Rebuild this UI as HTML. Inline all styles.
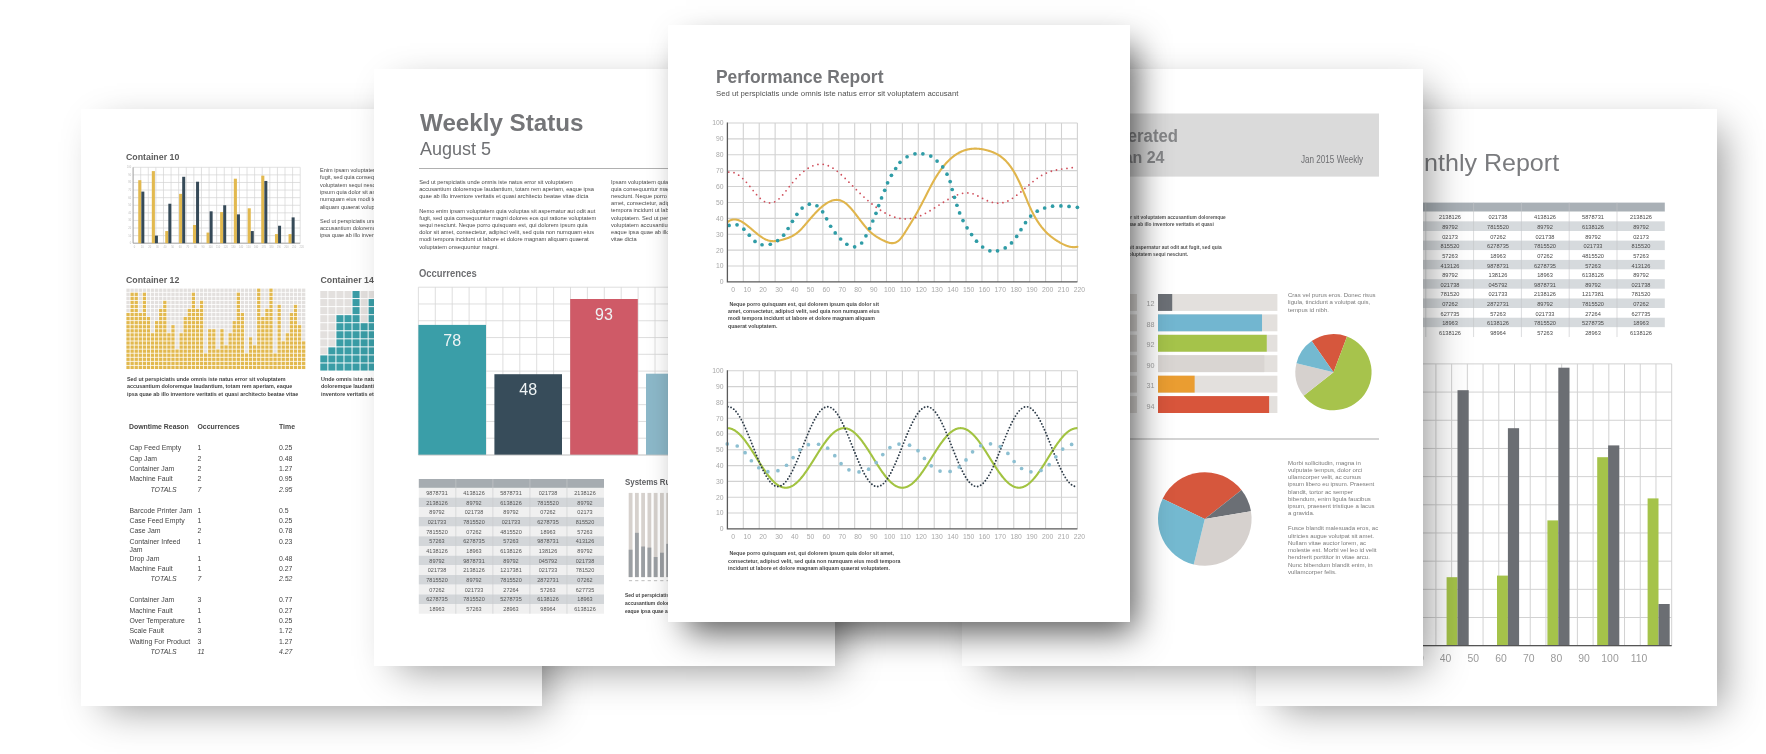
<!DOCTYPE html><html><head><meta charset="utf-8"><style>
html,body{margin:0;padding:0;background:#fff;}
body{width:1766px;height:754px;position:relative;overflow:hidden;font-family:"Liberation Sans", sans-serif;}
.pg{position:absolute;background:#fff;overflow:hidden;}
.in{position:absolute;width:1766px;height:754px;will-change:transform;}
.t{position:absolute;white-space:nowrap;}
.r{position:absolute;}
svg{position:absolute;left:0;top:0;overflow:visible;}
.pg{box-shadow: 14.3px 11.5px 38px -8.9px rgba(0,0,0,0.42);}
.pg.p3{box-shadow: 11.7px 15.4px 32.8px -5.9px rgba(0,0,0,0.67);}
</style></head><body>
<div class="pg p1" style="left:81px;top:109px;width:461px;height:597px;z-index:1;">
<div class="in" style="left:-81px;top:-109px;">
<svg width="1766" height="754" viewBox="0 0 1766 754"><line x1="133.1" y1="167.3" x2="133.1" y2="243.2" stroke="#d4d4d4" stroke-width="0.7"/><line x1="140.7" y1="167.3" x2="140.7" y2="243.2" stroke="#d4d4d4" stroke-width="0.7"/><line x1="148.29" y1="167.3" x2="148.29" y2="243.2" stroke="#d4d4d4" stroke-width="0.7"/><line x1="155.89" y1="167.3" x2="155.89" y2="243.2" stroke="#d4d4d4" stroke-width="0.7"/><line x1="163.48" y1="167.3" x2="163.48" y2="243.2" stroke="#d4d4d4" stroke-width="0.7"/><line x1="171.08" y1="167.3" x2="171.08" y2="243.2" stroke="#d4d4d4" stroke-width="0.7"/><line x1="178.67" y1="167.3" x2="178.67" y2="243.2" stroke="#d4d4d4" stroke-width="0.7"/><line x1="186.27" y1="167.3" x2="186.27" y2="243.2" stroke="#d4d4d4" stroke-width="0.7"/><line x1="193.86" y1="167.3" x2="193.86" y2="243.2" stroke="#d4d4d4" stroke-width="0.7"/><line x1="201.46" y1="167.3" x2="201.46" y2="243.2" stroke="#d4d4d4" stroke-width="0.7"/><line x1="209.05" y1="167.3" x2="209.05" y2="243.2" stroke="#d4d4d4" stroke-width="0.7"/><line x1="216.65" y1="167.3" x2="216.65" y2="243.2" stroke="#d4d4d4" stroke-width="0.7"/><line x1="224.25" y1="167.3" x2="224.25" y2="243.2" stroke="#d4d4d4" stroke-width="0.7"/><line x1="231.84" y1="167.3" x2="231.84" y2="243.2" stroke="#d4d4d4" stroke-width="0.7"/><line x1="239.44" y1="167.3" x2="239.44" y2="243.2" stroke="#d4d4d4" stroke-width="0.7"/><line x1="247.03" y1="167.3" x2="247.03" y2="243.2" stroke="#d4d4d4" stroke-width="0.7"/><line x1="254.63" y1="167.3" x2="254.63" y2="243.2" stroke="#d4d4d4" stroke-width="0.7"/><line x1="262.22" y1="167.3" x2="262.22" y2="243.2" stroke="#d4d4d4" stroke-width="0.7"/><line x1="269.82" y1="167.3" x2="269.82" y2="243.2" stroke="#d4d4d4" stroke-width="0.7"/><line x1="277.41" y1="167.3" x2="277.41" y2="243.2" stroke="#d4d4d4" stroke-width="0.7"/><line x1="285.01" y1="167.3" x2="285.01" y2="243.2" stroke="#d4d4d4" stroke-width="0.7"/><line x1="292.6" y1="167.3" x2="292.6" y2="243.2" stroke="#d4d4d4" stroke-width="0.7"/><line x1="300.2" y1="167.3" x2="300.2" y2="243.2" stroke="#d4d4d4" stroke-width="0.7"/><line x1="133.1" y1="167.3" x2="300.2" y2="167.3" stroke="#d4d4d4" stroke-width="0.7"/><line x1="133.1" y1="174.89" x2="300.2" y2="174.89" stroke="#d4d4d4" stroke-width="0.7"/><line x1="133.1" y1="182.48" x2="300.2" y2="182.48" stroke="#d4d4d4" stroke-width="0.7"/><line x1="133.1" y1="190.07" x2="300.2" y2="190.07" stroke="#d4d4d4" stroke-width="0.7"/><line x1="133.1" y1="197.66" x2="300.2" y2="197.66" stroke="#d4d4d4" stroke-width="0.7"/><line x1="133.1" y1="205.25" x2="300.2" y2="205.25" stroke="#d4d4d4" stroke-width="0.7"/><line x1="133.1" y1="212.84" x2="300.2" y2="212.84" stroke="#d4d4d4" stroke-width="0.7"/><line x1="133.1" y1="220.43" x2="300.2" y2="220.43" stroke="#d4d4d4" stroke-width="0.7"/><line x1="133.1" y1="228.02" x2="300.2" y2="228.02" stroke="#d4d4d4" stroke-width="0.7"/><line x1="133.1" y1="235.61" x2="300.2" y2="235.61" stroke="#d4d4d4" stroke-width="0.7"/><line x1="133.1" y1="243.2" x2="300.2" y2="243.2" stroke="#d4d4d4" stroke-width="0.7"/><line x1="133.1" y1="167.3" x2="133.1" y2="243.2" stroke="#999" stroke-width="0.8"/><line x1="133.1" y1="243.2" x2="300.2" y2="243.2" stroke="#999" stroke-width="0.8"/><rect x="138.24" y="180.2" width="3.1" height="63" fill="#e2b94f"/><rect x="141.34" y="191.59" width="3.0" height="51.61" fill="#364a58"/><rect x="151.81" y="171.1" width="3.1" height="72.1" fill="#e2b94f"/><rect x="154.91" y="235.61" width="3.0" height="7.59" fill="#364a58"/><rect x="165.24" y="231.06" width="3.1" height="12.14" fill="#e2b94f"/><rect x="168.34" y="203.73" width="3.0" height="39.47" fill="#364a58"/><rect x="179.1" y="193.87" width="3.1" height="49.33" fill="#e2b94f"/><rect x="182.2" y="176.79" width="3.0" height="66.41" fill="#364a58"/><rect x="192.96" y="224.98" width="3.1" height="18.22" fill="#e2b94f"/><rect x="196.06" y="181.72" width="3.0" height="61.48" fill="#364a58"/><rect x="206.53" y="232.57" width="3.1" height="10.63" fill="#e2b94f"/><rect x="209.63" y="211.32" width="3.0" height="31.88" fill="#364a58"/><rect x="220.1" y="212.08" width="3.1" height="31.12" fill="#e2b94f"/><rect x="223.2" y="205.25" width="3.0" height="37.95" fill="#364a58"/><rect x="233.82" y="178.69" width="3.1" height="64.51" fill="#e2b94f"/><rect x="236.92" y="214.36" width="3.0" height="28.84" fill="#364a58"/><rect x="247.68" y="208.29" width="3.1" height="34.91" fill="#e2b94f"/><rect x="250.78" y="231.06" width="3.0" height="12.14" fill="#364a58"/><rect x="261.25" y="175.65" width="3.1" height="67.55" fill="#e2b94f"/><rect x="264.35" y="180.96" width="3.0" height="62.24" fill="#364a58"/><rect x="274.97" y="234.09" width="3.1" height="9.11" fill="#e2b94f"/><rect x="278.07" y="225.74" width="3.0" height="17.46" fill="#364a58"/><rect x="288.54" y="234.09" width="3.1" height="9.11" fill="#e2b94f"/><rect x="291.64" y="217.39" width="3.0" height="25.81" fill="#364a58"/><text x="131.1" y="244.2" font-size="2.6" fill="#bbb" text-anchor="end" font-family="Liberation Sans">0</text><text x="131.1" y="236.61" font-size="2.6" fill="#bbb" text-anchor="end" font-family="Liberation Sans">10</text><text x="131.1" y="229.02" font-size="2.6" fill="#bbb" text-anchor="end" font-family="Liberation Sans">20</text><text x="131.1" y="221.43" font-size="2.6" fill="#bbb" text-anchor="end" font-family="Liberation Sans">30</text><text x="131.1" y="213.84" font-size="2.6" fill="#bbb" text-anchor="end" font-family="Liberation Sans">40</text><text x="131.1" y="206.25" font-size="2.6" fill="#bbb" text-anchor="end" font-family="Liberation Sans">50</text><text x="131.1" y="198.66" font-size="2.6" fill="#bbb" text-anchor="end" font-family="Liberation Sans">60</text><text x="131.1" y="191.07" font-size="2.6" fill="#bbb" text-anchor="end" font-family="Liberation Sans">70</text><text x="131.1" y="183.48" font-size="2.6" fill="#bbb" text-anchor="end" font-family="Liberation Sans">80</text><text x="131.1" y="175.89" font-size="2.6" fill="#bbb" text-anchor="end" font-family="Liberation Sans">90</text><text x="131.1" y="168.3" font-size="2.6" fill="#bbb" text-anchor="end" font-family="Liberation Sans">100</text><text x="134.6" y="247.7" font-size="2.6" fill="#bbb" text-anchor="middle" font-family="Liberation Sans">0</text><text x="142.2" y="247.7" font-size="2.6" fill="#bbb" text-anchor="middle" font-family="Liberation Sans">10</text><text x="149.79" y="247.7" font-size="2.6" fill="#bbb" text-anchor="middle" font-family="Liberation Sans">20</text><text x="157.39" y="247.7" font-size="2.6" fill="#bbb" text-anchor="middle" font-family="Liberation Sans">30</text><text x="164.98" y="247.7" font-size="2.6" fill="#bbb" text-anchor="middle" font-family="Liberation Sans">40</text><text x="172.58" y="247.7" font-size="2.6" fill="#bbb" text-anchor="middle" font-family="Liberation Sans">50</text><text x="180.17" y="247.7" font-size="2.6" fill="#bbb" text-anchor="middle" font-family="Liberation Sans">60</text><text x="187.77" y="247.7" font-size="2.6" fill="#bbb" text-anchor="middle" font-family="Liberation Sans">70</text><text x="195.36" y="247.7" font-size="2.6" fill="#bbb" text-anchor="middle" font-family="Liberation Sans">80</text><text x="202.96" y="247.7" font-size="2.6" fill="#bbb" text-anchor="middle" font-family="Liberation Sans">90</text><text x="210.55" y="247.7" font-size="2.6" fill="#bbb" text-anchor="middle" font-family="Liberation Sans">100</text><text x="218.15" y="247.7" font-size="2.6" fill="#bbb" text-anchor="middle" font-family="Liberation Sans">110</text><text x="225.75" y="247.7" font-size="2.6" fill="#bbb" text-anchor="middle" font-family="Liberation Sans">120</text><text x="233.34" y="247.7" font-size="2.6" fill="#bbb" text-anchor="middle" font-family="Liberation Sans">130</text><text x="240.94" y="247.7" font-size="2.6" fill="#bbb" text-anchor="middle" font-family="Liberation Sans">140</text><text x="248.53" y="247.7" font-size="2.6" fill="#bbb" text-anchor="middle" font-family="Liberation Sans">150</text><text x="256.13" y="247.7" font-size="2.6" fill="#bbb" text-anchor="middle" font-family="Liberation Sans">160</text><text x="263.72" y="247.7" font-size="2.6" fill="#bbb" text-anchor="middle" font-family="Liberation Sans">170</text><text x="271.32" y="247.7" font-size="2.6" fill="#bbb" text-anchor="middle" font-family="Liberation Sans">180</text><text x="278.91" y="247.7" font-size="2.6" fill="#bbb" text-anchor="middle" font-family="Liberation Sans">190</text><text x="286.51" y="247.7" font-size="2.6" fill="#bbb" text-anchor="middle" font-family="Liberation Sans">200</text><text x="294.1" y="247.7" font-size="2.6" fill="#bbb" text-anchor="middle" font-family="Liberation Sans">210</text><text x="301.7" y="247.7" font-size="2.6" fill="#bbb" text-anchor="middle" font-family="Liberation Sans">220</text><rect x="126.4" y="288.6" width="3.3" height="3.3" fill="#e3e0de"/><rect x="126.4" y="292.66" width="3.3" height="3.3" fill="#e3e0de"/><rect x="126.4" y="296.72" width="3.3" height="3.3" fill="#e3e0de"/><rect x="126.4" y="300.78" width="3.3" height="3.3" fill="#e3e0de"/><rect x="126.4" y="304.84" width="3.3" height="3.3" fill="#e3e0de"/><rect x="126.4" y="308.9" width="3.3" height="3.3" fill="#e3e0de"/><rect x="126.4" y="312.96" width="3.3" height="3.3" fill="#e2b94f"/><rect x="126.4" y="317.02" width="3.3" height="3.3" fill="#e2b94f"/><rect x="126.4" y="321.08" width="3.3" height="3.3" fill="#e2b94f"/><rect x="126.4" y="325.14" width="3.3" height="3.3" fill="#e2b94f"/><rect x="126.4" y="329.2" width="3.3" height="3.3" fill="#e2b94f"/><rect x="126.4" y="333.26" width="3.3" height="3.3" fill="#e2b94f"/><rect x="126.4" y="337.32" width="3.3" height="3.3" fill="#e2b94f"/><rect x="126.4" y="341.38" width="3.3" height="3.3" fill="#e2b94f"/><rect x="126.4" y="345.44" width="3.3" height="3.3" fill="#e2b94f"/><rect x="126.4" y="349.5" width="3.3" height="3.3" fill="#e2b94f"/><rect x="126.4" y="353.56" width="3.3" height="3.3" fill="#e2b94f"/><rect x="126.4" y="357.62" width="3.3" height="3.3" fill="#e2b94f"/><rect x="126.4" y="361.68" width="3.3" height="3.3" fill="#e2b94f"/><rect x="126.4" y="365.74" width="3.3" height="3.3" fill="#e2b94f"/><rect x="130.48" y="288.6" width="3.3" height="3.3" fill="#e3e0de"/><rect x="130.48" y="292.66" width="3.3" height="3.3" fill="#e2b94f"/><rect x="130.48" y="296.72" width="3.3" height="3.3" fill="#e2b94f"/><rect x="130.48" y="300.78" width="3.3" height="3.3" fill="#e2b94f"/><rect x="130.48" y="304.84" width="3.3" height="3.3" fill="#e2b94f"/><rect x="130.48" y="308.9" width="3.3" height="3.3" fill="#e2b94f"/><rect x="130.48" y="312.96" width="3.3" height="3.3" fill="#e2b94f"/><rect x="130.48" y="317.02" width="3.3" height="3.3" fill="#e2b94f"/><rect x="130.48" y="321.08" width="3.3" height="3.3" fill="#e2b94f"/><rect x="130.48" y="325.14" width="3.3" height="3.3" fill="#e2b94f"/><rect x="130.48" y="329.2" width="3.3" height="3.3" fill="#e2b94f"/><rect x="130.48" y="333.26" width="3.3" height="3.3" fill="#e2b94f"/><rect x="130.48" y="337.32" width="3.3" height="3.3" fill="#e2b94f"/><rect x="130.48" y="341.38" width="3.3" height="3.3" fill="#e2b94f"/><rect x="130.48" y="345.44" width="3.3" height="3.3" fill="#e2b94f"/><rect x="130.48" y="349.5" width="3.3" height="3.3" fill="#e2b94f"/><rect x="130.48" y="353.56" width="3.3" height="3.3" fill="#e2b94f"/><rect x="130.48" y="357.62" width="3.3" height="3.3" fill="#e2b94f"/><rect x="130.48" y="361.68" width="3.3" height="3.3" fill="#e2b94f"/><rect x="130.48" y="365.74" width="3.3" height="3.3" fill="#e2b94f"/><rect x="134.57" y="288.6" width="3.3" height="3.3" fill="#e3e0de"/><rect x="134.57" y="292.66" width="3.3" height="3.3" fill="#e2b94f"/><rect x="134.57" y="296.72" width="3.3" height="3.3" fill="#e2b94f"/><rect x="134.57" y="300.78" width="3.3" height="3.3" fill="#e2b94f"/><rect x="134.57" y="304.84" width="3.3" height="3.3" fill="#e2b94f"/><rect x="134.57" y="308.9" width="3.3" height="3.3" fill="#e2b94f"/><rect x="134.57" y="312.96" width="3.3" height="3.3" fill="#e2b94f"/><rect x="134.57" y="317.02" width="3.3" height="3.3" fill="#e2b94f"/><rect x="134.57" y="321.08" width="3.3" height="3.3" fill="#e2b94f"/><rect x="134.57" y="325.14" width="3.3" height="3.3" fill="#e2b94f"/><rect x="134.57" y="329.2" width="3.3" height="3.3" fill="#e2b94f"/><rect x="134.57" y="333.26" width="3.3" height="3.3" fill="#e2b94f"/><rect x="134.57" y="337.32" width="3.3" height="3.3" fill="#e2b94f"/><rect x="134.57" y="341.38" width="3.3" height="3.3" fill="#e2b94f"/><rect x="134.57" y="345.44" width="3.3" height="3.3" fill="#e2b94f"/><rect x="134.57" y="349.5" width="3.3" height="3.3" fill="#e2b94f"/><rect x="134.57" y="353.56" width="3.3" height="3.3" fill="#e2b94f"/><rect x="134.57" y="357.62" width="3.3" height="3.3" fill="#e2b94f"/><rect x="134.57" y="361.68" width="3.3" height="3.3" fill="#e2b94f"/><rect x="134.57" y="365.74" width="3.3" height="3.3" fill="#e2b94f"/><rect x="138.65" y="288.6" width="3.3" height="3.3" fill="#e3e0de"/><rect x="138.65" y="292.66" width="3.3" height="3.3" fill="#e3e0de"/><rect x="138.65" y="296.72" width="3.3" height="3.3" fill="#e3e0de"/><rect x="138.65" y="300.78" width="3.3" height="3.3" fill="#e3e0de"/><rect x="138.65" y="304.84" width="3.3" height="3.3" fill="#e3e0de"/><rect x="138.65" y="308.9" width="3.3" height="3.3" fill="#e3e0de"/><rect x="138.65" y="312.96" width="3.3" height="3.3" fill="#e2b94f"/><rect x="138.65" y="317.02" width="3.3" height="3.3" fill="#e2b94f"/><rect x="138.65" y="321.08" width="3.3" height="3.3" fill="#e2b94f"/><rect x="138.65" y="325.14" width="3.3" height="3.3" fill="#e2b94f"/><rect x="138.65" y="329.2" width="3.3" height="3.3" fill="#e2b94f"/><rect x="138.65" y="333.26" width="3.3" height="3.3" fill="#e2b94f"/><rect x="138.65" y="337.32" width="3.3" height="3.3" fill="#e2b94f"/><rect x="138.65" y="341.38" width="3.3" height="3.3" fill="#e2b94f"/><rect x="138.65" y="345.44" width="3.3" height="3.3" fill="#e2b94f"/><rect x="138.65" y="349.5" width="3.3" height="3.3" fill="#e2b94f"/><rect x="138.65" y="353.56" width="3.3" height="3.3" fill="#e2b94f"/><rect x="138.65" y="357.62" width="3.3" height="3.3" fill="#e2b94f"/><rect x="138.65" y="361.68" width="3.3" height="3.3" fill="#e2b94f"/><rect x="138.65" y="365.74" width="3.3" height="3.3" fill="#e2b94f"/><rect x="142.74" y="288.6" width="3.3" height="3.3" fill="#e3e0de"/><rect x="142.74" y="292.66" width="3.3" height="3.3" fill="#e2b94f"/><rect x="142.74" y="296.72" width="3.3" height="3.3" fill="#e2b94f"/><rect x="142.74" y="300.78" width="3.3" height="3.3" fill="#e2b94f"/><rect x="142.74" y="304.84" width="3.3" height="3.3" fill="#e2b94f"/><rect x="142.74" y="308.9" width="3.3" height="3.3" fill="#e2b94f"/><rect x="142.74" y="312.96" width="3.3" height="3.3" fill="#e2b94f"/><rect x="142.74" y="317.02" width="3.3" height="3.3" fill="#e2b94f"/><rect x="142.74" y="321.08" width="3.3" height="3.3" fill="#e2b94f"/><rect x="142.74" y="325.14" width="3.3" height="3.3" fill="#e2b94f"/><rect x="142.74" y="329.2" width="3.3" height="3.3" fill="#e2b94f"/><rect x="142.74" y="333.26" width="3.3" height="3.3" fill="#e2b94f"/><rect x="142.74" y="337.32" width="3.3" height="3.3" fill="#e2b94f"/><rect x="142.74" y="341.38" width="3.3" height="3.3" fill="#e2b94f"/><rect x="142.74" y="345.44" width="3.3" height="3.3" fill="#e2b94f"/><rect x="142.74" y="349.5" width="3.3" height="3.3" fill="#e2b94f"/><rect x="142.74" y="353.56" width="3.3" height="3.3" fill="#e2b94f"/><rect x="142.74" y="357.62" width="3.3" height="3.3" fill="#e2b94f"/><rect x="142.74" y="361.68" width="3.3" height="3.3" fill="#e2b94f"/><rect x="142.74" y="365.74" width="3.3" height="3.3" fill="#e2b94f"/><rect x="146.82" y="288.6" width="3.3" height="3.3" fill="#e3e0de"/><rect x="146.82" y="292.66" width="3.3" height="3.3" fill="#e3e0de"/><rect x="146.82" y="296.72" width="3.3" height="3.3" fill="#e3e0de"/><rect x="146.82" y="300.78" width="3.3" height="3.3" fill="#e3e0de"/><rect x="146.82" y="304.84" width="3.3" height="3.3" fill="#e3e0de"/><rect x="146.82" y="308.9" width="3.3" height="3.3" fill="#e3e0de"/><rect x="146.82" y="312.96" width="3.3" height="3.3" fill="#e3e0de"/><rect x="146.82" y="317.02" width="3.3" height="3.3" fill="#e2b94f"/><rect x="146.82" y="321.08" width="3.3" height="3.3" fill="#e2b94f"/><rect x="146.82" y="325.14" width="3.3" height="3.3" fill="#e2b94f"/><rect x="146.82" y="329.2" width="3.3" height="3.3" fill="#e2b94f"/><rect x="146.82" y="333.26" width="3.3" height="3.3" fill="#e2b94f"/><rect x="146.82" y="337.32" width="3.3" height="3.3" fill="#e2b94f"/><rect x="146.82" y="341.38" width="3.3" height="3.3" fill="#e2b94f"/><rect x="146.82" y="345.44" width="3.3" height="3.3" fill="#e2b94f"/><rect x="146.82" y="349.5" width="3.3" height="3.3" fill="#e2b94f"/><rect x="146.82" y="353.56" width="3.3" height="3.3" fill="#e2b94f"/><rect x="146.82" y="357.62" width="3.3" height="3.3" fill="#e2b94f"/><rect x="146.82" y="361.68" width="3.3" height="3.3" fill="#e2b94f"/><rect x="146.82" y="365.74" width="3.3" height="3.3" fill="#e2b94f"/><rect x="150.9" y="288.6" width="3.3" height="3.3" fill="#e3e0de"/><rect x="150.9" y="292.66" width="3.3" height="3.3" fill="#e3e0de"/><rect x="150.9" y="296.72" width="3.3" height="3.3" fill="#e3e0de"/><rect x="150.9" y="300.78" width="3.3" height="3.3" fill="#e3e0de"/><rect x="150.9" y="304.84" width="3.3" height="3.3" fill="#e3e0de"/><rect x="150.9" y="308.9" width="3.3" height="3.3" fill="#e3e0de"/><rect x="150.9" y="312.96" width="3.3" height="3.3" fill="#e3e0de"/><rect x="150.9" y="317.02" width="3.3" height="3.3" fill="#e3e0de"/><rect x="150.9" y="321.08" width="3.3" height="3.3" fill="#e3e0de"/><rect x="150.9" y="325.14" width="3.3" height="3.3" fill="#e3e0de"/><rect x="150.9" y="329.2" width="3.3" height="3.3" fill="#e3e0de"/><rect x="150.9" y="333.26" width="3.3" height="3.3" fill="#e2b94f"/><rect x="150.9" y="337.32" width="3.3" height="3.3" fill="#e2b94f"/><rect x="150.9" y="341.38" width="3.3" height="3.3" fill="#e2b94f"/><rect x="150.9" y="345.44" width="3.3" height="3.3" fill="#e2b94f"/><rect x="150.9" y="349.5" width="3.3" height="3.3" fill="#e2b94f"/><rect x="150.9" y="353.56" width="3.3" height="3.3" fill="#e2b94f"/><rect x="150.9" y="357.62" width="3.3" height="3.3" fill="#e2b94f"/><rect x="150.9" y="361.68" width="3.3" height="3.3" fill="#e2b94f"/><rect x="150.9" y="365.74" width="3.3" height="3.3" fill="#e2b94f"/><rect x="154.99" y="288.6" width="3.3" height="3.3" fill="#e3e0de"/><rect x="154.99" y="292.66" width="3.3" height="3.3" fill="#e3e0de"/><rect x="154.99" y="296.72" width="3.3" height="3.3" fill="#e3e0de"/><rect x="154.99" y="300.78" width="3.3" height="3.3" fill="#e3e0de"/><rect x="154.99" y="304.84" width="3.3" height="3.3" fill="#e3e0de"/><rect x="154.99" y="308.9" width="3.3" height="3.3" fill="#e3e0de"/><rect x="154.99" y="312.96" width="3.3" height="3.3" fill="#e3e0de"/><rect x="154.99" y="317.02" width="3.3" height="3.3" fill="#e3e0de"/><rect x="154.99" y="321.08" width="3.3" height="3.3" fill="#e2b94f"/><rect x="154.99" y="325.14" width="3.3" height="3.3" fill="#e2b94f"/><rect x="154.99" y="329.2" width="3.3" height="3.3" fill="#e2b94f"/><rect x="154.99" y="333.26" width="3.3" height="3.3" fill="#e2b94f"/><rect x="154.99" y="337.32" width="3.3" height="3.3" fill="#e2b94f"/><rect x="154.99" y="341.38" width="3.3" height="3.3" fill="#e2b94f"/><rect x="154.99" y="345.44" width="3.3" height="3.3" fill="#e2b94f"/><rect x="154.99" y="349.5" width="3.3" height="3.3" fill="#e2b94f"/><rect x="154.99" y="353.56" width="3.3" height="3.3" fill="#e2b94f"/><rect x="154.99" y="357.62" width="3.3" height="3.3" fill="#e2b94f"/><rect x="154.99" y="361.68" width="3.3" height="3.3" fill="#e2b94f"/><rect x="154.99" y="365.74" width="3.3" height="3.3" fill="#e2b94f"/><rect x="159.07" y="288.6" width="3.3" height="3.3" fill="#e3e0de"/><rect x="159.07" y="292.66" width="3.3" height="3.3" fill="#e3e0de"/><rect x="159.07" y="296.72" width="3.3" height="3.3" fill="#e3e0de"/><rect x="159.07" y="300.78" width="3.3" height="3.3" fill="#e3e0de"/><rect x="159.07" y="304.84" width="3.3" height="3.3" fill="#e3e0de"/><rect x="159.07" y="308.9" width="3.3" height="3.3" fill="#e2b94f"/><rect x="159.07" y="312.96" width="3.3" height="3.3" fill="#e2b94f"/><rect x="159.07" y="317.02" width="3.3" height="3.3" fill="#e2b94f"/><rect x="159.07" y="321.08" width="3.3" height="3.3" fill="#e2b94f"/><rect x="159.07" y="325.14" width="3.3" height="3.3" fill="#e2b94f"/><rect x="159.07" y="329.2" width="3.3" height="3.3" fill="#e2b94f"/><rect x="159.07" y="333.26" width="3.3" height="3.3" fill="#e2b94f"/><rect x="159.07" y="337.32" width="3.3" height="3.3" fill="#e2b94f"/><rect x="159.07" y="341.38" width="3.3" height="3.3" fill="#e2b94f"/><rect x="159.07" y="345.44" width="3.3" height="3.3" fill="#e2b94f"/><rect x="159.07" y="349.5" width="3.3" height="3.3" fill="#e2b94f"/><rect x="159.07" y="353.56" width="3.3" height="3.3" fill="#e2b94f"/><rect x="159.07" y="357.62" width="3.3" height="3.3" fill="#e2b94f"/><rect x="159.07" y="361.68" width="3.3" height="3.3" fill="#e2b94f"/><rect x="159.07" y="365.74" width="3.3" height="3.3" fill="#e2b94f"/><rect x="163.16" y="288.6" width="3.3" height="3.3" fill="#e3e0de"/><rect x="163.16" y="292.66" width="3.3" height="3.3" fill="#e3e0de"/><rect x="163.16" y="296.72" width="3.3" height="3.3" fill="#e3e0de"/><rect x="163.16" y="300.78" width="3.3" height="3.3" fill="#e2b94f"/><rect x="163.16" y="304.84" width="3.3" height="3.3" fill="#e2b94f"/><rect x="163.16" y="308.9" width="3.3" height="3.3" fill="#e2b94f"/><rect x="163.16" y="312.96" width="3.3" height="3.3" fill="#e2b94f"/><rect x="163.16" y="317.02" width="3.3" height="3.3" fill="#e2b94f"/><rect x="163.16" y="321.08" width="3.3" height="3.3" fill="#e2b94f"/><rect x="163.16" y="325.14" width="3.3" height="3.3" fill="#e2b94f"/><rect x="163.16" y="329.2" width="3.3" height="3.3" fill="#e2b94f"/><rect x="163.16" y="333.26" width="3.3" height="3.3" fill="#e2b94f"/><rect x="163.16" y="337.32" width="3.3" height="3.3" fill="#e2b94f"/><rect x="163.16" y="341.38" width="3.3" height="3.3" fill="#e2b94f"/><rect x="163.16" y="345.44" width="3.3" height="3.3" fill="#e2b94f"/><rect x="163.16" y="349.5" width="3.3" height="3.3" fill="#e2b94f"/><rect x="163.16" y="353.56" width="3.3" height="3.3" fill="#e2b94f"/><rect x="163.16" y="357.62" width="3.3" height="3.3" fill="#e2b94f"/><rect x="163.16" y="361.68" width="3.3" height="3.3" fill="#e2b94f"/><rect x="163.16" y="365.74" width="3.3" height="3.3" fill="#e2b94f"/><rect x="167.24" y="288.6" width="3.3" height="3.3" fill="#e3e0de"/><rect x="167.24" y="292.66" width="3.3" height="3.3" fill="#e3e0de"/><rect x="167.24" y="296.72" width="3.3" height="3.3" fill="#e3e0de"/><rect x="167.24" y="300.78" width="3.3" height="3.3" fill="#e3e0de"/><rect x="167.24" y="304.84" width="3.3" height="3.3" fill="#e3e0de"/><rect x="167.24" y="308.9" width="3.3" height="3.3" fill="#e3e0de"/><rect x="167.24" y="312.96" width="3.3" height="3.3" fill="#e3e0de"/><rect x="167.24" y="317.02" width="3.3" height="3.3" fill="#e3e0de"/><rect x="167.24" y="321.08" width="3.3" height="3.3" fill="#e3e0de"/><rect x="167.24" y="325.14" width="3.3" height="3.3" fill="#e3e0de"/><rect x="167.24" y="329.2" width="3.3" height="3.3" fill="#e3e0de"/><rect x="167.24" y="333.26" width="3.3" height="3.3" fill="#e2b94f"/><rect x="167.24" y="337.32" width="3.3" height="3.3" fill="#e2b94f"/><rect x="167.24" y="341.38" width="3.3" height="3.3" fill="#e2b94f"/><rect x="167.24" y="345.44" width="3.3" height="3.3" fill="#e2b94f"/><rect x="167.24" y="349.5" width="3.3" height="3.3" fill="#e2b94f"/><rect x="167.24" y="353.56" width="3.3" height="3.3" fill="#e2b94f"/><rect x="167.24" y="357.62" width="3.3" height="3.3" fill="#e2b94f"/><rect x="167.24" y="361.68" width="3.3" height="3.3" fill="#e2b94f"/><rect x="167.24" y="365.74" width="3.3" height="3.3" fill="#e2b94f"/><rect x="171.32" y="288.6" width="3.3" height="3.3" fill="#e3e0de"/><rect x="171.32" y="292.66" width="3.3" height="3.3" fill="#e3e0de"/><rect x="171.32" y="296.72" width="3.3" height="3.3" fill="#e3e0de"/><rect x="171.32" y="300.78" width="3.3" height="3.3" fill="#e3e0de"/><rect x="171.32" y="304.84" width="3.3" height="3.3" fill="#e3e0de"/><rect x="171.32" y="308.9" width="3.3" height="3.3" fill="#e3e0de"/><rect x="171.32" y="312.96" width="3.3" height="3.3" fill="#e3e0de"/><rect x="171.32" y="317.02" width="3.3" height="3.3" fill="#e3e0de"/><rect x="171.32" y="321.08" width="3.3" height="3.3" fill="#e3e0de"/><rect x="171.32" y="325.14" width="3.3" height="3.3" fill="#e2b94f"/><rect x="171.32" y="329.2" width="3.3" height="3.3" fill="#e2b94f"/><rect x="171.32" y="333.26" width="3.3" height="3.3" fill="#e2b94f"/><rect x="171.32" y="337.32" width="3.3" height="3.3" fill="#e2b94f"/><rect x="171.32" y="341.38" width="3.3" height="3.3" fill="#e2b94f"/><rect x="171.32" y="345.44" width="3.3" height="3.3" fill="#e2b94f"/><rect x="171.32" y="349.5" width="3.3" height="3.3" fill="#e2b94f"/><rect x="171.32" y="353.56" width="3.3" height="3.3" fill="#e2b94f"/><rect x="171.32" y="357.62" width="3.3" height="3.3" fill="#e2b94f"/><rect x="171.32" y="361.68" width="3.3" height="3.3" fill="#e2b94f"/><rect x="171.32" y="365.74" width="3.3" height="3.3" fill="#e2b94f"/><rect x="175.41" y="288.6" width="3.3" height="3.3" fill="#e3e0de"/><rect x="175.41" y="292.66" width="3.3" height="3.3" fill="#e3e0de"/><rect x="175.41" y="296.72" width="3.3" height="3.3" fill="#e3e0de"/><rect x="175.41" y="300.78" width="3.3" height="3.3" fill="#e3e0de"/><rect x="175.41" y="304.84" width="3.3" height="3.3" fill="#e3e0de"/><rect x="175.41" y="308.9" width="3.3" height="3.3" fill="#e3e0de"/><rect x="175.41" y="312.96" width="3.3" height="3.3" fill="#e3e0de"/><rect x="175.41" y="317.02" width="3.3" height="3.3" fill="#e3e0de"/><rect x="175.41" y="321.08" width="3.3" height="3.3" fill="#e3e0de"/><rect x="175.41" y="325.14" width="3.3" height="3.3" fill="#e3e0de"/><rect x="175.41" y="329.2" width="3.3" height="3.3" fill="#e3e0de"/><rect x="175.41" y="333.26" width="3.3" height="3.3" fill="#e3e0de"/><rect x="175.41" y="337.32" width="3.3" height="3.3" fill="#e3e0de"/><rect x="175.41" y="341.38" width="3.3" height="3.3" fill="#e3e0de"/><rect x="175.41" y="345.44" width="3.3" height="3.3" fill="#e3e0de"/><rect x="175.41" y="349.5" width="3.3" height="3.3" fill="#e2b94f"/><rect x="175.41" y="353.56" width="3.3" height="3.3" fill="#e2b94f"/><rect x="175.41" y="357.62" width="3.3" height="3.3" fill="#e2b94f"/><rect x="175.41" y="361.68" width="3.3" height="3.3" fill="#e2b94f"/><rect x="175.41" y="365.74" width="3.3" height="3.3" fill="#e2b94f"/><rect x="179.49" y="288.6" width="3.3" height="3.3" fill="#e3e0de"/><rect x="179.49" y="292.66" width="3.3" height="3.3" fill="#e3e0de"/><rect x="179.49" y="296.72" width="3.3" height="3.3" fill="#e3e0de"/><rect x="179.49" y="300.78" width="3.3" height="3.3" fill="#e3e0de"/><rect x="179.49" y="304.84" width="3.3" height="3.3" fill="#e3e0de"/><rect x="179.49" y="308.9" width="3.3" height="3.3" fill="#e3e0de"/><rect x="179.49" y="312.96" width="3.3" height="3.3" fill="#e3e0de"/><rect x="179.49" y="317.02" width="3.3" height="3.3" fill="#e3e0de"/><rect x="179.49" y="321.08" width="3.3" height="3.3" fill="#e3e0de"/><rect x="179.49" y="325.14" width="3.3" height="3.3" fill="#e3e0de"/><rect x="179.49" y="329.2" width="3.3" height="3.3" fill="#e3e0de"/><rect x="179.49" y="333.26" width="3.3" height="3.3" fill="#e2b94f"/><rect x="179.49" y="337.32" width="3.3" height="3.3" fill="#e2b94f"/><rect x="179.49" y="341.38" width="3.3" height="3.3" fill="#e2b94f"/><rect x="179.49" y="345.44" width="3.3" height="3.3" fill="#e2b94f"/><rect x="179.49" y="349.5" width="3.3" height="3.3" fill="#e2b94f"/><rect x="179.49" y="353.56" width="3.3" height="3.3" fill="#e2b94f"/><rect x="179.49" y="357.62" width="3.3" height="3.3" fill="#e2b94f"/><rect x="179.49" y="361.68" width="3.3" height="3.3" fill="#e2b94f"/><rect x="179.49" y="365.74" width="3.3" height="3.3" fill="#e2b94f"/><rect x="183.58" y="288.6" width="3.3" height="3.3" fill="#e3e0de"/><rect x="183.58" y="292.66" width="3.3" height="3.3" fill="#e3e0de"/><rect x="183.58" y="296.72" width="3.3" height="3.3" fill="#e3e0de"/><rect x="183.58" y="300.78" width="3.3" height="3.3" fill="#e3e0de"/><rect x="183.58" y="304.84" width="3.3" height="3.3" fill="#e3e0de"/><rect x="183.58" y="308.9" width="3.3" height="3.3" fill="#e3e0de"/><rect x="183.58" y="312.96" width="3.3" height="3.3" fill="#e3e0de"/><rect x="183.58" y="317.02" width="3.3" height="3.3" fill="#e2b94f"/><rect x="183.58" y="321.08" width="3.3" height="3.3" fill="#e2b94f"/><rect x="183.58" y="325.14" width="3.3" height="3.3" fill="#e2b94f"/><rect x="183.58" y="329.2" width="3.3" height="3.3" fill="#e2b94f"/><rect x="183.58" y="333.26" width="3.3" height="3.3" fill="#e2b94f"/><rect x="183.58" y="337.32" width="3.3" height="3.3" fill="#e2b94f"/><rect x="183.58" y="341.38" width="3.3" height="3.3" fill="#e2b94f"/><rect x="183.58" y="345.44" width="3.3" height="3.3" fill="#e2b94f"/><rect x="183.58" y="349.5" width="3.3" height="3.3" fill="#e2b94f"/><rect x="183.58" y="353.56" width="3.3" height="3.3" fill="#e2b94f"/><rect x="183.58" y="357.62" width="3.3" height="3.3" fill="#e2b94f"/><rect x="183.58" y="361.68" width="3.3" height="3.3" fill="#e2b94f"/><rect x="183.58" y="365.74" width="3.3" height="3.3" fill="#e2b94f"/><rect x="187.66" y="288.6" width="3.3" height="3.3" fill="#e3e0de"/><rect x="187.66" y="292.66" width="3.3" height="3.3" fill="#e3e0de"/><rect x="187.66" y="296.72" width="3.3" height="3.3" fill="#e3e0de"/><rect x="187.66" y="300.78" width="3.3" height="3.3" fill="#e3e0de"/><rect x="187.66" y="304.84" width="3.3" height="3.3" fill="#e3e0de"/><rect x="187.66" y="308.9" width="3.3" height="3.3" fill="#e2b94f"/><rect x="187.66" y="312.96" width="3.3" height="3.3" fill="#e2b94f"/><rect x="187.66" y="317.02" width="3.3" height="3.3" fill="#e2b94f"/><rect x="187.66" y="321.08" width="3.3" height="3.3" fill="#e2b94f"/><rect x="187.66" y="325.14" width="3.3" height="3.3" fill="#e2b94f"/><rect x="187.66" y="329.2" width="3.3" height="3.3" fill="#e2b94f"/><rect x="187.66" y="333.26" width="3.3" height="3.3" fill="#e2b94f"/><rect x="187.66" y="337.32" width="3.3" height="3.3" fill="#e2b94f"/><rect x="187.66" y="341.38" width="3.3" height="3.3" fill="#e2b94f"/><rect x="187.66" y="345.44" width="3.3" height="3.3" fill="#e2b94f"/><rect x="187.66" y="349.5" width="3.3" height="3.3" fill="#e2b94f"/><rect x="187.66" y="353.56" width="3.3" height="3.3" fill="#e2b94f"/><rect x="187.66" y="357.62" width="3.3" height="3.3" fill="#e2b94f"/><rect x="187.66" y="361.68" width="3.3" height="3.3" fill="#e2b94f"/><rect x="187.66" y="365.74" width="3.3" height="3.3" fill="#e2b94f"/><rect x="191.74" y="288.6" width="3.3" height="3.3" fill="#e3e0de"/><rect x="191.74" y="292.66" width="3.3" height="3.3" fill="#e2b94f"/><rect x="191.74" y="296.72" width="3.3" height="3.3" fill="#e2b94f"/><rect x="191.74" y="300.78" width="3.3" height="3.3" fill="#e2b94f"/><rect x="191.74" y="304.84" width="3.3" height="3.3" fill="#e2b94f"/><rect x="191.74" y="308.9" width="3.3" height="3.3" fill="#e2b94f"/><rect x="191.74" y="312.96" width="3.3" height="3.3" fill="#e2b94f"/><rect x="191.74" y="317.02" width="3.3" height="3.3" fill="#e2b94f"/><rect x="191.74" y="321.08" width="3.3" height="3.3" fill="#e2b94f"/><rect x="191.74" y="325.14" width="3.3" height="3.3" fill="#e2b94f"/><rect x="191.74" y="329.2" width="3.3" height="3.3" fill="#e2b94f"/><rect x="191.74" y="333.26" width="3.3" height="3.3" fill="#e2b94f"/><rect x="191.74" y="337.32" width="3.3" height="3.3" fill="#e2b94f"/><rect x="191.74" y="341.38" width="3.3" height="3.3" fill="#e2b94f"/><rect x="191.74" y="345.44" width="3.3" height="3.3" fill="#e2b94f"/><rect x="191.74" y="349.5" width="3.3" height="3.3" fill="#e2b94f"/><rect x="191.74" y="353.56" width="3.3" height="3.3" fill="#e2b94f"/><rect x="191.74" y="357.62" width="3.3" height="3.3" fill="#e2b94f"/><rect x="191.74" y="361.68" width="3.3" height="3.3" fill="#e2b94f"/><rect x="191.74" y="365.74" width="3.3" height="3.3" fill="#e2b94f"/><rect x="195.83" y="288.6" width="3.3" height="3.3" fill="#e3e0de"/><rect x="195.83" y="292.66" width="3.3" height="3.3" fill="#e3e0de"/><rect x="195.83" y="296.72" width="3.3" height="3.3" fill="#e3e0de"/><rect x="195.83" y="300.78" width="3.3" height="3.3" fill="#e3e0de"/><rect x="195.83" y="304.84" width="3.3" height="3.3" fill="#e3e0de"/><rect x="195.83" y="308.9" width="3.3" height="3.3" fill="#e2b94f"/><rect x="195.83" y="312.96" width="3.3" height="3.3" fill="#e2b94f"/><rect x="195.83" y="317.02" width="3.3" height="3.3" fill="#e2b94f"/><rect x="195.83" y="321.08" width="3.3" height="3.3" fill="#e2b94f"/><rect x="195.83" y="325.14" width="3.3" height="3.3" fill="#e2b94f"/><rect x="195.83" y="329.2" width="3.3" height="3.3" fill="#e2b94f"/><rect x="195.83" y="333.26" width="3.3" height="3.3" fill="#e2b94f"/><rect x="195.83" y="337.32" width="3.3" height="3.3" fill="#e2b94f"/><rect x="195.83" y="341.38" width="3.3" height="3.3" fill="#e2b94f"/><rect x="195.83" y="345.44" width="3.3" height="3.3" fill="#e2b94f"/><rect x="195.83" y="349.5" width="3.3" height="3.3" fill="#e2b94f"/><rect x="195.83" y="353.56" width="3.3" height="3.3" fill="#e2b94f"/><rect x="195.83" y="357.62" width="3.3" height="3.3" fill="#e2b94f"/><rect x="195.83" y="361.68" width="3.3" height="3.3" fill="#e2b94f"/><rect x="195.83" y="365.74" width="3.3" height="3.3" fill="#e2b94f"/><rect x="199.91" y="288.6" width="3.3" height="3.3" fill="#e3e0de"/><rect x="199.91" y="292.66" width="3.3" height="3.3" fill="#e3e0de"/><rect x="199.91" y="296.72" width="3.3" height="3.3" fill="#e3e0de"/><rect x="199.91" y="300.78" width="3.3" height="3.3" fill="#e2b94f"/><rect x="199.91" y="304.84" width="3.3" height="3.3" fill="#e2b94f"/><rect x="199.91" y="308.9" width="3.3" height="3.3" fill="#e2b94f"/><rect x="199.91" y="312.96" width="3.3" height="3.3" fill="#e2b94f"/><rect x="199.91" y="317.02" width="3.3" height="3.3" fill="#e2b94f"/><rect x="199.91" y="321.08" width="3.3" height="3.3" fill="#e2b94f"/><rect x="199.91" y="325.14" width="3.3" height="3.3" fill="#e2b94f"/><rect x="199.91" y="329.2" width="3.3" height="3.3" fill="#e2b94f"/><rect x="199.91" y="333.26" width="3.3" height="3.3" fill="#e2b94f"/><rect x="199.91" y="337.32" width="3.3" height="3.3" fill="#e2b94f"/><rect x="199.91" y="341.38" width="3.3" height="3.3" fill="#e2b94f"/><rect x="199.91" y="345.44" width="3.3" height="3.3" fill="#e2b94f"/><rect x="199.91" y="349.5" width="3.3" height="3.3" fill="#e2b94f"/><rect x="199.91" y="353.56" width="3.3" height="3.3" fill="#e2b94f"/><rect x="199.91" y="357.62" width="3.3" height="3.3" fill="#e2b94f"/><rect x="199.91" y="361.68" width="3.3" height="3.3" fill="#e2b94f"/><rect x="199.91" y="365.74" width="3.3" height="3.3" fill="#e2b94f"/><rect x="204" y="288.6" width="3.3" height="3.3" fill="#e3e0de"/><rect x="204" y="292.66" width="3.3" height="3.3" fill="#e3e0de"/><rect x="204" y="296.72" width="3.3" height="3.3" fill="#e3e0de"/><rect x="204" y="300.78" width="3.3" height="3.3" fill="#e3e0de"/><rect x="204" y="304.84" width="3.3" height="3.3" fill="#e3e0de"/><rect x="204" y="308.9" width="3.3" height="3.3" fill="#e3e0de"/><rect x="204" y="312.96" width="3.3" height="3.3" fill="#e3e0de"/><rect x="204" y="317.02" width="3.3" height="3.3" fill="#e3e0de"/><rect x="204" y="321.08" width="3.3" height="3.3" fill="#e3e0de"/><rect x="204" y="325.14" width="3.3" height="3.3" fill="#e3e0de"/><rect x="204" y="329.2" width="3.3" height="3.3" fill="#e3e0de"/><rect x="204" y="333.26" width="3.3" height="3.3" fill="#e3e0de"/><rect x="204" y="337.32" width="3.3" height="3.3" fill="#e3e0de"/><rect x="204" y="341.38" width="3.3" height="3.3" fill="#e3e0de"/><rect x="204" y="345.44" width="3.3" height="3.3" fill="#e3e0de"/><rect x="204" y="349.5" width="3.3" height="3.3" fill="#e3e0de"/><rect x="204" y="353.56" width="3.3" height="3.3" fill="#e2b94f"/><rect x="204" y="357.62" width="3.3" height="3.3" fill="#e2b94f"/><rect x="204" y="361.68" width="3.3" height="3.3" fill="#e2b94f"/><rect x="204" y="365.74" width="3.3" height="3.3" fill="#e2b94f"/><rect x="208.08" y="288.6" width="3.3" height="3.3" fill="#e3e0de"/><rect x="208.08" y="292.66" width="3.3" height="3.3" fill="#e3e0de"/><rect x="208.08" y="296.72" width="3.3" height="3.3" fill="#e3e0de"/><rect x="208.08" y="300.78" width="3.3" height="3.3" fill="#e3e0de"/><rect x="208.08" y="304.84" width="3.3" height="3.3" fill="#e3e0de"/><rect x="208.08" y="308.9" width="3.3" height="3.3" fill="#e3e0de"/><rect x="208.08" y="312.96" width="3.3" height="3.3" fill="#e3e0de"/><rect x="208.08" y="317.02" width="3.3" height="3.3" fill="#e3e0de"/><rect x="208.08" y="321.08" width="3.3" height="3.3" fill="#e3e0de"/><rect x="208.08" y="325.14" width="3.3" height="3.3" fill="#e3e0de"/><rect x="208.08" y="329.2" width="3.3" height="3.3" fill="#e2b94f"/><rect x="208.08" y="333.26" width="3.3" height="3.3" fill="#e2b94f"/><rect x="208.08" y="337.32" width="3.3" height="3.3" fill="#e2b94f"/><rect x="208.08" y="341.38" width="3.3" height="3.3" fill="#e2b94f"/><rect x="208.08" y="345.44" width="3.3" height="3.3" fill="#e2b94f"/><rect x="208.08" y="349.5" width="3.3" height="3.3" fill="#e2b94f"/><rect x="208.08" y="353.56" width="3.3" height="3.3" fill="#e2b94f"/><rect x="208.08" y="357.62" width="3.3" height="3.3" fill="#e2b94f"/><rect x="208.08" y="361.68" width="3.3" height="3.3" fill="#e2b94f"/><rect x="208.08" y="365.74" width="3.3" height="3.3" fill="#e2b94f"/><rect x="212.16" y="288.6" width="3.3" height="3.3" fill="#e3e0de"/><rect x="212.16" y="292.66" width="3.3" height="3.3" fill="#e3e0de"/><rect x="212.16" y="296.72" width="3.3" height="3.3" fill="#e3e0de"/><rect x="212.16" y="300.78" width="3.3" height="3.3" fill="#e3e0de"/><rect x="212.16" y="304.84" width="3.3" height="3.3" fill="#e3e0de"/><rect x="212.16" y="308.9" width="3.3" height="3.3" fill="#e3e0de"/><rect x="212.16" y="312.96" width="3.3" height="3.3" fill="#e3e0de"/><rect x="212.16" y="317.02" width="3.3" height="3.3" fill="#e3e0de"/><rect x="212.16" y="321.08" width="3.3" height="3.3" fill="#e3e0de"/><rect x="212.16" y="325.14" width="3.3" height="3.3" fill="#e3e0de"/><rect x="212.16" y="329.2" width="3.3" height="3.3" fill="#e2b94f"/><rect x="212.16" y="333.26" width="3.3" height="3.3" fill="#e2b94f"/><rect x="212.16" y="337.32" width="3.3" height="3.3" fill="#e2b94f"/><rect x="212.16" y="341.38" width="3.3" height="3.3" fill="#e2b94f"/><rect x="212.16" y="345.44" width="3.3" height="3.3" fill="#e2b94f"/><rect x="212.16" y="349.5" width="3.3" height="3.3" fill="#e2b94f"/><rect x="212.16" y="353.56" width="3.3" height="3.3" fill="#e2b94f"/><rect x="212.16" y="357.62" width="3.3" height="3.3" fill="#e2b94f"/><rect x="212.16" y="361.68" width="3.3" height="3.3" fill="#e2b94f"/><rect x="212.16" y="365.74" width="3.3" height="3.3" fill="#e2b94f"/><rect x="216.25" y="288.6" width="3.3" height="3.3" fill="#e3e0de"/><rect x="216.25" y="292.66" width="3.3" height="3.3" fill="#e3e0de"/><rect x="216.25" y="296.72" width="3.3" height="3.3" fill="#e3e0de"/><rect x="216.25" y="300.78" width="3.3" height="3.3" fill="#e3e0de"/><rect x="216.25" y="304.84" width="3.3" height="3.3" fill="#e3e0de"/><rect x="216.25" y="308.9" width="3.3" height="3.3" fill="#e3e0de"/><rect x="216.25" y="312.96" width="3.3" height="3.3" fill="#e3e0de"/><rect x="216.25" y="317.02" width="3.3" height="3.3" fill="#e3e0de"/><rect x="216.25" y="321.08" width="3.3" height="3.3" fill="#e3e0de"/><rect x="216.25" y="325.14" width="3.3" height="3.3" fill="#e3e0de"/><rect x="216.25" y="329.2" width="3.3" height="3.3" fill="#e3e0de"/><rect x="216.25" y="333.26" width="3.3" height="3.3" fill="#e3e0de"/><rect x="216.25" y="337.32" width="3.3" height="3.3" fill="#e3e0de"/><rect x="216.25" y="341.38" width="3.3" height="3.3" fill="#e3e0de"/><rect x="216.25" y="345.44" width="3.3" height="3.3" fill="#e3e0de"/><rect x="216.25" y="349.5" width="3.3" height="3.3" fill="#e2b94f"/><rect x="216.25" y="353.56" width="3.3" height="3.3" fill="#e2b94f"/><rect x="216.25" y="357.62" width="3.3" height="3.3" fill="#e2b94f"/><rect x="216.25" y="361.68" width="3.3" height="3.3" fill="#e2b94f"/><rect x="216.25" y="365.74" width="3.3" height="3.3" fill="#e2b94f"/><rect x="220.33" y="288.6" width="3.3" height="3.3" fill="#e3e0de"/><rect x="220.33" y="292.66" width="3.3" height="3.3" fill="#e3e0de"/><rect x="220.33" y="296.72" width="3.3" height="3.3" fill="#e3e0de"/><rect x="220.33" y="300.78" width="3.3" height="3.3" fill="#e3e0de"/><rect x="220.33" y="304.84" width="3.3" height="3.3" fill="#e3e0de"/><rect x="220.33" y="308.9" width="3.3" height="3.3" fill="#e3e0de"/><rect x="220.33" y="312.96" width="3.3" height="3.3" fill="#e3e0de"/><rect x="220.33" y="317.02" width="3.3" height="3.3" fill="#e3e0de"/><rect x="220.33" y="321.08" width="3.3" height="3.3" fill="#e3e0de"/><rect x="220.33" y="325.14" width="3.3" height="3.3" fill="#e3e0de"/><rect x="220.33" y="329.2" width="3.3" height="3.3" fill="#e2b94f"/><rect x="220.33" y="333.26" width="3.3" height="3.3" fill="#e2b94f"/><rect x="220.33" y="337.32" width="3.3" height="3.3" fill="#e2b94f"/><rect x="220.33" y="341.38" width="3.3" height="3.3" fill="#e2b94f"/><rect x="220.33" y="345.44" width="3.3" height="3.3" fill="#e2b94f"/><rect x="220.33" y="349.5" width="3.3" height="3.3" fill="#e2b94f"/><rect x="220.33" y="353.56" width="3.3" height="3.3" fill="#e2b94f"/><rect x="220.33" y="357.62" width="3.3" height="3.3" fill="#e2b94f"/><rect x="220.33" y="361.68" width="3.3" height="3.3" fill="#e2b94f"/><rect x="220.33" y="365.74" width="3.3" height="3.3" fill="#e2b94f"/><rect x="224.42" y="288.6" width="3.3" height="3.3" fill="#e3e0de"/><rect x="224.42" y="292.66" width="3.3" height="3.3" fill="#e3e0de"/><rect x="224.42" y="296.72" width="3.3" height="3.3" fill="#e3e0de"/><rect x="224.42" y="300.78" width="3.3" height="3.3" fill="#e3e0de"/><rect x="224.42" y="304.84" width="3.3" height="3.3" fill="#e3e0de"/><rect x="224.42" y="308.9" width="3.3" height="3.3" fill="#e3e0de"/><rect x="224.42" y="312.96" width="3.3" height="3.3" fill="#e3e0de"/><rect x="224.42" y="317.02" width="3.3" height="3.3" fill="#e3e0de"/><rect x="224.42" y="321.08" width="3.3" height="3.3" fill="#e3e0de"/><rect x="224.42" y="325.14" width="3.3" height="3.3" fill="#e3e0de"/><rect x="224.42" y="329.2" width="3.3" height="3.3" fill="#e3e0de"/><rect x="224.42" y="333.26" width="3.3" height="3.3" fill="#e3e0de"/><rect x="224.42" y="337.32" width="3.3" height="3.3" fill="#e3e0de"/><rect x="224.42" y="341.38" width="3.3" height="3.3" fill="#e3e0de"/><rect x="224.42" y="345.44" width="3.3" height="3.3" fill="#e2b94f"/><rect x="224.42" y="349.5" width="3.3" height="3.3" fill="#e2b94f"/><rect x="224.42" y="353.56" width="3.3" height="3.3" fill="#e2b94f"/><rect x="224.42" y="357.62" width="3.3" height="3.3" fill="#e2b94f"/><rect x="224.42" y="361.68" width="3.3" height="3.3" fill="#e2b94f"/><rect x="224.42" y="365.74" width="3.3" height="3.3" fill="#e2b94f"/><rect x="228.5" y="288.6" width="3.3" height="3.3" fill="#e3e0de"/><rect x="228.5" y="292.66" width="3.3" height="3.3" fill="#e3e0de"/><rect x="228.5" y="296.72" width="3.3" height="3.3" fill="#e3e0de"/><rect x="228.5" y="300.78" width="3.3" height="3.3" fill="#e3e0de"/><rect x="228.5" y="304.84" width="3.3" height="3.3" fill="#e3e0de"/><rect x="228.5" y="308.9" width="3.3" height="3.3" fill="#e3e0de"/><rect x="228.5" y="312.96" width="3.3" height="3.3" fill="#e3e0de"/><rect x="228.5" y="317.02" width="3.3" height="3.3" fill="#e3e0de"/><rect x="228.5" y="321.08" width="3.3" height="3.3" fill="#e3e0de"/><rect x="228.5" y="325.14" width="3.3" height="3.3" fill="#e3e0de"/><rect x="228.5" y="329.2" width="3.3" height="3.3" fill="#e3e0de"/><rect x="228.5" y="333.26" width="3.3" height="3.3" fill="#e2b94f"/><rect x="228.5" y="337.32" width="3.3" height="3.3" fill="#e2b94f"/><rect x="228.5" y="341.38" width="3.3" height="3.3" fill="#e2b94f"/><rect x="228.5" y="345.44" width="3.3" height="3.3" fill="#e2b94f"/><rect x="228.5" y="349.5" width="3.3" height="3.3" fill="#e2b94f"/><rect x="228.5" y="353.56" width="3.3" height="3.3" fill="#e2b94f"/><rect x="228.5" y="357.62" width="3.3" height="3.3" fill="#e2b94f"/><rect x="228.5" y="361.68" width="3.3" height="3.3" fill="#e2b94f"/><rect x="228.5" y="365.74" width="3.3" height="3.3" fill="#e2b94f"/><rect x="232.58" y="288.6" width="3.3" height="3.3" fill="#e3e0de"/><rect x="232.58" y="292.66" width="3.3" height="3.3" fill="#e3e0de"/><rect x="232.58" y="296.72" width="3.3" height="3.3" fill="#e3e0de"/><rect x="232.58" y="300.78" width="3.3" height="3.3" fill="#e3e0de"/><rect x="232.58" y="304.84" width="3.3" height="3.3" fill="#e3e0de"/><rect x="232.58" y="308.9" width="3.3" height="3.3" fill="#e3e0de"/><rect x="232.58" y="312.96" width="3.3" height="3.3" fill="#e3e0de"/><rect x="232.58" y="317.02" width="3.3" height="3.3" fill="#e3e0de"/><rect x="232.58" y="321.08" width="3.3" height="3.3" fill="#e2b94f"/><rect x="232.58" y="325.14" width="3.3" height="3.3" fill="#e2b94f"/><rect x="232.58" y="329.2" width="3.3" height="3.3" fill="#e2b94f"/><rect x="232.58" y="333.26" width="3.3" height="3.3" fill="#e2b94f"/><rect x="232.58" y="337.32" width="3.3" height="3.3" fill="#e2b94f"/><rect x="232.58" y="341.38" width="3.3" height="3.3" fill="#e2b94f"/><rect x="232.58" y="345.44" width="3.3" height="3.3" fill="#e2b94f"/><rect x="232.58" y="349.5" width="3.3" height="3.3" fill="#e2b94f"/><rect x="232.58" y="353.56" width="3.3" height="3.3" fill="#e2b94f"/><rect x="232.58" y="357.62" width="3.3" height="3.3" fill="#e2b94f"/><rect x="232.58" y="361.68" width="3.3" height="3.3" fill="#e2b94f"/><rect x="232.58" y="365.74" width="3.3" height="3.3" fill="#e2b94f"/><rect x="236.67" y="288.6" width="3.3" height="3.3" fill="#e3e0de"/><rect x="236.67" y="292.66" width="3.3" height="3.3" fill="#e2b94f"/><rect x="236.67" y="296.72" width="3.3" height="3.3" fill="#e2b94f"/><rect x="236.67" y="300.78" width="3.3" height="3.3" fill="#e2b94f"/><rect x="236.67" y="304.84" width="3.3" height="3.3" fill="#e2b94f"/><rect x="236.67" y="308.9" width="3.3" height="3.3" fill="#e2b94f"/><rect x="236.67" y="312.96" width="3.3" height="3.3" fill="#e2b94f"/><rect x="236.67" y="317.02" width="3.3" height="3.3" fill="#e2b94f"/><rect x="236.67" y="321.08" width="3.3" height="3.3" fill="#e2b94f"/><rect x="236.67" y="325.14" width="3.3" height="3.3" fill="#e2b94f"/><rect x="236.67" y="329.2" width="3.3" height="3.3" fill="#e2b94f"/><rect x="236.67" y="333.26" width="3.3" height="3.3" fill="#e2b94f"/><rect x="236.67" y="337.32" width="3.3" height="3.3" fill="#e2b94f"/><rect x="236.67" y="341.38" width="3.3" height="3.3" fill="#e2b94f"/><rect x="236.67" y="345.44" width="3.3" height="3.3" fill="#e2b94f"/><rect x="236.67" y="349.5" width="3.3" height="3.3" fill="#e2b94f"/><rect x="236.67" y="353.56" width="3.3" height="3.3" fill="#e2b94f"/><rect x="236.67" y="357.62" width="3.3" height="3.3" fill="#e2b94f"/><rect x="236.67" y="361.68" width="3.3" height="3.3" fill="#e2b94f"/><rect x="236.67" y="365.74" width="3.3" height="3.3" fill="#e2b94f"/><rect x="240.75" y="288.6" width="3.3" height="3.3" fill="#e3e0de"/><rect x="240.75" y="292.66" width="3.3" height="3.3" fill="#e3e0de"/><rect x="240.75" y="296.72" width="3.3" height="3.3" fill="#e3e0de"/><rect x="240.75" y="300.78" width="3.3" height="3.3" fill="#e3e0de"/><rect x="240.75" y="304.84" width="3.3" height="3.3" fill="#e3e0de"/><rect x="240.75" y="308.9" width="3.3" height="3.3" fill="#e3e0de"/><rect x="240.75" y="312.96" width="3.3" height="3.3" fill="#e2b94f"/><rect x="240.75" y="317.02" width="3.3" height="3.3" fill="#e2b94f"/><rect x="240.75" y="321.08" width="3.3" height="3.3" fill="#e2b94f"/><rect x="240.75" y="325.14" width="3.3" height="3.3" fill="#e2b94f"/><rect x="240.75" y="329.2" width="3.3" height="3.3" fill="#e2b94f"/><rect x="240.75" y="333.26" width="3.3" height="3.3" fill="#e2b94f"/><rect x="240.75" y="337.32" width="3.3" height="3.3" fill="#e2b94f"/><rect x="240.75" y="341.38" width="3.3" height="3.3" fill="#e2b94f"/><rect x="240.75" y="345.44" width="3.3" height="3.3" fill="#e2b94f"/><rect x="240.75" y="349.5" width="3.3" height="3.3" fill="#e2b94f"/><rect x="240.75" y="353.56" width="3.3" height="3.3" fill="#e2b94f"/><rect x="240.75" y="357.62" width="3.3" height="3.3" fill="#e2b94f"/><rect x="240.75" y="361.68" width="3.3" height="3.3" fill="#e2b94f"/><rect x="240.75" y="365.74" width="3.3" height="3.3" fill="#e2b94f"/><rect x="244.84" y="288.6" width="3.3" height="3.3" fill="#e3e0de"/><rect x="244.84" y="292.66" width="3.3" height="3.3" fill="#e3e0de"/><rect x="244.84" y="296.72" width="3.3" height="3.3" fill="#e3e0de"/><rect x="244.84" y="300.78" width="3.3" height="3.3" fill="#e3e0de"/><rect x="244.84" y="304.84" width="3.3" height="3.3" fill="#e3e0de"/><rect x="244.84" y="308.9" width="3.3" height="3.3" fill="#e3e0de"/><rect x="244.84" y="312.96" width="3.3" height="3.3" fill="#e3e0de"/><rect x="244.84" y="317.02" width="3.3" height="3.3" fill="#e3e0de"/><rect x="244.84" y="321.08" width="3.3" height="3.3" fill="#e3e0de"/><rect x="244.84" y="325.14" width="3.3" height="3.3" fill="#e3e0de"/><rect x="244.84" y="329.2" width="3.3" height="3.3" fill="#e3e0de"/><rect x="244.84" y="333.26" width="3.3" height="3.3" fill="#e3e0de"/><rect x="244.84" y="337.32" width="3.3" height="3.3" fill="#e3e0de"/><rect x="244.84" y="341.38" width="3.3" height="3.3" fill="#e3e0de"/><rect x="244.84" y="345.44" width="3.3" height="3.3" fill="#e3e0de"/><rect x="244.84" y="349.5" width="3.3" height="3.3" fill="#e3e0de"/><rect x="244.84" y="353.56" width="3.3" height="3.3" fill="#e2b94f"/><rect x="244.84" y="357.62" width="3.3" height="3.3" fill="#e2b94f"/><rect x="244.84" y="361.68" width="3.3" height="3.3" fill="#e2b94f"/><rect x="244.84" y="365.74" width="3.3" height="3.3" fill="#e2b94f"/><rect x="248.92" y="288.6" width="3.3" height="3.3" fill="#e3e0de"/><rect x="248.92" y="292.66" width="3.3" height="3.3" fill="#e3e0de"/><rect x="248.92" y="296.72" width="3.3" height="3.3" fill="#e3e0de"/><rect x="248.92" y="300.78" width="3.3" height="3.3" fill="#e3e0de"/><rect x="248.92" y="304.84" width="3.3" height="3.3" fill="#e3e0de"/><rect x="248.92" y="308.9" width="3.3" height="3.3" fill="#e3e0de"/><rect x="248.92" y="312.96" width="3.3" height="3.3" fill="#e3e0de"/><rect x="248.92" y="317.02" width="3.3" height="3.3" fill="#e3e0de"/><rect x="248.92" y="321.08" width="3.3" height="3.3" fill="#e3e0de"/><rect x="248.92" y="325.14" width="3.3" height="3.3" fill="#e3e0de"/><rect x="248.92" y="329.2" width="3.3" height="3.3" fill="#e3e0de"/><rect x="248.92" y="333.26" width="3.3" height="3.3" fill="#e3e0de"/><rect x="248.92" y="337.32" width="3.3" height="3.3" fill="#e2b94f"/><rect x="248.92" y="341.38" width="3.3" height="3.3" fill="#e2b94f"/><rect x="248.92" y="345.44" width="3.3" height="3.3" fill="#e2b94f"/><rect x="248.92" y="349.5" width="3.3" height="3.3" fill="#e2b94f"/><rect x="248.92" y="353.56" width="3.3" height="3.3" fill="#e2b94f"/><rect x="248.92" y="357.62" width="3.3" height="3.3" fill="#e2b94f"/><rect x="248.92" y="361.68" width="3.3" height="3.3" fill="#e2b94f"/><rect x="248.92" y="365.74" width="3.3" height="3.3" fill="#e2b94f"/><rect x="253" y="288.6" width="3.3" height="3.3" fill="#e3e0de"/><rect x="253" y="292.66" width="3.3" height="3.3" fill="#e3e0de"/><rect x="253" y="296.72" width="3.3" height="3.3" fill="#e3e0de"/><rect x="253" y="300.78" width="3.3" height="3.3" fill="#e3e0de"/><rect x="253" y="304.84" width="3.3" height="3.3" fill="#e3e0de"/><rect x="253" y="308.9" width="3.3" height="3.3" fill="#e3e0de"/><rect x="253" y="312.96" width="3.3" height="3.3" fill="#e3e0de"/><rect x="253" y="317.02" width="3.3" height="3.3" fill="#e3e0de"/><rect x="253" y="321.08" width="3.3" height="3.3" fill="#e3e0de"/><rect x="253" y="325.14" width="3.3" height="3.3" fill="#e3e0de"/><rect x="253" y="329.2" width="3.3" height="3.3" fill="#e3e0de"/><rect x="253" y="333.26" width="3.3" height="3.3" fill="#e3e0de"/><rect x="253" y="337.32" width="3.3" height="3.3" fill="#e3e0de"/><rect x="253" y="341.38" width="3.3" height="3.3" fill="#e3e0de"/><rect x="253" y="345.44" width="3.3" height="3.3" fill="#e2b94f"/><rect x="253" y="349.5" width="3.3" height="3.3" fill="#e2b94f"/><rect x="253" y="353.56" width="3.3" height="3.3" fill="#e2b94f"/><rect x="253" y="357.62" width="3.3" height="3.3" fill="#e2b94f"/><rect x="253" y="361.68" width="3.3" height="3.3" fill="#e2b94f"/><rect x="253" y="365.74" width="3.3" height="3.3" fill="#e2b94f"/><rect x="257.09" y="288.6" width="3.3" height="3.3" fill="#e2b94f"/><rect x="257.09" y="292.66" width="3.3" height="3.3" fill="#e2b94f"/><rect x="257.09" y="296.72" width="3.3" height="3.3" fill="#e2b94f"/><rect x="257.09" y="300.78" width="3.3" height="3.3" fill="#e2b94f"/><rect x="257.09" y="304.84" width="3.3" height="3.3" fill="#e2b94f"/><rect x="257.09" y="308.9" width="3.3" height="3.3" fill="#e2b94f"/><rect x="257.09" y="312.96" width="3.3" height="3.3" fill="#e2b94f"/><rect x="257.09" y="317.02" width="3.3" height="3.3" fill="#e2b94f"/><rect x="257.09" y="321.08" width="3.3" height="3.3" fill="#e2b94f"/><rect x="257.09" y="325.14" width="3.3" height="3.3" fill="#e2b94f"/><rect x="257.09" y="329.2" width="3.3" height="3.3" fill="#e2b94f"/><rect x="257.09" y="333.26" width="3.3" height="3.3" fill="#e2b94f"/><rect x="257.09" y="337.32" width="3.3" height="3.3" fill="#e2b94f"/><rect x="257.09" y="341.38" width="3.3" height="3.3" fill="#e2b94f"/><rect x="257.09" y="345.44" width="3.3" height="3.3" fill="#e2b94f"/><rect x="257.09" y="349.5" width="3.3" height="3.3" fill="#e2b94f"/><rect x="257.09" y="353.56" width="3.3" height="3.3" fill="#e2b94f"/><rect x="257.09" y="357.62" width="3.3" height="3.3" fill="#e2b94f"/><rect x="257.09" y="361.68" width="3.3" height="3.3" fill="#e2b94f"/><rect x="257.09" y="365.74" width="3.3" height="3.3" fill="#e2b94f"/><rect x="261.17" y="288.6" width="3.3" height="3.3" fill="#e3e0de"/><rect x="261.17" y="292.66" width="3.3" height="3.3" fill="#e3e0de"/><rect x="261.17" y="296.72" width="3.3" height="3.3" fill="#e3e0de"/><rect x="261.17" y="300.78" width="3.3" height="3.3" fill="#e3e0de"/><rect x="261.17" y="304.84" width="3.3" height="3.3" fill="#e3e0de"/><rect x="261.17" y="308.9" width="3.3" height="3.3" fill="#e3e0de"/><rect x="261.17" y="312.96" width="3.3" height="3.3" fill="#e3e0de"/><rect x="261.17" y="317.02" width="3.3" height="3.3" fill="#e2b94f"/><rect x="261.17" y="321.08" width="3.3" height="3.3" fill="#e2b94f"/><rect x="261.17" y="325.14" width="3.3" height="3.3" fill="#e2b94f"/><rect x="261.17" y="329.2" width="3.3" height="3.3" fill="#e2b94f"/><rect x="261.17" y="333.26" width="3.3" height="3.3" fill="#e2b94f"/><rect x="261.17" y="337.32" width="3.3" height="3.3" fill="#e2b94f"/><rect x="261.17" y="341.38" width="3.3" height="3.3" fill="#e2b94f"/><rect x="261.17" y="345.44" width="3.3" height="3.3" fill="#e2b94f"/><rect x="261.17" y="349.5" width="3.3" height="3.3" fill="#e2b94f"/><rect x="261.17" y="353.56" width="3.3" height="3.3" fill="#e2b94f"/><rect x="261.17" y="357.62" width="3.3" height="3.3" fill="#e2b94f"/><rect x="261.17" y="361.68" width="3.3" height="3.3" fill="#e2b94f"/><rect x="261.17" y="365.74" width="3.3" height="3.3" fill="#e2b94f"/><rect x="265.26" y="288.6" width="3.3" height="3.3" fill="#e3e0de"/><rect x="265.26" y="292.66" width="3.3" height="3.3" fill="#e3e0de"/><rect x="265.26" y="296.72" width="3.3" height="3.3" fill="#e3e0de"/><rect x="265.26" y="300.78" width="3.3" height="3.3" fill="#e3e0de"/><rect x="265.26" y="304.84" width="3.3" height="3.3" fill="#e3e0de"/><rect x="265.26" y="308.9" width="3.3" height="3.3" fill="#e2b94f"/><rect x="265.26" y="312.96" width="3.3" height="3.3" fill="#e2b94f"/><rect x="265.26" y="317.02" width="3.3" height="3.3" fill="#e2b94f"/><rect x="265.26" y="321.08" width="3.3" height="3.3" fill="#e2b94f"/><rect x="265.26" y="325.14" width="3.3" height="3.3" fill="#e2b94f"/><rect x="265.26" y="329.2" width="3.3" height="3.3" fill="#e2b94f"/><rect x="265.26" y="333.26" width="3.3" height="3.3" fill="#e2b94f"/><rect x="265.26" y="337.32" width="3.3" height="3.3" fill="#e2b94f"/><rect x="265.26" y="341.38" width="3.3" height="3.3" fill="#e2b94f"/><rect x="265.26" y="345.44" width="3.3" height="3.3" fill="#e2b94f"/><rect x="265.26" y="349.5" width="3.3" height="3.3" fill="#e2b94f"/><rect x="265.26" y="353.56" width="3.3" height="3.3" fill="#e2b94f"/><rect x="265.26" y="357.62" width="3.3" height="3.3" fill="#e2b94f"/><rect x="265.26" y="361.68" width="3.3" height="3.3" fill="#e2b94f"/><rect x="265.26" y="365.74" width="3.3" height="3.3" fill="#e2b94f"/><rect x="269.34" y="288.6" width="3.3" height="3.3" fill="#e2b94f"/><rect x="269.34" y="292.66" width="3.3" height="3.3" fill="#e2b94f"/><rect x="269.34" y="296.72" width="3.3" height="3.3" fill="#e2b94f"/><rect x="269.34" y="300.78" width="3.3" height="3.3" fill="#e2b94f"/><rect x="269.34" y="304.84" width="3.3" height="3.3" fill="#e2b94f"/><rect x="269.34" y="308.9" width="3.3" height="3.3" fill="#e2b94f"/><rect x="269.34" y="312.96" width="3.3" height="3.3" fill="#e2b94f"/><rect x="269.34" y="317.02" width="3.3" height="3.3" fill="#e2b94f"/><rect x="269.34" y="321.08" width="3.3" height="3.3" fill="#e2b94f"/><rect x="269.34" y="325.14" width="3.3" height="3.3" fill="#e2b94f"/><rect x="269.34" y="329.2" width="3.3" height="3.3" fill="#e2b94f"/><rect x="269.34" y="333.26" width="3.3" height="3.3" fill="#e2b94f"/><rect x="269.34" y="337.32" width="3.3" height="3.3" fill="#e2b94f"/><rect x="269.34" y="341.38" width="3.3" height="3.3" fill="#e2b94f"/><rect x="269.34" y="345.44" width="3.3" height="3.3" fill="#e2b94f"/><rect x="269.34" y="349.5" width="3.3" height="3.3" fill="#e2b94f"/><rect x="269.34" y="353.56" width="3.3" height="3.3" fill="#e2b94f"/><rect x="269.34" y="357.62" width="3.3" height="3.3" fill="#e2b94f"/><rect x="269.34" y="361.68" width="3.3" height="3.3" fill="#e2b94f"/><rect x="269.34" y="365.74" width="3.3" height="3.3" fill="#e2b94f"/><rect x="273.42" y="288.6" width="3.3" height="3.3" fill="#e3e0de"/><rect x="273.42" y="292.66" width="3.3" height="3.3" fill="#e3e0de"/><rect x="273.42" y="296.72" width="3.3" height="3.3" fill="#e3e0de"/><rect x="273.42" y="300.78" width="3.3" height="3.3" fill="#e3e0de"/><rect x="273.42" y="304.84" width="3.3" height="3.3" fill="#e3e0de"/><rect x="273.42" y="308.9" width="3.3" height="3.3" fill="#e3e0de"/><rect x="273.42" y="312.96" width="3.3" height="3.3" fill="#e3e0de"/><rect x="273.42" y="317.02" width="3.3" height="3.3" fill="#e3e0de"/><rect x="273.42" y="321.08" width="3.3" height="3.3" fill="#e3e0de"/><rect x="273.42" y="325.14" width="3.3" height="3.3" fill="#e3e0de"/><rect x="273.42" y="329.2" width="3.3" height="3.3" fill="#e3e0de"/><rect x="273.42" y="333.26" width="3.3" height="3.3" fill="#e3e0de"/><rect x="273.42" y="337.32" width="3.3" height="3.3" fill="#e3e0de"/><rect x="273.42" y="341.38" width="3.3" height="3.3" fill="#e3e0de"/><rect x="273.42" y="345.44" width="3.3" height="3.3" fill="#e3e0de"/><rect x="273.42" y="349.5" width="3.3" height="3.3" fill="#e3e0de"/><rect x="273.42" y="353.56" width="3.3" height="3.3" fill="#e2b94f"/><rect x="273.42" y="357.62" width="3.3" height="3.3" fill="#e2b94f"/><rect x="273.42" y="361.68" width="3.3" height="3.3" fill="#e2b94f"/><rect x="273.42" y="365.74" width="3.3" height="3.3" fill="#e2b94f"/><rect x="277.51" y="288.6" width="3.3" height="3.3" fill="#e3e0de"/><rect x="277.51" y="292.66" width="3.3" height="3.3" fill="#e3e0de"/><rect x="277.51" y="296.72" width="3.3" height="3.3" fill="#e3e0de"/><rect x="277.51" y="300.78" width="3.3" height="3.3" fill="#e3e0de"/><rect x="277.51" y="304.84" width="3.3" height="3.3" fill="#e2b94f"/><rect x="277.51" y="308.9" width="3.3" height="3.3" fill="#e2b94f"/><rect x="277.51" y="312.96" width="3.3" height="3.3" fill="#e2b94f"/><rect x="277.51" y="317.02" width="3.3" height="3.3" fill="#e2b94f"/><rect x="277.51" y="321.08" width="3.3" height="3.3" fill="#e2b94f"/><rect x="277.51" y="325.14" width="3.3" height="3.3" fill="#e2b94f"/><rect x="277.51" y="329.2" width="3.3" height="3.3" fill="#e2b94f"/><rect x="277.51" y="333.26" width="3.3" height="3.3" fill="#e2b94f"/><rect x="277.51" y="337.32" width="3.3" height="3.3" fill="#e2b94f"/><rect x="277.51" y="341.38" width="3.3" height="3.3" fill="#e2b94f"/><rect x="277.51" y="345.44" width="3.3" height="3.3" fill="#e2b94f"/><rect x="277.51" y="349.5" width="3.3" height="3.3" fill="#e2b94f"/><rect x="277.51" y="353.56" width="3.3" height="3.3" fill="#e2b94f"/><rect x="277.51" y="357.62" width="3.3" height="3.3" fill="#e2b94f"/><rect x="277.51" y="361.68" width="3.3" height="3.3" fill="#e2b94f"/><rect x="277.51" y="365.74" width="3.3" height="3.3" fill="#e2b94f"/><rect x="281.59" y="288.6" width="3.3" height="3.3" fill="#e3e0de"/><rect x="281.59" y="292.66" width="3.3" height="3.3" fill="#e3e0de"/><rect x="281.59" y="296.72" width="3.3" height="3.3" fill="#e3e0de"/><rect x="281.59" y="300.78" width="3.3" height="3.3" fill="#e3e0de"/><rect x="281.59" y="304.84" width="3.3" height="3.3" fill="#e3e0de"/><rect x="281.59" y="308.9" width="3.3" height="3.3" fill="#e3e0de"/><rect x="281.59" y="312.96" width="3.3" height="3.3" fill="#e3e0de"/><rect x="281.59" y="317.02" width="3.3" height="3.3" fill="#e3e0de"/><rect x="281.59" y="321.08" width="3.3" height="3.3" fill="#e3e0de"/><rect x="281.59" y="325.14" width="3.3" height="3.3" fill="#e3e0de"/><rect x="281.59" y="329.2" width="3.3" height="3.3" fill="#e3e0de"/><rect x="281.59" y="333.26" width="3.3" height="3.3" fill="#e3e0de"/><rect x="281.59" y="337.32" width="3.3" height="3.3" fill="#e3e0de"/><rect x="281.59" y="341.38" width="3.3" height="3.3" fill="#e2b94f"/><rect x="281.59" y="345.44" width="3.3" height="3.3" fill="#e2b94f"/><rect x="281.59" y="349.5" width="3.3" height="3.3" fill="#e2b94f"/><rect x="281.59" y="353.56" width="3.3" height="3.3" fill="#e2b94f"/><rect x="281.59" y="357.62" width="3.3" height="3.3" fill="#e2b94f"/><rect x="281.59" y="361.68" width="3.3" height="3.3" fill="#e2b94f"/><rect x="281.59" y="365.74" width="3.3" height="3.3" fill="#e2b94f"/><rect x="285.68" y="288.6" width="3.3" height="3.3" fill="#e3e0de"/><rect x="285.68" y="292.66" width="3.3" height="3.3" fill="#e3e0de"/><rect x="285.68" y="296.72" width="3.3" height="3.3" fill="#e3e0de"/><rect x="285.68" y="300.78" width="3.3" height="3.3" fill="#e3e0de"/><rect x="285.68" y="304.84" width="3.3" height="3.3" fill="#e3e0de"/><rect x="285.68" y="308.9" width="3.3" height="3.3" fill="#e3e0de"/><rect x="285.68" y="312.96" width="3.3" height="3.3" fill="#e3e0de"/><rect x="285.68" y="317.02" width="3.3" height="3.3" fill="#e3e0de"/><rect x="285.68" y="321.08" width="3.3" height="3.3" fill="#e3e0de"/><rect x="285.68" y="325.14" width="3.3" height="3.3" fill="#e3e0de"/><rect x="285.68" y="329.2" width="3.3" height="3.3" fill="#e3e0de"/><rect x="285.68" y="333.26" width="3.3" height="3.3" fill="#e2b94f"/><rect x="285.68" y="337.32" width="3.3" height="3.3" fill="#e2b94f"/><rect x="285.68" y="341.38" width="3.3" height="3.3" fill="#e2b94f"/><rect x="285.68" y="345.44" width="3.3" height="3.3" fill="#e2b94f"/><rect x="285.68" y="349.5" width="3.3" height="3.3" fill="#e2b94f"/><rect x="285.68" y="353.56" width="3.3" height="3.3" fill="#e2b94f"/><rect x="285.68" y="357.62" width="3.3" height="3.3" fill="#e2b94f"/><rect x="285.68" y="361.68" width="3.3" height="3.3" fill="#e2b94f"/><rect x="285.68" y="365.74" width="3.3" height="3.3" fill="#e2b94f"/><rect x="289.76" y="288.6" width="3.3" height="3.3" fill="#e3e0de"/><rect x="289.76" y="292.66" width="3.3" height="3.3" fill="#e3e0de"/><rect x="289.76" y="296.72" width="3.3" height="3.3" fill="#e3e0de"/><rect x="289.76" y="300.78" width="3.3" height="3.3" fill="#e3e0de"/><rect x="289.76" y="304.84" width="3.3" height="3.3" fill="#e3e0de"/><rect x="289.76" y="308.9" width="3.3" height="3.3" fill="#e3e0de"/><rect x="289.76" y="312.96" width="3.3" height="3.3" fill="#e2b94f"/><rect x="289.76" y="317.02" width="3.3" height="3.3" fill="#e2b94f"/><rect x="289.76" y="321.08" width="3.3" height="3.3" fill="#e2b94f"/><rect x="289.76" y="325.14" width="3.3" height="3.3" fill="#e2b94f"/><rect x="289.76" y="329.2" width="3.3" height="3.3" fill="#e2b94f"/><rect x="289.76" y="333.26" width="3.3" height="3.3" fill="#e2b94f"/><rect x="289.76" y="337.32" width="3.3" height="3.3" fill="#e2b94f"/><rect x="289.76" y="341.38" width="3.3" height="3.3" fill="#e2b94f"/><rect x="289.76" y="345.44" width="3.3" height="3.3" fill="#e2b94f"/><rect x="289.76" y="349.5" width="3.3" height="3.3" fill="#e2b94f"/><rect x="289.76" y="353.56" width="3.3" height="3.3" fill="#e2b94f"/><rect x="289.76" y="357.62" width="3.3" height="3.3" fill="#e2b94f"/><rect x="289.76" y="361.68" width="3.3" height="3.3" fill="#e2b94f"/><rect x="289.76" y="365.74" width="3.3" height="3.3" fill="#e2b94f"/><rect x="293.84" y="288.6" width="3.3" height="3.3" fill="#e3e0de"/><rect x="293.84" y="292.66" width="3.3" height="3.3" fill="#e3e0de"/><rect x="293.84" y="296.72" width="3.3" height="3.3" fill="#e3e0de"/><rect x="293.84" y="300.78" width="3.3" height="3.3" fill="#e3e0de"/><rect x="293.84" y="304.84" width="3.3" height="3.3" fill="#e2b94f"/><rect x="293.84" y="308.9" width="3.3" height="3.3" fill="#e2b94f"/><rect x="293.84" y="312.96" width="3.3" height="3.3" fill="#e2b94f"/><rect x="293.84" y="317.02" width="3.3" height="3.3" fill="#e2b94f"/><rect x="293.84" y="321.08" width="3.3" height="3.3" fill="#e2b94f"/><rect x="293.84" y="325.14" width="3.3" height="3.3" fill="#e2b94f"/><rect x="293.84" y="329.2" width="3.3" height="3.3" fill="#e2b94f"/><rect x="293.84" y="333.26" width="3.3" height="3.3" fill="#e2b94f"/><rect x="293.84" y="337.32" width="3.3" height="3.3" fill="#e2b94f"/><rect x="293.84" y="341.38" width="3.3" height="3.3" fill="#e2b94f"/><rect x="293.84" y="345.44" width="3.3" height="3.3" fill="#e2b94f"/><rect x="293.84" y="349.5" width="3.3" height="3.3" fill="#e2b94f"/><rect x="293.84" y="353.56" width="3.3" height="3.3" fill="#e2b94f"/><rect x="293.84" y="357.62" width="3.3" height="3.3" fill="#e2b94f"/><rect x="293.84" y="361.68" width="3.3" height="3.3" fill="#e2b94f"/><rect x="293.84" y="365.74" width="3.3" height="3.3" fill="#e2b94f"/><rect x="297.93" y="288.6" width="3.3" height="3.3" fill="#e3e0de"/><rect x="297.93" y="292.66" width="3.3" height="3.3" fill="#e3e0de"/><rect x="297.93" y="296.72" width="3.3" height="3.3" fill="#e3e0de"/><rect x="297.93" y="300.78" width="3.3" height="3.3" fill="#e3e0de"/><rect x="297.93" y="304.84" width="3.3" height="3.3" fill="#e3e0de"/><rect x="297.93" y="308.9" width="3.3" height="3.3" fill="#e3e0de"/><rect x="297.93" y="312.96" width="3.3" height="3.3" fill="#e3e0de"/><rect x="297.93" y="317.02" width="3.3" height="3.3" fill="#e3e0de"/><rect x="297.93" y="321.08" width="3.3" height="3.3" fill="#e3e0de"/><rect x="297.93" y="325.14" width="3.3" height="3.3" fill="#e2b94f"/><rect x="297.93" y="329.2" width="3.3" height="3.3" fill="#e2b94f"/><rect x="297.93" y="333.26" width="3.3" height="3.3" fill="#e2b94f"/><rect x="297.93" y="337.32" width="3.3" height="3.3" fill="#e2b94f"/><rect x="297.93" y="341.38" width="3.3" height="3.3" fill="#e2b94f"/><rect x="297.93" y="345.44" width="3.3" height="3.3" fill="#e2b94f"/><rect x="297.93" y="349.5" width="3.3" height="3.3" fill="#e2b94f"/><rect x="297.93" y="353.56" width="3.3" height="3.3" fill="#e2b94f"/><rect x="297.93" y="357.62" width="3.3" height="3.3" fill="#e2b94f"/><rect x="297.93" y="361.68" width="3.3" height="3.3" fill="#e2b94f"/><rect x="297.93" y="365.74" width="3.3" height="3.3" fill="#e2b94f"/><rect x="302.01" y="288.6" width="3.3" height="3.3" fill="#e3e0de"/><rect x="302.01" y="292.66" width="3.3" height="3.3" fill="#e3e0de"/><rect x="302.01" y="296.72" width="3.3" height="3.3" fill="#e3e0de"/><rect x="302.01" y="300.78" width="3.3" height="3.3" fill="#e3e0de"/><rect x="302.01" y="304.84" width="3.3" height="3.3" fill="#e3e0de"/><rect x="302.01" y="308.9" width="3.3" height="3.3" fill="#e3e0de"/><rect x="302.01" y="312.96" width="3.3" height="3.3" fill="#e3e0de"/><rect x="302.01" y="317.02" width="3.3" height="3.3" fill="#e3e0de"/><rect x="302.01" y="321.08" width="3.3" height="3.3" fill="#e3e0de"/><rect x="302.01" y="325.14" width="3.3" height="3.3" fill="#e3e0de"/><rect x="302.01" y="329.2" width="3.3" height="3.3" fill="#e3e0de"/><rect x="302.01" y="333.26" width="3.3" height="3.3" fill="#e3e0de"/><rect x="302.01" y="337.32" width="3.3" height="3.3" fill="#e3e0de"/><rect x="302.01" y="341.38" width="3.3" height="3.3" fill="#e2b94f"/><rect x="302.01" y="345.44" width="3.3" height="3.3" fill="#e2b94f"/><rect x="302.01" y="349.5" width="3.3" height="3.3" fill="#e2b94f"/><rect x="302.01" y="353.56" width="3.3" height="3.3" fill="#e2b94f"/><rect x="302.01" y="357.62" width="3.3" height="3.3" fill="#e2b94f"/><rect x="302.01" y="361.68" width="3.3" height="3.3" fill="#e2b94f"/><rect x="302.01" y="365.74" width="3.3" height="3.3" fill="#e2b94f"/><rect x="320.3" y="291" width="7.1" height="7.1" fill="#e3e0de"/><rect x="320.3" y="299.05" width="7.1" height="7.1" fill="#e3e0de"/><rect x="320.3" y="307.1" width="7.1" height="7.1" fill="#e3e0de"/><rect x="320.3" y="315.15" width="7.1" height="7.1" fill="#e3e0de"/><rect x="320.3" y="323.2" width="7.1" height="7.1" fill="#e3e0de"/><rect x="320.3" y="331.25" width="7.1" height="7.1" fill="#e3e0de"/><rect x="320.3" y="339.3" width="7.1" height="7.1" fill="#e3e0de"/><rect x="320.3" y="347.35" width="7.1" height="7.1" fill="#e3e0de"/><rect x="320.3" y="355.4" width="7.1" height="7.1" fill="#3a9da6"/><rect x="320.3" y="363.45" width="7.1" height="7.1" fill="#3a9da6"/><rect x="328.35" y="291" width="7.1" height="7.1" fill="#e3e0de"/><rect x="328.35" y="299.05" width="7.1" height="7.1" fill="#e3e0de"/><rect x="328.35" y="307.1" width="7.1" height="7.1" fill="#e3e0de"/><rect x="328.35" y="315.15" width="7.1" height="7.1" fill="#e3e0de"/><rect x="328.35" y="323.2" width="7.1" height="7.1" fill="#e3e0de"/><rect x="328.35" y="331.25" width="7.1" height="7.1" fill="#e3e0de"/><rect x="328.35" y="339.3" width="7.1" height="7.1" fill="#e3e0de"/><rect x="328.35" y="347.35" width="7.1" height="7.1" fill="#3a9da6"/><rect x="328.35" y="355.4" width="7.1" height="7.1" fill="#3a9da6"/><rect x="328.35" y="363.45" width="7.1" height="7.1" fill="#3a9da6"/><rect x="336.4" y="291" width="7.1" height="7.1" fill="#e3e0de"/><rect x="336.4" y="299.05" width="7.1" height="7.1" fill="#e3e0de"/><rect x="336.4" y="307.1" width="7.1" height="7.1" fill="#e3e0de"/><rect x="336.4" y="315.15" width="7.1" height="7.1" fill="#3a9da6"/><rect x="336.4" y="323.2" width="7.1" height="7.1" fill="#3a9da6"/><rect x="336.4" y="331.25" width="7.1" height="7.1" fill="#3a9da6"/><rect x="336.4" y="339.3" width="7.1" height="7.1" fill="#3a9da6"/><rect x="336.4" y="347.35" width="7.1" height="7.1" fill="#3a9da6"/><rect x="336.4" y="355.4" width="7.1" height="7.1" fill="#3a9da6"/><rect x="336.4" y="363.45" width="7.1" height="7.1" fill="#3a9da6"/><rect x="344.45" y="291" width="7.1" height="7.1" fill="#e3e0de"/><rect x="344.45" y="299.05" width="7.1" height="7.1" fill="#e3e0de"/><rect x="344.45" y="307.1" width="7.1" height="7.1" fill="#e3e0de"/><rect x="344.45" y="315.15" width="7.1" height="7.1" fill="#3a9da6"/><rect x="344.45" y="323.2" width="7.1" height="7.1" fill="#3a9da6"/><rect x="344.45" y="331.25" width="7.1" height="7.1" fill="#3a9da6"/><rect x="344.45" y="339.3" width="7.1" height="7.1" fill="#3a9da6"/><rect x="344.45" y="347.35" width="7.1" height="7.1" fill="#3a9da6"/><rect x="344.45" y="355.4" width="7.1" height="7.1" fill="#3a9da6"/><rect x="344.45" y="363.45" width="7.1" height="7.1" fill="#3a9da6"/><rect x="352.5" y="291" width="7.1" height="7.1" fill="#3a9da6"/><rect x="352.5" y="299.05" width="7.1" height="7.1" fill="#3a9da6"/><rect x="352.5" y="307.1" width="7.1" height="7.1" fill="#3a9da6"/><rect x="352.5" y="315.15" width="7.1" height="7.1" fill="#3a9da6"/><rect x="352.5" y="323.2" width="7.1" height="7.1" fill="#3a9da6"/><rect x="352.5" y="331.25" width="7.1" height="7.1" fill="#3a9da6"/><rect x="352.5" y="339.3" width="7.1" height="7.1" fill="#3a9da6"/><rect x="352.5" y="347.35" width="7.1" height="7.1" fill="#3a9da6"/><rect x="352.5" y="355.4" width="7.1" height="7.1" fill="#3a9da6"/><rect x="352.5" y="363.45" width="7.1" height="7.1" fill="#3a9da6"/><rect x="360.55" y="291" width="7.1" height="7.1" fill="#e3e0de"/><rect x="360.55" y="299.05" width="7.1" height="7.1" fill="#e3e0de"/><rect x="360.55" y="307.1" width="7.1" height="7.1" fill="#e3e0de"/><rect x="360.55" y="315.15" width="7.1" height="7.1" fill="#e3e0de"/><rect x="360.55" y="323.2" width="7.1" height="7.1" fill="#3a9da6"/><rect x="360.55" y="331.25" width="7.1" height="7.1" fill="#3a9da6"/><rect x="360.55" y="339.3" width="7.1" height="7.1" fill="#3a9da6"/><rect x="360.55" y="347.35" width="7.1" height="7.1" fill="#3a9da6"/><rect x="360.55" y="355.4" width="7.1" height="7.1" fill="#3a9da6"/><rect x="360.55" y="363.45" width="7.1" height="7.1" fill="#3a9da6"/><rect x="368.6" y="291" width="7.1" height="7.1" fill="#e3e0de"/><rect x="368.6" y="299.05" width="7.1" height="7.1" fill="#3a9da6"/><rect x="368.6" y="307.1" width="7.1" height="7.1" fill="#3a9da6"/><rect x="368.6" y="315.15" width="7.1" height="7.1" fill="#3a9da6"/><rect x="368.6" y="323.2" width="7.1" height="7.1" fill="#3a9da6"/><rect x="368.6" y="331.25" width="7.1" height="7.1" fill="#3a9da6"/><rect x="368.6" y="339.3" width="7.1" height="7.1" fill="#3a9da6"/><rect x="368.6" y="347.35" width="7.1" height="7.1" fill="#3a9da6"/><rect x="368.6" y="355.4" width="7.1" height="7.1" fill="#3a9da6"/><rect x="368.6" y="363.45" width="7.1" height="7.1" fill="#3a9da6"/><rect x="376.65" y="291" width="7.1" height="7.1" fill="#e3e0de"/><rect x="376.65" y="299.05" width="7.1" height="7.1" fill="#e3e0de"/><rect x="376.65" y="307.1" width="7.1" height="7.1" fill="#e3e0de"/><rect x="376.65" y="315.15" width="7.1" height="7.1" fill="#e3e0de"/><rect x="376.65" y="323.2" width="7.1" height="7.1" fill="#e3e0de"/><rect x="376.65" y="331.25" width="7.1" height="7.1" fill="#3a9da6"/><rect x="376.65" y="339.3" width="7.1" height="7.1" fill="#3a9da6"/><rect x="376.65" y="347.35" width="7.1" height="7.1" fill="#3a9da6"/><rect x="376.65" y="355.4" width="7.1" height="7.1" fill="#3a9da6"/><rect x="376.65" y="363.45" width="7.1" height="7.1" fill="#3a9da6"/><rect x="384.7" y="291" width="7.1" height="7.1" fill="#e3e0de"/><rect x="384.7" y="299.05" width="7.1" height="7.1" fill="#e3e0de"/><rect x="384.7" y="307.1" width="7.1" height="7.1" fill="#3a9da6"/><rect x="384.7" y="315.15" width="7.1" height="7.1" fill="#3a9da6"/><rect x="384.7" y="323.2" width="7.1" height="7.1" fill="#3a9da6"/><rect x="384.7" y="331.25" width="7.1" height="7.1" fill="#3a9da6"/><rect x="384.7" y="339.3" width="7.1" height="7.1" fill="#3a9da6"/><rect x="384.7" y="347.35" width="7.1" height="7.1" fill="#3a9da6"/><rect x="384.7" y="355.4" width="7.1" height="7.1" fill="#3a9da6"/><rect x="384.7" y="363.45" width="7.1" height="7.1" fill="#3a9da6"/><rect x="392.75" y="291" width="7.1" height="7.1" fill="#e3e0de"/><rect x="392.75" y="299.05" width="7.1" height="7.1" fill="#e3e0de"/><rect x="392.75" y="307.1" width="7.1" height="7.1" fill="#e3e0de"/><rect x="392.75" y="315.15" width="7.1" height="7.1" fill="#e3e0de"/><rect x="392.75" y="323.2" width="7.1" height="7.1" fill="#e3e0de"/><rect x="392.75" y="331.25" width="7.1" height="7.1" fill="#e3e0de"/><rect x="392.75" y="339.3" width="7.1" height="7.1" fill="#3a9da6"/><rect x="392.75" y="347.35" width="7.1" height="7.1" fill="#3a9da6"/><rect x="392.75" y="355.4" width="7.1" height="7.1" fill="#3a9da6"/><rect x="392.75" y="363.45" width="7.1" height="7.1" fill="#3a9da6"/><rect x="400.8" y="291" width="7.1" height="7.1" fill="#e3e0de"/><rect x="400.8" y="299.05" width="7.1" height="7.1" fill="#e3e0de"/><rect x="400.8" y="307.1" width="7.1" height="7.1" fill="#e3e0de"/><rect x="400.8" y="315.15" width="7.1" height="7.1" fill="#e3e0de"/><rect x="400.8" y="323.2" width="7.1" height="7.1" fill="#3a9da6"/><rect x="400.8" y="331.25" width="7.1" height="7.1" fill="#3a9da6"/><rect x="400.8" y="339.3" width="7.1" height="7.1" fill="#3a9da6"/><rect x="400.8" y="347.35" width="7.1" height="7.1" fill="#3a9da6"/><rect x="400.8" y="355.4" width="7.1" height="7.1" fill="#3a9da6"/><rect x="400.8" y="363.45" width="7.1" height="7.1" fill="#3a9da6"/><rect x="408.85" y="291" width="7.1" height="7.1" fill="#e3e0de"/><rect x="408.85" y="299.05" width="7.1" height="7.1" fill="#e3e0de"/><rect x="408.85" y="307.1" width="7.1" height="7.1" fill="#e3e0de"/><rect x="408.85" y="315.15" width="7.1" height="7.1" fill="#e3e0de"/><rect x="408.85" y="323.2" width="7.1" height="7.1" fill="#e3e0de"/><rect x="408.85" y="331.25" width="7.1" height="7.1" fill="#e3e0de"/><rect x="408.85" y="339.3" width="7.1" height="7.1" fill="#e3e0de"/><rect x="408.85" y="347.35" width="7.1" height="7.1" fill="#3a9da6"/><rect x="408.85" y="355.4" width="7.1" height="7.1" fill="#3a9da6"/><rect x="408.85" y="363.45" width="7.1" height="7.1" fill="#3a9da6"/></svg>
<div class="t" style="left:126px;top:152.55px;font-size:8.8px;line-height:8.8px;color:#5c5c5c;font-weight:bold;">Container 10</div>
<div class="t" style="left:320px;top:168.1px;font-size:5.55px;line-height:5.55px;color:#4a4a4a;">Enim ipsam voluptatem quia voluptas sit</div><div class="t" style="left:320px;top:175.4px;font-size:5.55px;line-height:5.55px;color:#4a4a4a;">fugit, sed quia consequuntur magni dolores</div><div class="t" style="left:320px;top:182.7px;font-size:5.55px;line-height:5.55px;color:#4a4a4a;">voluptatem sequi nesciunt. Neque porro</div><div class="t" style="left:320px;top:190px;font-size:5.55px;line-height:5.55px;color:#4a4a4a;">ipsum quia dolor sit amet, consectetur</div><div class="t" style="left:320px;top:197.3px;font-size:5.55px;line-height:5.55px;color:#4a4a4a;">numquam eius modi tempora incidunt</div><div class="t" style="left:320px;top:204.6px;font-size:5.55px;line-height:5.55px;color:#4a4a4a;">aliquam quaerat voluptatem.</div>
<div class="t" style="left:320px;top:219.1px;font-size:5.55px;line-height:5.55px;color:#4a4a4a;">Sed ut perspiciatis unde omnis iste</div><div class="t" style="left:320px;top:226.26px;font-size:5.55px;line-height:5.55px;color:#4a4a4a;">accusantium doloremque laudantium</div><div class="t" style="left:320px;top:233.42px;font-size:5.55px;line-height:5.55px;color:#4a4a4a;">ipsa quae ab illo inventore veritatis</div>
<div class="t" style="left:126px;top:275.55px;font-size:8.8px;line-height:8.8px;color:#5c5c5c;font-weight:bold;">Container 12</div>
<div class="t" style="left:320.5px;top:275.55px;font-size:8.8px;line-height:8.8px;color:#5c5c5c;font-weight:bold;">Container 14</div>
<div class="t" style="left:127px;top:377.04px;font-size:5.5px;line-height:5.5px;color:#444;font-weight:bold;transform:scaleX(0.98);transform-origin:0 50%;">Sed ut perspiciatis unde omnis iste natus error sit voluptatem</div><div class="t" style="left:127px;top:384.44px;font-size:5.5px;line-height:5.5px;color:#444;font-weight:bold;transform:scaleX(0.98);transform-origin:0 50%;">accusantium doloremque laudantium, totam rem aperiam, eaque</div><div class="t" style="left:127px;top:391.84px;font-size:5.5px;line-height:5.5px;color:#444;font-weight:bold;transform:scaleX(0.98);transform-origin:0 50%;">ipsa quae ab illo inventore veritatis et quasi architecto beatae vitae</div>
<div class="t" style="left:320.5px;top:377.04px;font-size:5.5px;line-height:5.5px;color:#444;font-weight:bold;transform:scaleX(0.98);transform-origin:0 50%;">Unde omnis iste natus error sit</div><div class="t" style="left:320.5px;top:384.44px;font-size:5.5px;line-height:5.5px;color:#444;font-weight:bold;transform:scaleX(0.98);transform-origin:0 50%;">doloremque laudantium totam</div><div class="t" style="left:320.5px;top:391.84px;font-size:5.5px;line-height:5.5px;color:#444;font-weight:bold;transform:scaleX(0.98);transform-origin:0 50%;">inventore veritatis et quasi</div>
<div class="t" style="left:129px;top:424.16px;font-size:6.9px;line-height:6.9px;color:#444;font-weight:bold;">Downtime Reason</div>
<div class="t" style="left:197.5px;top:424.16px;font-size:6.9px;line-height:6.9px;color:#444;font-weight:bold;">Occurrences</div>
<div class="t" style="left:279px;top:424.16px;font-size:6.9px;line-height:6.9px;color:#444;font-weight:bold;">Time</div>
<div class="t" style="left:129.5px;top:444.86px;font-size:6.9px;line-height:6.9px;color:#444;">Cap Feed Empty</div>
<div class="t" style="left:197.5px;top:444.86px;font-size:6.9px;line-height:6.9px;color:#444;">1</div>
<div class="t" style="left:279px;top:444.86px;font-size:6.9px;line-height:6.9px;color:#444;">0.25</div>
<div class="t" style="left:129.5px;top:456.16px;font-size:6.9px;line-height:6.9px;color:#444;">Cap Jam</div>
<div class="t" style="left:197.5px;top:456.16px;font-size:6.9px;line-height:6.9px;color:#444;">2</div>
<div class="t" style="left:279px;top:456.16px;font-size:6.9px;line-height:6.9px;color:#444;">0.48</div>
<div class="t" style="left:129.5px;top:466.06px;font-size:6.9px;line-height:6.9px;color:#444;">Container Jam</div>
<div class="t" style="left:197.5px;top:466.06px;font-size:6.9px;line-height:6.9px;color:#444;">2</div>
<div class="t" style="left:279px;top:466.06px;font-size:6.9px;line-height:6.9px;color:#444;">1.27</div>
<div class="t" style="left:129.5px;top:475.86px;font-size:6.9px;line-height:6.9px;color:#444;">Machine Fault</div>
<div class="t" style="left:197.5px;top:475.86px;font-size:6.9px;line-height:6.9px;color:#444;">2</div>
<div class="t" style="left:279px;top:475.86px;font-size:6.9px;line-height:6.9px;color:#444;">0.95</div>
<div class="t" style="left:150.5px;top:486.66px;font-size:6.9px;line-height:6.9px;color:#444;font-style:italic;">TOTALS</div>
<div class="t" style="left:197.5px;top:486.66px;font-size:6.9px;line-height:6.9px;color:#444;font-style:italic;">7</div>
<div class="t" style="left:279px;top:486.66px;font-size:6.9px;line-height:6.9px;color:#444;font-style:italic;">2.95</div>
<div class="t" style="left:129.5px;top:508.26px;font-size:6.9px;line-height:6.9px;color:#444;">Barcode Printer Jam</div>
<div class="t" style="left:197.5px;top:508.26px;font-size:6.9px;line-height:6.9px;color:#444;">1</div>
<div class="t" style="left:279px;top:508.26px;font-size:6.9px;line-height:6.9px;color:#444;">0.5</div>
<div class="t" style="left:129.5px;top:518.16px;font-size:6.9px;line-height:6.9px;color:#444;">Case Feed Empty</div>
<div class="t" style="left:197.5px;top:518.16px;font-size:6.9px;line-height:6.9px;color:#444;">1</div>
<div class="t" style="left:279px;top:518.16px;font-size:6.9px;line-height:6.9px;color:#444;">0.25</div>
<div class="t" style="left:129.5px;top:528.06px;font-size:6.9px;line-height:6.9px;color:#444;">Case Jam</div>
<div class="t" style="left:197.5px;top:528.06px;font-size:6.9px;line-height:6.9px;color:#444;">2</div>
<div class="t" style="left:279px;top:528.06px;font-size:6.9px;line-height:6.9px;color:#444;">0.78</div>
<div class="t" style="left:129.5px;top:538.86px;font-size:6.9px;line-height:6.9px;color:#444;">Container Infeed</div>
<div class="t" style="left:197.5px;top:538.86px;font-size:6.9px;line-height:6.9px;color:#444;">1</div>
<div class="t" style="left:279px;top:538.86px;font-size:6.9px;line-height:6.9px;color:#444;">0.23</div>
<div class="t" style="left:129.5px;top:546.86px;font-size:6.9px;line-height:6.9px;color:#444;">Jam</div>
<div class="t" style="left:129.5px;top:556.26px;font-size:6.9px;line-height:6.9px;color:#444;">Drop Jam</div>
<div class="t" style="left:197.5px;top:556.26px;font-size:6.9px;line-height:6.9px;color:#444;">1</div>
<div class="t" style="left:279px;top:556.26px;font-size:6.9px;line-height:6.9px;color:#444;">0.48</div>
<div class="t" style="left:129.5px;top:565.66px;font-size:6.9px;line-height:6.9px;color:#444;">Machine Fault</div>
<div class="t" style="left:197.5px;top:565.66px;font-size:6.9px;line-height:6.9px;color:#444;">1</div>
<div class="t" style="left:279px;top:565.66px;font-size:6.9px;line-height:6.9px;color:#444;">0.27</div>
<div class="t" style="left:150.5px;top:575.96px;font-size:6.9px;line-height:6.9px;color:#444;font-style:italic;">TOTALS</div>
<div class="t" style="left:197.5px;top:575.96px;font-size:6.9px;line-height:6.9px;color:#444;font-style:italic;">7</div>
<div class="t" style="left:279px;top:575.96px;font-size:6.9px;line-height:6.9px;color:#444;font-style:italic;">2.52</div>
<div class="t" style="left:129.5px;top:597.06px;font-size:6.9px;line-height:6.9px;color:#444;">Container Jam</div>
<div class="t" style="left:197.5px;top:597.06px;font-size:6.9px;line-height:6.9px;color:#444;">3</div>
<div class="t" style="left:279px;top:597.06px;font-size:6.9px;line-height:6.9px;color:#444;">0.77</div>
<div class="t" style="left:129.5px;top:607.86px;font-size:6.9px;line-height:6.9px;color:#444;">Machine Fault</div>
<div class="t" style="left:197.5px;top:607.86px;font-size:6.9px;line-height:6.9px;color:#444;">1</div>
<div class="t" style="left:279px;top:607.86px;font-size:6.9px;line-height:6.9px;color:#444;">0.27</div>
<div class="t" style="left:129.5px;top:617.76px;font-size:6.9px;line-height:6.9px;color:#444;">Over Temperature</div>
<div class="t" style="left:197.5px;top:617.76px;font-size:6.9px;line-height:6.9px;color:#444;">1</div>
<div class="t" style="left:279px;top:617.76px;font-size:6.9px;line-height:6.9px;color:#444;">0.25</div>
<div class="t" style="left:129.5px;top:628.06px;font-size:6.9px;line-height:6.9px;color:#444;">Scale Fault</div>
<div class="t" style="left:197.5px;top:628.06px;font-size:6.9px;line-height:6.9px;color:#444;">3</div>
<div class="t" style="left:279px;top:628.06px;font-size:6.9px;line-height:6.9px;color:#444;">1.72</div>
<div class="t" style="left:129.5px;top:638.86px;font-size:6.9px;line-height:6.9px;color:#444;">Waiting For Product</div>
<div class="t" style="left:197.5px;top:638.86px;font-size:6.9px;line-height:6.9px;color:#444;">3</div>
<div class="t" style="left:279px;top:638.86px;font-size:6.9px;line-height:6.9px;color:#444;">1.27</div>
<div class="t" style="left:150.5px;top:649.26px;font-size:6.9px;line-height:6.9px;color:#444;font-style:italic;">TOTALS</div>
<div class="t" style="left:197.5px;top:649.26px;font-size:6.9px;line-height:6.9px;color:#444;font-style:italic;">11</div>
<div class="t" style="left:279px;top:649.26px;font-size:6.9px;line-height:6.9px;color:#444;font-style:italic;">4.27</div>
</div></div>
<div class="pg p5" style="left:1256px;top:109px;width:461px;height:597px;z-index:1;">
<div class="in" style="left:-1256px;top:-109px;">
<svg width="1766" height="754" viewBox="0 0 1766 754"><rect x="1378" y="202.6" width="286.8" height="9.1" fill="#a9b0b6"/><rect x="1378" y="211.7" width="286.8" height="9.64" fill="#ffffff"/><rect x="1378" y="221.34" width="286.8" height="9.64" fill="#d6dadd"/><rect x="1378" y="230.98" width="286.8" height="9.64" fill="#ffffff"/><rect x="1378" y="240.62" width="286.8" height="9.64" fill="#d6dadd"/><rect x="1378" y="250.26" width="286.8" height="9.64" fill="#ffffff"/><rect x="1378" y="259.9" width="286.8" height="9.64" fill="#d6dadd"/><rect x="1378" y="269.54" width="286.8" height="9.64" fill="#ffffff"/><rect x="1378" y="279.18" width="286.8" height="9.64" fill="#d6dadd"/><rect x="1378" y="288.82" width="286.8" height="9.64" fill="#ffffff"/><rect x="1378" y="298.46" width="286.8" height="9.64" fill="#d6dadd"/><rect x="1378" y="308.1" width="286.8" height="9.64" fill="#ffffff"/><rect x="1378" y="317.74" width="286.8" height="9.64" fill="#d6dadd"/><rect x="1378" y="327.38" width="286.8" height="9.64" fill="#ffffff"/><line x1="1425.8" y1="202.6" x2="1425.8" y2="337.02" stroke="#c2c5c8" stroke-width="0.6"/><line x1="1473.6" y1="202.6" x2="1473.6" y2="337.02" stroke="#c2c5c8" stroke-width="0.6"/><line x1="1521.4" y1="202.6" x2="1521.4" y2="337.02" stroke="#c2c5c8" stroke-width="0.6"/><line x1="1569.2" y1="202.6" x2="1569.2" y2="337.02" stroke="#c2c5c8" stroke-width="0.6"/><line x1="1617" y1="202.6" x2="1617" y2="337.02" stroke="#c2c5c8" stroke-width="0.6"/><line x1="1671.7" y1="363.9" x2="1671.7" y2="645.7" stroke="#d2d2d2" stroke-width="1"/><line x1="1655.98" y1="363.9" x2="1655.98" y2="645.7" stroke="#d2d2d2" stroke-width="1"/><line x1="1640.26" y1="363.9" x2="1640.26" y2="645.7" stroke="#d2d2d2" stroke-width="1"/><line x1="1624.54" y1="363.9" x2="1624.54" y2="645.7" stroke="#d2d2d2" stroke-width="1"/><line x1="1608.82" y1="363.9" x2="1608.82" y2="645.7" stroke="#d2d2d2" stroke-width="1"/><line x1="1593.1" y1="363.9" x2="1593.1" y2="645.7" stroke="#d2d2d2" stroke-width="1"/><line x1="1577.38" y1="363.9" x2="1577.38" y2="645.7" stroke="#d2d2d2" stroke-width="1"/><line x1="1561.66" y1="363.9" x2="1561.66" y2="645.7" stroke="#d2d2d2" stroke-width="1"/><line x1="1545.94" y1="363.9" x2="1545.94" y2="645.7" stroke="#d2d2d2" stroke-width="1"/><line x1="1530.22" y1="363.9" x2="1530.22" y2="645.7" stroke="#d2d2d2" stroke-width="1"/><line x1="1514.5" y1="363.9" x2="1514.5" y2="645.7" stroke="#d2d2d2" stroke-width="1"/><line x1="1498.78" y1="363.9" x2="1498.78" y2="645.7" stroke="#d2d2d2" stroke-width="1"/><line x1="1483.06" y1="363.9" x2="1483.06" y2="645.7" stroke="#d2d2d2" stroke-width="1"/><line x1="1467.34" y1="363.9" x2="1467.34" y2="645.7" stroke="#d2d2d2" stroke-width="1"/><line x1="1451.62" y1="363.9" x2="1451.62" y2="645.7" stroke="#d2d2d2" stroke-width="1"/><line x1="1435.9" y1="363.9" x2="1435.9" y2="645.7" stroke="#d2d2d2" stroke-width="1"/><line x1="1420.18" y1="363.9" x2="1420.18" y2="645.7" stroke="#d2d2d2" stroke-width="1"/><line x1="1404.46" y1="363.9" x2="1404.46" y2="645.7" stroke="#d2d2d2" stroke-width="1"/><line x1="1388.74" y1="363.9" x2="1388.74" y2="645.7" stroke="#d2d2d2" stroke-width="1"/><line x1="1373.02" y1="363.9" x2="1373.02" y2="645.7" stroke="#d2d2d2" stroke-width="1"/><line x1="1357.3" y1="363.9" x2="1357.3" y2="645.7" stroke="#d2d2d2" stroke-width="1"/><line x1="1341.58" y1="363.9" x2="1341.58" y2="645.7" stroke="#d2d2d2" stroke-width="1"/><line x1="1325.86" y1="363.9" x2="1325.86" y2="645.7" stroke="#d2d2d2" stroke-width="1"/><line x1="1310.14" y1="363.9" x2="1310.14" y2="645.7" stroke="#d2d2d2" stroke-width="1"/><line x1="1301.0" y1="363.9" x2="1671.7" y2="363.9" stroke="#d2d2d2" stroke-width="1"/><line x1="1301.0" y1="392.08" x2="1671.7" y2="392.08" stroke="#d2d2d2" stroke-width="1"/><line x1="1301.0" y1="420.26" x2="1671.7" y2="420.26" stroke="#d2d2d2" stroke-width="1"/><line x1="1301.0" y1="448.44" x2="1671.7" y2="448.44" stroke="#d2d2d2" stroke-width="1"/><line x1="1301.0" y1="476.62" x2="1671.7" y2="476.62" stroke="#d2d2d2" stroke-width="1"/><line x1="1301.0" y1="504.8" x2="1671.7" y2="504.8" stroke="#d2d2d2" stroke-width="1"/><line x1="1301.0" y1="532.98" x2="1671.7" y2="532.98" stroke="#d2d2d2" stroke-width="1"/><line x1="1301.0" y1="561.16" x2="1671.7" y2="561.16" stroke="#d2d2d2" stroke-width="1"/><line x1="1301.0" y1="589.34" x2="1671.7" y2="589.34" stroke="#d2d2d2" stroke-width="1"/><line x1="1301.0" y1="617.52" x2="1671.7" y2="617.52" stroke="#d2d2d2" stroke-width="1"/><line x1="1301.0" y1="645.7" x2="1671.7" y2="645.7" stroke="#d2d2d2" stroke-width="1"/><rect x="1446.6" y="577.2" width="10.9" height="68.5" fill="#a5c34a"/><rect x="1457.5" y="390.2" width="11.2" height="255.5" fill="#6b6e73"/><rect x="1497" y="575.6" width="10.9" height="70.1" fill="#a5c34a"/><rect x="1507.9" y="428.2" width="11.2" height="217.5" fill="#6b6e73"/><rect x="1547.4" y="520.4" width="10.9" height="125.3" fill="#a5c34a"/><rect x="1558.3" y="367.7" width="11.2" height="278" fill="#6b6e73"/><rect x="1597.2" y="457.2" width="10.9" height="188.5" fill="#a5c34a"/><rect x="1608.1" y="445.4" width="11.2" height="200.3" fill="#6b6e73"/><rect x="1647.6" y="498.4" width="10.9" height="147.3" fill="#a5c34a"/><rect x="1658.5" y="604" width="11.2" height="41.7" fill="#6b6e73"/><rect x="1396.2" y="560" width="10.9" height="85.7" fill="#a5c34a"/><rect x="1407.1" y="450" width="11.2" height="195.7" fill="#6b6e73"/><rect x="1345.8" y="600" width="10.9" height="45.7" fill="#a5c34a"/><rect x="1356.7" y="500" width="11.2" height="145.7" fill="#6b6e73"/><line x1="1301.0" y1="645.7" x2="1671.7" y2="645.7" stroke="#555" stroke-width="1.2"/></svg>
<div class="t" style="right:calc(100% - 1558.7px);top:151.26px;font-size:24.5px;line-height:24.5px;color:#7a7b7e;transform:scaleX(1.022);transform-origin:100% 50%;">nthly Report</div>
<div class="t" style="left:1401.9px;top:214.32px;font-size:6px;line-height:6px;color:#4a4a4a;transform:translateX(-50%) scaleX(0.94);">9878731</div>
<div class="t" style="left:1449.7px;top:214.32px;font-size:6px;line-height:6px;color:#4a4a4a;transform:translateX(-50%) scaleX(0.94);">2138126</div>
<div class="t" style="left:1497.5px;top:214.32px;font-size:6px;line-height:6px;color:#4a4a4a;transform:translateX(-50%) scaleX(0.94);">021738</div>
<div class="t" style="left:1545.3px;top:214.32px;font-size:6px;line-height:6px;color:#4a4a4a;transform:translateX(-50%) scaleX(0.94);">4138126</div>
<div class="t" style="left:1593.1px;top:214.32px;font-size:6px;line-height:6px;color:#4a4a4a;transform:translateX(-50%) scaleX(0.94);">5878731</div>
<div class="t" style="left:1640.9px;top:214.32px;font-size:6px;line-height:6px;color:#4a4a4a;transform:translateX(-50%) scaleX(0.94);">2138126</div>
<div class="t" style="left:1401.9px;top:223.96px;font-size:6px;line-height:6px;color:#4a4a4a;transform:translateX(-50%) scaleX(0.94);">6138126</div>
<div class="t" style="left:1449.7px;top:223.96px;font-size:6px;line-height:6px;color:#4a4a4a;transform:translateX(-50%) scaleX(0.94);">89792</div>
<div class="t" style="left:1497.5px;top:223.96px;font-size:6px;line-height:6px;color:#4a4a4a;transform:translateX(-50%) scaleX(0.94);">7815520</div>
<div class="t" style="left:1545.3px;top:223.96px;font-size:6px;line-height:6px;color:#4a4a4a;transform:translateX(-50%) scaleX(0.94);">89792</div>
<div class="t" style="left:1593.1px;top:223.96px;font-size:6px;line-height:6px;color:#4a4a4a;transform:translateX(-50%) scaleX(0.94);">6138126</div>
<div class="t" style="left:1640.9px;top:223.96px;font-size:6px;line-height:6px;color:#4a4a4a;transform:translateX(-50%) scaleX(0.94);">89792</div>
<div class="t" style="left:1401.9px;top:233.6px;font-size:6px;line-height:6px;color:#4a4a4a;transform:translateX(-50%) scaleX(0.94);">07262</div>
<div class="t" style="left:1449.7px;top:233.6px;font-size:6px;line-height:6px;color:#4a4a4a;transform:translateX(-50%) scaleX(0.94);">02173</div>
<div class="t" style="left:1497.5px;top:233.6px;font-size:6px;line-height:6px;color:#4a4a4a;transform:translateX(-50%) scaleX(0.94);">07262</div>
<div class="t" style="left:1545.3px;top:233.6px;font-size:6px;line-height:6px;color:#4a4a4a;transform:translateX(-50%) scaleX(0.94);">021738</div>
<div class="t" style="left:1593.1px;top:233.6px;font-size:6px;line-height:6px;color:#4a4a4a;transform:translateX(-50%) scaleX(0.94);">89792</div>
<div class="t" style="left:1640.9px;top:233.6px;font-size:6px;line-height:6px;color:#4a4a4a;transform:translateX(-50%) scaleX(0.94);">02173</div>
<div class="t" style="left:1401.9px;top:243.24px;font-size:6px;line-height:6px;color:#4a4a4a;transform:translateX(-50%) scaleX(0.94);">6278735</div>
<div class="t" style="left:1449.7px;top:243.24px;font-size:6px;line-height:6px;color:#4a4a4a;transform:translateX(-50%) scaleX(0.94);">815520</div>
<div class="t" style="left:1497.5px;top:243.24px;font-size:6px;line-height:6px;color:#4a4a4a;transform:translateX(-50%) scaleX(0.94);">6278735</div>
<div class="t" style="left:1545.3px;top:243.24px;font-size:6px;line-height:6px;color:#4a4a4a;transform:translateX(-50%) scaleX(0.94);">7815520</div>
<div class="t" style="left:1593.1px;top:243.24px;font-size:6px;line-height:6px;color:#4a4a4a;transform:translateX(-50%) scaleX(0.94);">021733</div>
<div class="t" style="left:1640.9px;top:243.24px;font-size:6px;line-height:6px;color:#4a4a4a;transform:translateX(-50%) scaleX(0.94);">815520</div>
<div class="t" style="left:1401.9px;top:252.88px;font-size:6px;line-height:6px;color:#4a4a4a;transform:translateX(-50%) scaleX(0.94);">18963</div>
<div class="t" style="left:1449.7px;top:252.88px;font-size:6px;line-height:6px;color:#4a4a4a;transform:translateX(-50%) scaleX(0.94);">57263</div>
<div class="t" style="left:1497.5px;top:252.88px;font-size:6px;line-height:6px;color:#4a4a4a;transform:translateX(-50%) scaleX(0.94);">18963</div>
<div class="t" style="left:1545.3px;top:252.88px;font-size:6px;line-height:6px;color:#4a4a4a;transform:translateX(-50%) scaleX(0.94);">07262</div>
<div class="t" style="left:1593.1px;top:252.88px;font-size:6px;line-height:6px;color:#4a4a4a;transform:translateX(-50%) scaleX(0.94);">4815520</div>
<div class="t" style="left:1640.9px;top:252.88px;font-size:6px;line-height:6px;color:#4a4a4a;transform:translateX(-50%) scaleX(0.94);">57263</div>
<div class="t" style="left:1401.9px;top:262.52px;font-size:6px;line-height:6px;color:#4a4a4a;transform:translateX(-50%) scaleX(0.94);">9878731</div>
<div class="t" style="left:1449.7px;top:262.52px;font-size:6px;line-height:6px;color:#4a4a4a;transform:translateX(-50%) scaleX(0.94);">413126</div>
<div class="t" style="left:1497.5px;top:262.52px;font-size:6px;line-height:6px;color:#4a4a4a;transform:translateX(-50%) scaleX(0.94);">9878731</div>
<div class="t" style="left:1545.3px;top:262.52px;font-size:6px;line-height:6px;color:#4a4a4a;transform:translateX(-50%) scaleX(0.94);">6278735</div>
<div class="t" style="left:1593.1px;top:262.52px;font-size:6px;line-height:6px;color:#4a4a4a;transform:translateX(-50%) scaleX(0.94);">57263</div>
<div class="t" style="left:1640.9px;top:262.52px;font-size:6px;line-height:6px;color:#4a4a4a;transform:translateX(-50%) scaleX(0.94);">413126</div>
<div class="t" style="left:1401.9px;top:272.16px;font-size:6px;line-height:6px;color:#4a4a4a;transform:translateX(-50%) scaleX(0.94);">138126</div>
<div class="t" style="left:1449.7px;top:272.16px;font-size:6px;line-height:6px;color:#4a4a4a;transform:translateX(-50%) scaleX(0.94);">89792</div>
<div class="t" style="left:1497.5px;top:272.16px;font-size:6px;line-height:6px;color:#4a4a4a;transform:translateX(-50%) scaleX(0.94);">138126</div>
<div class="t" style="left:1545.3px;top:272.16px;font-size:6px;line-height:6px;color:#4a4a4a;transform:translateX(-50%) scaleX(0.94);">18963</div>
<div class="t" style="left:1593.1px;top:272.16px;font-size:6px;line-height:6px;color:#4a4a4a;transform:translateX(-50%) scaleX(0.94);">6138126</div>
<div class="t" style="left:1640.9px;top:272.16px;font-size:6px;line-height:6px;color:#4a4a4a;transform:translateX(-50%) scaleX(0.94);">89792</div>
<div class="t" style="left:1401.9px;top:281.8px;font-size:6px;line-height:6px;color:#4a4a4a;transform:translateX(-50%) scaleX(0.94);">045792</div>
<div class="t" style="left:1449.7px;top:281.8px;font-size:6px;line-height:6px;color:#4a4a4a;transform:translateX(-50%) scaleX(0.94);">021738</div>
<div class="t" style="left:1497.5px;top:281.8px;font-size:6px;line-height:6px;color:#4a4a4a;transform:translateX(-50%) scaleX(0.94);">045792</div>
<div class="t" style="left:1545.3px;top:281.8px;font-size:6px;line-height:6px;color:#4a4a4a;transform:translateX(-50%) scaleX(0.94);">9878731</div>
<div class="t" style="left:1593.1px;top:281.8px;font-size:6px;line-height:6px;color:#4a4a4a;transform:translateX(-50%) scaleX(0.94);">89792</div>
<div class="t" style="left:1640.9px;top:281.8px;font-size:6px;line-height:6px;color:#4a4a4a;transform:translateX(-50%) scaleX(0.94);">021738</div>
<div class="t" style="left:1401.9px;top:291.44px;font-size:6px;line-height:6px;color:#4a4a4a;transform:translateX(-50%) scaleX(0.94);">021733</div>
<div class="t" style="left:1449.7px;top:291.44px;font-size:6px;line-height:6px;color:#4a4a4a;transform:translateX(-50%) scaleX(0.94);">781520</div>
<div class="t" style="left:1497.5px;top:291.44px;font-size:6px;line-height:6px;color:#4a4a4a;transform:translateX(-50%) scaleX(0.94);">021733</div>
<div class="t" style="left:1545.3px;top:291.44px;font-size:6px;line-height:6px;color:#4a4a4a;transform:translateX(-50%) scaleX(0.94);">2138126</div>
<div class="t" style="left:1593.1px;top:291.44px;font-size:6px;line-height:6px;color:#4a4a4a;transform:translateX(-50%) scaleX(0.94);">1217381</div>
<div class="t" style="left:1640.9px;top:291.44px;font-size:6px;line-height:6px;color:#4a4a4a;transform:translateX(-50%) scaleX(0.94);">781520</div>
<div class="t" style="left:1401.9px;top:301.08px;font-size:6px;line-height:6px;color:#4a4a4a;transform:translateX(-50%) scaleX(0.94);">2872731</div>
<div class="t" style="left:1449.7px;top:301.08px;font-size:6px;line-height:6px;color:#4a4a4a;transform:translateX(-50%) scaleX(0.94);">07262</div>
<div class="t" style="left:1497.5px;top:301.08px;font-size:6px;line-height:6px;color:#4a4a4a;transform:translateX(-50%) scaleX(0.94);">2872731</div>
<div class="t" style="left:1545.3px;top:301.08px;font-size:6px;line-height:6px;color:#4a4a4a;transform:translateX(-50%) scaleX(0.94);">89792</div>
<div class="t" style="left:1593.1px;top:301.08px;font-size:6px;line-height:6px;color:#4a4a4a;transform:translateX(-50%) scaleX(0.94);">7815520</div>
<div class="t" style="left:1640.9px;top:301.08px;font-size:6px;line-height:6px;color:#4a4a4a;transform:translateX(-50%) scaleX(0.94);">07262</div>
<div class="t" style="left:1401.9px;top:310.72px;font-size:6px;line-height:6px;color:#4a4a4a;transform:translateX(-50%) scaleX(0.94);">57263</div>
<div class="t" style="left:1449.7px;top:310.72px;font-size:6px;line-height:6px;color:#4a4a4a;transform:translateX(-50%) scaleX(0.94);">627735</div>
<div class="t" style="left:1497.5px;top:310.72px;font-size:6px;line-height:6px;color:#4a4a4a;transform:translateX(-50%) scaleX(0.94);">57263</div>
<div class="t" style="left:1545.3px;top:310.72px;font-size:6px;line-height:6px;color:#4a4a4a;transform:translateX(-50%) scaleX(0.94);">021733</div>
<div class="t" style="left:1593.1px;top:310.72px;font-size:6px;line-height:6px;color:#4a4a4a;transform:translateX(-50%) scaleX(0.94);">27264</div>
<div class="t" style="left:1640.9px;top:310.72px;font-size:6px;line-height:6px;color:#4a4a4a;transform:translateX(-50%) scaleX(0.94);">627735</div>
<div class="t" style="left:1401.9px;top:320.36px;font-size:6px;line-height:6px;color:#4a4a4a;transform:translateX(-50%) scaleX(0.94);">6138126</div>
<div class="t" style="left:1449.7px;top:320.36px;font-size:6px;line-height:6px;color:#4a4a4a;transform:translateX(-50%) scaleX(0.94);">18963</div>
<div class="t" style="left:1497.5px;top:320.36px;font-size:6px;line-height:6px;color:#4a4a4a;transform:translateX(-50%) scaleX(0.94);">6138126</div>
<div class="t" style="left:1545.3px;top:320.36px;font-size:6px;line-height:6px;color:#4a4a4a;transform:translateX(-50%) scaleX(0.94);">7815520</div>
<div class="t" style="left:1593.1px;top:320.36px;font-size:6px;line-height:6px;color:#4a4a4a;transform:translateX(-50%) scaleX(0.94);">5278735</div>
<div class="t" style="left:1640.9px;top:320.36px;font-size:6px;line-height:6px;color:#4a4a4a;transform:translateX(-50%) scaleX(0.94);">18963</div>
<div class="t" style="left:1401.9px;top:330px;font-size:6px;line-height:6px;color:#4a4a4a;transform:translateX(-50%) scaleX(0.94);">98964</div>
<div class="t" style="left:1449.7px;top:330px;font-size:6px;line-height:6px;color:#4a4a4a;transform:translateX(-50%) scaleX(0.94);">6138126</div>
<div class="t" style="left:1497.5px;top:330px;font-size:6px;line-height:6px;color:#4a4a4a;transform:translateX(-50%) scaleX(0.94);">98964</div>
<div class="t" style="left:1545.3px;top:330px;font-size:6px;line-height:6px;color:#4a4a4a;transform:translateX(-50%) scaleX(0.94);">57263</div>
<div class="t" style="left:1593.1px;top:330px;font-size:6px;line-height:6px;color:#4a4a4a;transform:translateX(-50%) scaleX(0.94);">28963</div>
<div class="t" style="left:1640.9px;top:330px;font-size:6px;line-height:6px;color:#4a4a4a;transform:translateX(-50%) scaleX(0.94);">6138126</div>
<div class="t" style="left:1334.8px;top:654.2px;font-size:10.4px;line-height:10.4px;color:#9a9a9a;transform:translateX(-50%);">0</div>
<div class="t" style="left:1362.5px;top:654.2px;font-size:10.4px;line-height:10.4px;color:#9a9a9a;transform:translateX(-50%);">10</div>
<div class="t" style="left:1390.2px;top:654.2px;font-size:10.4px;line-height:10.4px;color:#9a9a9a;transform:translateX(-50%);">20</div>
<div class="t" style="left:1417.9px;top:654.2px;font-size:10.4px;line-height:10.4px;color:#9a9a9a;transform:translateX(-50%);">30</div>
<div class="t" style="left:1445.6px;top:654.2px;font-size:10.4px;line-height:10.4px;color:#9a9a9a;transform:translateX(-50%);">40</div>
<div class="t" style="left:1473.3px;top:654.2px;font-size:10.4px;line-height:10.4px;color:#9a9a9a;transform:translateX(-50%);">50</div>
<div class="t" style="left:1501px;top:654.2px;font-size:10.4px;line-height:10.4px;color:#9a9a9a;transform:translateX(-50%);">60</div>
<div class="t" style="left:1528.7px;top:654.2px;font-size:10.4px;line-height:10.4px;color:#9a9a9a;transform:translateX(-50%);">70</div>
<div class="t" style="left:1556.4px;top:654.2px;font-size:10.4px;line-height:10.4px;color:#9a9a9a;transform:translateX(-50%);">80</div>
<div class="t" style="left:1584.1px;top:654.2px;font-size:10.4px;line-height:10.4px;color:#9a9a9a;transform:translateX(-50%);">90</div>
<div class="t" style="left:1610px;top:654.2px;font-size:10.4px;line-height:10.4px;color:#9a9a9a;transform:translateX(-50%);">100</div>
<div class="t" style="left:1639px;top:654.2px;font-size:10.4px;line-height:10.4px;color:#9a9a9a;transform:translateX(-50%);">110</div>
</div></div>
<div class="pg p2" style="left:374px;top:69px;width:461px;height:597px;z-index:2;">
<div class="in" style="left:-374px;top:-69px;">
<svg width="1766" height="754" viewBox="0 0 1766 754"><line x1="418.4" y1="287.2" x2="418.4" y2="455.0" stroke="#d6d6d6" stroke-width="0.8"/><line x1="435.3" y1="287.2" x2="435.3" y2="455.0" stroke="#d6d6d6" stroke-width="0.8"/><line x1="452.2" y1="287.2" x2="452.2" y2="455.0" stroke="#d6d6d6" stroke-width="0.8"/><line x1="469.1" y1="287.2" x2="469.1" y2="455.0" stroke="#d6d6d6" stroke-width="0.8"/><line x1="486" y1="287.2" x2="486" y2="455.0" stroke="#d6d6d6" stroke-width="0.8"/><line x1="502.9" y1="287.2" x2="502.9" y2="455.0" stroke="#d6d6d6" stroke-width="0.8"/><line x1="519.8" y1="287.2" x2="519.8" y2="455.0" stroke="#d6d6d6" stroke-width="0.8"/><line x1="536.7" y1="287.2" x2="536.7" y2="455.0" stroke="#d6d6d6" stroke-width="0.8"/><line x1="553.6" y1="287.2" x2="553.6" y2="455.0" stroke="#d6d6d6" stroke-width="0.8"/><line x1="570.5" y1="287.2" x2="570.5" y2="455.0" stroke="#d6d6d6" stroke-width="0.8"/><line x1="587.4" y1="287.2" x2="587.4" y2="455.0" stroke="#d6d6d6" stroke-width="0.8"/><line x1="604.3" y1="287.2" x2="604.3" y2="455.0" stroke="#d6d6d6" stroke-width="0.8"/><line x1="621.2" y1="287.2" x2="621.2" y2="455.0" stroke="#d6d6d6" stroke-width="0.8"/><line x1="638.1" y1="287.2" x2="638.1" y2="455.0" stroke="#d6d6d6" stroke-width="0.8"/><line x1="655" y1="287.2" x2="655" y2="455.0" stroke="#d6d6d6" stroke-width="0.8"/><line x1="671.9" y1="287.2" x2="671.9" y2="455.0" stroke="#d6d6d6" stroke-width="0.8"/><line x1="418.4" y1="287.2" x2="671.9" y2="287.2" stroke="#d6d6d6" stroke-width="0.8"/><line x1="418.4" y1="303.98" x2="671.9" y2="303.98" stroke="#d6d6d6" stroke-width="0.8"/><line x1="418.4" y1="320.76" x2="671.9" y2="320.76" stroke="#d6d6d6" stroke-width="0.8"/><line x1="418.4" y1="337.54" x2="671.9" y2="337.54" stroke="#d6d6d6" stroke-width="0.8"/><line x1="418.4" y1="354.32" x2="671.9" y2="354.32" stroke="#d6d6d6" stroke-width="0.8"/><line x1="418.4" y1="371.1" x2="671.9" y2="371.1" stroke="#d6d6d6" stroke-width="0.8"/><line x1="418.4" y1="387.88" x2="671.9" y2="387.88" stroke="#d6d6d6" stroke-width="0.8"/><line x1="418.4" y1="404.66" x2="671.9" y2="404.66" stroke="#d6d6d6" stroke-width="0.8"/><line x1="418.4" y1="421.44" x2="671.9" y2="421.44" stroke="#d6d6d6" stroke-width="0.8"/><line x1="418.4" y1="438.22" x2="671.9" y2="438.22" stroke="#d6d6d6" stroke-width="0.8"/><line x1="418.4" y1="455" x2="671.9" y2="455" stroke="#d6d6d6" stroke-width="0.8"/><rect x="418.4" y="324.9" width="67.6" height="130.1" fill="#3a9ea8"/><rect x="494.4" y="374.2" width="67.6" height="80.8" fill="#374c5a"/><rect x="570.2" y="299" width="67.6" height="156" fill="#cf5a67"/><rect x="646" y="373.7" width="67.6" height="81.3" fill="#8cb8c9"/><line x1="418.4" y1="455.0" x2="671.9" y2="455.0" stroke="#c8c8c8" stroke-width="0.8"/><rect x="418.8" y="479" width="185.2" height="8.9" fill="#a6acb1"/><rect x="418.8" y="487.9" width="185.2" height="9.68" fill="#f0f0f0"/><rect x="418.8" y="497.58" width="185.2" height="9.68" fill="#d3d6d9"/><rect x="418.8" y="507.26" width="185.2" height="9.68" fill="#f0f0f0"/><rect x="418.8" y="516.94" width="185.2" height="9.68" fill="#d3d6d9"/><rect x="418.8" y="526.62" width="185.2" height="9.68" fill="#f0f0f0"/><rect x="418.8" y="536.3" width="185.2" height="9.68" fill="#d3d6d9"/><rect x="418.8" y="545.98" width="185.2" height="9.68" fill="#f0f0f0"/><rect x="418.8" y="555.66" width="185.2" height="9.68" fill="#d3d6d9"/><rect x="418.8" y="565.34" width="185.2" height="9.68" fill="#f0f0f0"/><rect x="418.8" y="575.02" width="185.2" height="9.68" fill="#d3d6d9"/><rect x="418.8" y="584.7" width="185.2" height="9.68" fill="#f0f0f0"/><rect x="418.8" y="594.38" width="185.2" height="9.68" fill="#d3d6d9"/><rect x="418.8" y="604.06" width="185.2" height="9.68" fill="#f0f0f0"/><line x1="455.84" y1="479" x2="455.84" y2="613.74" stroke="#c9cbcd" stroke-width="0.6"/><line x1="492.88" y1="479" x2="492.88" y2="613.74" stroke="#c9cbcd" stroke-width="0.6"/><line x1="529.92" y1="479" x2="529.92" y2="613.74" stroke="#c9cbcd" stroke-width="0.6"/><line x1="566.96" y1="479" x2="566.96" y2="613.74" stroke="#c9cbcd" stroke-width="0.6"/><rect x="628.7" y="492.9" width="3.8" height="84.2" fill="#d6d1cd"/><rect x="628.7" y="549.7" width="3.8" height="27.4" fill="#9b9fa3"/><rect x="634.96" y="492.9" width="3.8" height="84.2" fill="#d6d1cd"/><rect x="634.96" y="532.8" width="3.8" height="44.3" fill="#9b9fa3"/><rect x="641.22" y="492.9" width="3.8" height="84.2" fill="#d6d1cd"/><rect x="641.22" y="546.5" width="3.8" height="30.6" fill="#9b9fa3"/><rect x="647.48" y="492.9" width="3.8" height="84.2" fill="#d6d1cd"/><rect x="647.48" y="547.6" width="3.8" height="29.5" fill="#9b9fa3"/><rect x="653.74" y="492.9" width="3.8" height="84.2" fill="#d6d1cd"/><rect x="653.74" y="557" width="3.8" height="20.1" fill="#9b9fa3"/><rect x="660" y="492.9" width="3.8" height="84.2" fill="#d6d1cd"/><rect x="660" y="552.7" width="3.8" height="24.4" fill="#9b9fa3"/><rect x="666.26" y="492.9" width="3.8" height="84.2" fill="#d6d1cd"/><rect x="666.26" y="543.8" width="3.8" height="33.3" fill="#9b9fa3"/><rect x="672.52" y="492.9" width="3.8" height="84.2" fill="#d6d1cd"/><rect x="672.52" y="540" width="3.8" height="37.1" fill="#9b9fa3"/><rect x="678.78" y="492.9" width="3.8" height="84.2" fill="#d6d1cd"/><rect x="678.78" y="550" width="3.8" height="27.1" fill="#9b9fa3"/><rect x="628.9" y="580" width="3.2" height="1.2" fill="#c8c8c8"/><rect x="635.16" y="580" width="3.2" height="1.2" fill="#c8c8c8"/><rect x="641.42" y="580" width="3.2" height="1.2" fill="#c8c8c8"/><rect x="647.68" y="580" width="3.2" height="1.2" fill="#c8c8c8"/><rect x="653.94" y="580" width="3.2" height="1.2" fill="#c8c8c8"/><rect x="660.2" y="580" width="3.2" height="1.2" fill="#c8c8c8"/><rect x="666.46" y="580" width="3.2" height="1.2" fill="#c8c8c8"/><rect x="672.72" y="580" width="3.2" height="1.2" fill="#c8c8c8"/><rect x="678.98" y="580" width="3.2" height="1.2" fill="#c8c8c8"/></svg>
<div class="t" style="left:419.5px;top:111.06px;font-size:24.5px;line-height:24.5px;color:#747578;font-weight:bold;transform:scaleX(0.987);transform-origin:0 50%;">Weekly Status</div>
<div class="t" style="left:420px;top:139.86px;font-size:18px;line-height:18px;color:#6f7073;">August 5</div>
<div class="r" style="left:419px;top:168px;width:380px;height:1px;background:#b0b0b0;"></div>
<div class="t" style="left:419.2px;top:179.77px;font-size:5.7px;line-height:5.7px;color:#4a4a4a;">Sed ut perspiciatis unde omnis iste natus error sit voluptatem</div><div class="t" style="left:419.2px;top:186.87px;font-size:5.7px;line-height:5.7px;color:#4a4a4a;">accusantium doloremque laudantium, totam rem aperiam, eaque ipsa</div><div class="t" style="left:419.2px;top:193.97px;font-size:5.7px;line-height:5.7px;color:#4a4a4a;">quae ab illo inventore veritatis et quasi architecto beatae vitae dicta</div>
<div class="t" style="left:419.2px;top:208.77px;font-size:5.7px;line-height:5.7px;color:#4a4a4a;">Nemo enim ipsam voluptatem quia voluptas sit aspernatur aut odit aut</div><div class="t" style="left:419.2px;top:215.94px;font-size:5.7px;line-height:5.7px;color:#4a4a4a;">fugit, sed quia consequuntur magni dolores eos qui ratione voluptatem</div><div class="t" style="left:419.2px;top:223.11px;font-size:5.7px;line-height:5.7px;color:#4a4a4a;">sequi nesciunt. Neque porro quisquam est, qui dolorem ipsum quia</div><div class="t" style="left:419.2px;top:230.28px;font-size:5.7px;line-height:5.7px;color:#4a4a4a;">dolor sit amet, consectetur, adipisci velit, sed quia non numquam eius</div><div class="t" style="left:419.2px;top:237.45px;font-size:5.7px;line-height:5.7px;color:#4a4a4a;">modi tempora incidunt ut labore et dolore magnam aliquam quaerat</div><div class="t" style="left:419.2px;top:244.62px;font-size:5.7px;line-height:5.7px;color:#4a4a4a;">voluptatem onsequuntur magni.</div>
<div class="t" style="left:611px;top:179.77px;font-size:5.7px;line-height:5.7px;color:#4a4a4a;">Ipsam voluptatem quia voluptas sit aspernatur</div><div class="t" style="left:611px;top:186.92px;font-size:5.7px;line-height:5.7px;color:#4a4a4a;">quia consequuntur magni dolores eos qui</div><div class="t" style="left:611px;top:194.07px;font-size:5.7px;line-height:5.7px;color:#4a4a4a;">nesciunt. Neque porro quisquam est, qui dolor</div><div class="t" style="left:611px;top:201.22px;font-size:5.7px;line-height:5.7px;color:#4a4a4a;">amet, consectetur, adipisci velit, sed quia</div><div class="t" style="left:611px;top:208.37px;font-size:5.7px;line-height:5.7px;color:#4a4a4a;">tempora incidunt ut labore et dolore magnam</div><div class="t" style="left:611px;top:215.52px;font-size:5.7px;line-height:5.7px;color:#4a4a4a;">voluptatem. Sed ut perspiciatis unde omnis</div><div class="t" style="left:611px;top:222.67px;font-size:5.7px;line-height:5.7px;color:#4a4a4a;">voluptatem accusantium doloremque laudantium</div><div class="t" style="left:611px;top:229.82px;font-size:5.7px;line-height:5.7px;color:#4a4a4a;">eaque ipsa quae ab illo inventore veritatis</div><div class="t" style="left:611px;top:236.97px;font-size:5.7px;line-height:5.7px;color:#4a4a4a;">vitae dicta</div>
<div class="t" style="left:419.2px;top:267.99px;font-size:11px;line-height:11px;color:#6d6e71;font-weight:bold;transform:scaleX(0.857);transform-origin:0 50%;">Occurrences</div>
<div class="t" style="left:452.2px;top:332.66px;font-size:16px;line-height:16px;color:#eef3f4;transform:translateX(-50%);">78</div>
<div class="t" style="left:528.2px;top:381.96px;font-size:16px;line-height:16px;color:#eef3f4;transform:translateX(-50%);">48</div>
<div class="t" style="left:604px;top:306.76px;font-size:16px;line-height:16px;color:#eef3f4;transform:translateX(-50%);">93</div>
<div class="t" style="left:437.32px;top:490.99px;font-size:5.8px;line-height:5.8px;color:#555;transform:translateX(-50%) scaleX(0.95);">9878731</div>
<div class="t" style="left:474.36px;top:490.99px;font-size:5.8px;line-height:5.8px;color:#555;transform:translateX(-50%) scaleX(0.95);">4138126</div>
<div class="t" style="left:511.4px;top:490.99px;font-size:5.8px;line-height:5.8px;color:#555;transform:translateX(-50%) scaleX(0.95);">5878731</div>
<div class="t" style="left:548.44px;top:490.99px;font-size:5.8px;line-height:5.8px;color:#555;transform:translateX(-50%) scaleX(0.95);">021738</div>
<div class="t" style="left:585.48px;top:490.99px;font-size:5.8px;line-height:5.8px;color:#555;transform:translateX(-50%) scaleX(0.95);">2138126</div>
<div class="t" style="left:437.32px;top:500.67px;font-size:5.8px;line-height:5.8px;color:#555;transform:translateX(-50%) scaleX(0.95);">2138126</div>
<div class="t" style="left:474.36px;top:500.67px;font-size:5.8px;line-height:5.8px;color:#555;transform:translateX(-50%) scaleX(0.95);">89792</div>
<div class="t" style="left:511.4px;top:500.67px;font-size:5.8px;line-height:5.8px;color:#555;transform:translateX(-50%) scaleX(0.95);">6138126</div>
<div class="t" style="left:548.44px;top:500.67px;font-size:5.8px;line-height:5.8px;color:#555;transform:translateX(-50%) scaleX(0.95);">7815520</div>
<div class="t" style="left:585.48px;top:500.67px;font-size:5.8px;line-height:5.8px;color:#555;transform:translateX(-50%) scaleX(0.95);">89792</div>
<div class="t" style="left:437.32px;top:510.35px;font-size:5.8px;line-height:5.8px;color:#555;transform:translateX(-50%) scaleX(0.95);">89792</div>
<div class="t" style="left:474.36px;top:510.35px;font-size:5.8px;line-height:5.8px;color:#555;transform:translateX(-50%) scaleX(0.95);">021738</div>
<div class="t" style="left:511.4px;top:510.35px;font-size:5.8px;line-height:5.8px;color:#555;transform:translateX(-50%) scaleX(0.95);">89792</div>
<div class="t" style="left:548.44px;top:510.35px;font-size:5.8px;line-height:5.8px;color:#555;transform:translateX(-50%) scaleX(0.95);">07262</div>
<div class="t" style="left:585.48px;top:510.35px;font-size:5.8px;line-height:5.8px;color:#555;transform:translateX(-50%) scaleX(0.95);">02173</div>
<div class="t" style="left:437.32px;top:520.03px;font-size:5.8px;line-height:5.8px;color:#555;transform:translateX(-50%) scaleX(0.95);">021733</div>
<div class="t" style="left:474.36px;top:520.03px;font-size:5.8px;line-height:5.8px;color:#555;transform:translateX(-50%) scaleX(0.95);">7815520</div>
<div class="t" style="left:511.4px;top:520.03px;font-size:5.8px;line-height:5.8px;color:#555;transform:translateX(-50%) scaleX(0.95);">021733</div>
<div class="t" style="left:548.44px;top:520.03px;font-size:5.8px;line-height:5.8px;color:#555;transform:translateX(-50%) scaleX(0.95);">6278735</div>
<div class="t" style="left:585.48px;top:520.03px;font-size:5.8px;line-height:5.8px;color:#555;transform:translateX(-50%) scaleX(0.95);">815520</div>
<div class="t" style="left:437.32px;top:529.71px;font-size:5.8px;line-height:5.8px;color:#555;transform:translateX(-50%) scaleX(0.95);">7815520</div>
<div class="t" style="left:474.36px;top:529.71px;font-size:5.8px;line-height:5.8px;color:#555;transform:translateX(-50%) scaleX(0.95);">07262</div>
<div class="t" style="left:511.4px;top:529.71px;font-size:5.8px;line-height:5.8px;color:#555;transform:translateX(-50%) scaleX(0.95);">4815520</div>
<div class="t" style="left:548.44px;top:529.71px;font-size:5.8px;line-height:5.8px;color:#555;transform:translateX(-50%) scaleX(0.95);">18963</div>
<div class="t" style="left:585.48px;top:529.71px;font-size:5.8px;line-height:5.8px;color:#555;transform:translateX(-50%) scaleX(0.95);">57263</div>
<div class="t" style="left:437.32px;top:539.39px;font-size:5.8px;line-height:5.8px;color:#555;transform:translateX(-50%) scaleX(0.95);">57263</div>
<div class="t" style="left:474.36px;top:539.39px;font-size:5.8px;line-height:5.8px;color:#555;transform:translateX(-50%) scaleX(0.95);">6278735</div>
<div class="t" style="left:511.4px;top:539.39px;font-size:5.8px;line-height:5.8px;color:#555;transform:translateX(-50%) scaleX(0.95);">57263</div>
<div class="t" style="left:548.44px;top:539.39px;font-size:5.8px;line-height:5.8px;color:#555;transform:translateX(-50%) scaleX(0.95);">9878731</div>
<div class="t" style="left:585.48px;top:539.39px;font-size:5.8px;line-height:5.8px;color:#555;transform:translateX(-50%) scaleX(0.95);">413126</div>
<div class="t" style="left:437.32px;top:549.07px;font-size:5.8px;line-height:5.8px;color:#555;transform:translateX(-50%) scaleX(0.95);">4138126</div>
<div class="t" style="left:474.36px;top:549.07px;font-size:5.8px;line-height:5.8px;color:#555;transform:translateX(-50%) scaleX(0.95);">18963</div>
<div class="t" style="left:511.4px;top:549.07px;font-size:5.8px;line-height:5.8px;color:#555;transform:translateX(-50%) scaleX(0.95);">6138126</div>
<div class="t" style="left:548.44px;top:549.07px;font-size:5.8px;line-height:5.8px;color:#555;transform:translateX(-50%) scaleX(0.95);">138126</div>
<div class="t" style="left:585.48px;top:549.07px;font-size:5.8px;line-height:5.8px;color:#555;transform:translateX(-50%) scaleX(0.95);">89792</div>
<div class="t" style="left:437.32px;top:558.75px;font-size:5.8px;line-height:5.8px;color:#555;transform:translateX(-50%) scaleX(0.95);">89792</div>
<div class="t" style="left:474.36px;top:558.75px;font-size:5.8px;line-height:5.8px;color:#555;transform:translateX(-50%) scaleX(0.95);">9878731</div>
<div class="t" style="left:511.4px;top:558.75px;font-size:5.8px;line-height:5.8px;color:#555;transform:translateX(-50%) scaleX(0.95);">89792</div>
<div class="t" style="left:548.44px;top:558.75px;font-size:5.8px;line-height:5.8px;color:#555;transform:translateX(-50%) scaleX(0.95);">045792</div>
<div class="t" style="left:585.48px;top:558.75px;font-size:5.8px;line-height:5.8px;color:#555;transform:translateX(-50%) scaleX(0.95);">021738</div>
<div class="t" style="left:437.32px;top:568.43px;font-size:5.8px;line-height:5.8px;color:#555;transform:translateX(-50%) scaleX(0.95);">021738</div>
<div class="t" style="left:474.36px;top:568.43px;font-size:5.8px;line-height:5.8px;color:#555;transform:translateX(-50%) scaleX(0.95);">2138126</div>
<div class="t" style="left:511.4px;top:568.43px;font-size:5.8px;line-height:5.8px;color:#555;transform:translateX(-50%) scaleX(0.95);">1217381</div>
<div class="t" style="left:548.44px;top:568.43px;font-size:5.8px;line-height:5.8px;color:#555;transform:translateX(-50%) scaleX(0.95);">021733</div>
<div class="t" style="left:585.48px;top:568.43px;font-size:5.8px;line-height:5.8px;color:#555;transform:translateX(-50%) scaleX(0.95);">781520</div>
<div class="t" style="left:437.32px;top:578.11px;font-size:5.8px;line-height:5.8px;color:#555;transform:translateX(-50%) scaleX(0.95);">7815520</div>
<div class="t" style="left:474.36px;top:578.11px;font-size:5.8px;line-height:5.8px;color:#555;transform:translateX(-50%) scaleX(0.95);">89792</div>
<div class="t" style="left:511.4px;top:578.11px;font-size:5.8px;line-height:5.8px;color:#555;transform:translateX(-50%) scaleX(0.95);">7815520</div>
<div class="t" style="left:548.44px;top:578.11px;font-size:5.8px;line-height:5.8px;color:#555;transform:translateX(-50%) scaleX(0.95);">2872731</div>
<div class="t" style="left:585.48px;top:578.11px;font-size:5.8px;line-height:5.8px;color:#555;transform:translateX(-50%) scaleX(0.95);">07262</div>
<div class="t" style="left:437.32px;top:587.79px;font-size:5.8px;line-height:5.8px;color:#555;transform:translateX(-50%) scaleX(0.95);">07262</div>
<div class="t" style="left:474.36px;top:587.79px;font-size:5.8px;line-height:5.8px;color:#555;transform:translateX(-50%) scaleX(0.95);">021733</div>
<div class="t" style="left:511.4px;top:587.79px;font-size:5.8px;line-height:5.8px;color:#555;transform:translateX(-50%) scaleX(0.95);">27264</div>
<div class="t" style="left:548.44px;top:587.79px;font-size:5.8px;line-height:5.8px;color:#555;transform:translateX(-50%) scaleX(0.95);">57263</div>
<div class="t" style="left:585.48px;top:587.79px;font-size:5.8px;line-height:5.8px;color:#555;transform:translateX(-50%) scaleX(0.95);">627735</div>
<div class="t" style="left:437.32px;top:597.47px;font-size:5.8px;line-height:5.8px;color:#555;transform:translateX(-50%) scaleX(0.95);">6278735</div>
<div class="t" style="left:474.36px;top:597.47px;font-size:5.8px;line-height:5.8px;color:#555;transform:translateX(-50%) scaleX(0.95);">7815520</div>
<div class="t" style="left:511.4px;top:597.47px;font-size:5.8px;line-height:5.8px;color:#555;transform:translateX(-50%) scaleX(0.95);">5278735</div>
<div class="t" style="left:548.44px;top:597.47px;font-size:5.8px;line-height:5.8px;color:#555;transform:translateX(-50%) scaleX(0.95);">6138126</div>
<div class="t" style="left:585.48px;top:597.47px;font-size:5.8px;line-height:5.8px;color:#555;transform:translateX(-50%) scaleX(0.95);">18963</div>
<div class="t" style="left:437.32px;top:607.15px;font-size:5.8px;line-height:5.8px;color:#555;transform:translateX(-50%) scaleX(0.95);">18963</div>
<div class="t" style="left:474.36px;top:607.15px;font-size:5.8px;line-height:5.8px;color:#555;transform:translateX(-50%) scaleX(0.95);">57263</div>
<div class="t" style="left:511.4px;top:607.15px;font-size:5.8px;line-height:5.8px;color:#555;transform:translateX(-50%) scaleX(0.95);">28963</div>
<div class="t" style="left:548.44px;top:607.15px;font-size:5.8px;line-height:5.8px;color:#555;transform:translateX(-50%) scaleX(0.95);">98964</div>
<div class="t" style="left:585.48px;top:607.15px;font-size:5.8px;line-height:5.8px;color:#555;transform:translateX(-50%) scaleX(0.95);">6138126</div>
<div class="t" style="left:624.8px;top:477.55px;font-size:8.8px;line-height:8.8px;color:#5f6063;font-weight:bold;transform:scaleX(0.9);transform-origin:0 50%;">Systems Running</div>
<div class="t" style="left:624.8px;top:593.34px;font-size:5.5px;line-height:5.5px;color:#444;font-weight:bold;transform:scaleX(0.9);transform-origin:0 50%;">Sed ut perspiciatis unde omnis</div><div class="t" style="left:624.8px;top:601.24px;font-size:5.5px;line-height:5.5px;color:#444;font-weight:bold;transform:scaleX(0.9);transform-origin:0 50%;">accusantium doloremque</div><div class="t" style="left:624.8px;top:609.14px;font-size:5.5px;line-height:5.5px;color:#444;font-weight:bold;transform:scaleX(0.9);transform-origin:0 50%;">eaque ipsa quae ab illo</div>
</div></div>
<div class="pg p4" style="left:962px;top:69px;width:461px;height:597px;z-index:2;">
<div class="in" style="left:-962px;top:-69px;">
<svg width="1766" height="754" viewBox="0 0 1766 754"><rect x="1007" y="113.5" width="372" height="63.1" fill="#dadada"/><rect x="1007" y="294.0" width="130" height="16.9" fill="#e2dfdc"/><rect x="1158.0" y="294.0" width="119.4" height="16.9" fill="#e3e0dd"/><rect x="1158.0" y="294.0" width="14.2" height="16.9" fill="#6c7076"/><rect x="1007" y="314.4" width="130" height="16.9" fill="#e2dfdc"/><rect x="1158.0" y="314.4" width="119.4" height="16.9" fill="#e3e0dd"/><rect x="1158.0" y="314.4" width="104.02" height="16.9" fill="#72b6d0"/><rect x="1007" y="334.8" width="130" height="16.9" fill="#e2dfdc"/><rect x="1158.0" y="334.8" width="119.4" height="16.9" fill="#e3e0dd"/><rect x="1158.0" y="334.8" width="108.75" height="16.9" fill="#a5c34a"/><rect x="1007" y="355.2" width="130" height="16.9" fill="#e2dfdc"/><rect x="1158.0" y="355.2" width="119.4" height="16.9" fill="#e3e0dd"/><rect x="1158.0" y="355.2" width="106.39" height="16.9" fill="#d9d5d2"/><rect x="1007" y="375.7" width="130" height="16.9" fill="#e2dfdc"/><rect x="1158.0" y="375.7" width="119.4" height="16.9" fill="#e3e0dd"/><rect x="1158.0" y="375.7" width="36.64" height="16.9" fill="#ea9d31"/><rect x="1007" y="396.1" width="130" height="16.9" fill="#e2dfdc"/><rect x="1158.0" y="396.1" width="119.4" height="16.9" fill="#e3e0dd"/><rect x="1158.0" y="396.1" width="111.11" height="16.9" fill="#d8553b"/><path d="M1333.5 372.2 L1311.65 340.99 A38.1 38.1 0 0 1 1347.03 336.58 Z" fill="#d6573d"/><path d="M1333.5 372.2 L1347.03 336.58 A38.1 38.1 0 1 1 1303.64 395.87 Z" fill="#a7c34c"/><path d="M1333.5 372.2 L1303.64 395.87 A38.1 38.1 0 0 1 1296.45 363.31 Z" fill="#d6d1ce"/><path d="M1333.5 372.2 L1296.45 363.31 A38.1 38.1 0 0 1 1311.65 340.99 Z" fill="#74b9d0"/><path d="M1204.8 519 L1162.63 498.7 A46.8 46.8 0 0 1 1241.48 489.93 Z" fill="#d6573d"/><path d="M1204.8 519 L1241.48 489.93 A46.8 46.8 0 0 1 1250.96 511.28 Z" fill="#6b6f75"/><path d="M1204.8 519 L1250.96 511.28 A46.8 46.8 0 0 1 1193.72 564.47 Z" fill="#d6d1ce"/><path d="M1204.8 519 L1193.72 564.47 A46.8 46.8 0 0 1 1162.63 498.7 Z" fill="#74b9d0"/><rect x="1007" y="438.5" width="372" height="1" fill="#a8a8a8"/></svg>
<div class="t" style="right:calc(100% - 1178.4px);top:126.66px;font-size:18px;line-height:18px;color:#858688;font-weight:bold;transform:scaleX(0.93);transform-origin:100% 50%;">Report Generated</div>
<div class="t" style="right:calc(100% - 1164.4px);top:148.54px;font-size:17.2px;line-height:17.2px;color:#858688;font-weight:bold;transform:scaleX(0.93);transform-origin:100% 50%;">Jan 24</div>
<div class="t" style="left:1301.2px;top:154.12px;font-size:11.2px;line-height:11.2px;color:#6d6e71;transform:scaleX(0.725);transform-origin:0 50%;">Jan 2015 Weekly</div>
<div class="t" style="right:calc(100% - 1225.7px);top:215.36px;font-size:5.6px;line-height:5.6px;color:#555;font-weight:bold;transform:scaleX(0.86);transform-origin:100% 50%;">Sed ut perspiciatis unde omnis iste natus error sit voluptatem accusantium doloremque</div>
<div class="t" style="right:calc(100% - 1214px);top:222.46px;font-size:5.6px;line-height:5.6px;color:#555;font-weight:bold;transform:scaleX(0.86);transform-origin:100% 50%;">laudantium, totam rem aperiam, eaque ipsa quae ab illo inventore veritatis et quasi</div>
<div class="t" style="right:calc(100% - 1221.2px);top:244.86px;font-size:5.6px;line-height:5.6px;color:#555;font-weight:bold;transform:scaleX(0.86);transform-origin:100% 50%;">Nemo enim ipsam voluptatem quia voluptas sit aspernatur aut odit aut fugit, sed quia</div>
<div class="t" style="right:calc(100% - 1187.7px);top:252.06px;font-size:5.6px;line-height:5.6px;color:#555;font-weight:bold;transform:scaleX(0.86);transform-origin:100% 50%;">consequuntur magni dolores eos qui ratione voluptatem sequi nesciunt.</div>
<div class="t" style="right:calc(100% - 1154.6px);top:300.41px;font-size:7.2px;line-height:7.2px;color:#a3a3a3;">12</div>
<div class="t" style="right:calc(100% - 1154.6px);top:320.81px;font-size:7.2px;line-height:7.2px;color:#a3a3a3;">88</div>
<div class="t" style="right:calc(100% - 1154.6px);top:341.21px;font-size:7.2px;line-height:7.2px;color:#a3a3a3;">92</div>
<div class="t" style="right:calc(100% - 1154.6px);top:361.61px;font-size:7.2px;line-height:7.2px;color:#a3a3a3;">90</div>
<div class="t" style="right:calc(100% - 1154.6px);top:382.11px;font-size:7.2px;line-height:7.2px;color:#a3a3a3;">31</div>
<div class="t" style="right:calc(100% - 1154.6px);top:402.51px;font-size:7.2px;line-height:7.2px;color:#a3a3a3;">94</div>
<div class="t" style="left:1287.6px;top:291.55px;font-size:6.2px;line-height:6.2px;color:#7a7a7a;transform:scaleX(0.975);transform-origin:0 50%;">Cras vel purus eros. Donec risus</div><div class="t" style="left:1287.6px;top:299.15px;font-size:6.2px;line-height:6.2px;color:#7a7a7a;transform:scaleX(0.975);transform-origin:0 50%;">ligula, tincidunt a volutpat quis,</div><div class="t" style="left:1287.6px;top:306.75px;font-size:6.2px;line-height:6.2px;color:#7a7a7a;transform:scaleX(0.975);transform-origin:0 50%;">tempus id nibh.</div>
<div class="t" style="left:1287.6px;top:459.55px;font-size:6.2px;line-height:6.2px;color:#7a7a7a;transform:scaleX(0.975);transform-origin:0 50%;">Morbi sollicitudin, magna in</div><div class="t" style="left:1287.6px;top:466.8px;font-size:6.2px;line-height:6.2px;color:#7a7a7a;transform:scaleX(0.975);transform-origin:0 50%;">vulputate tempus, dolor orci</div><div class="t" style="left:1287.6px;top:474.05px;font-size:6.2px;line-height:6.2px;color:#7a7a7a;transform:scaleX(0.975);transform-origin:0 50%;">ullamcorper velit, ac cursus</div><div class="t" style="left:1287.6px;top:481.3px;font-size:6.2px;line-height:6.2px;color:#7a7a7a;transform:scaleX(0.975);transform-origin:0 50%;">ipsum libero eu ipsum. Praesent</div><div class="t" style="left:1287.6px;top:488.55px;font-size:6.2px;line-height:6.2px;color:#7a7a7a;transform:scaleX(0.975);transform-origin:0 50%;">blandit, tortor ac semper</div><div class="t" style="left:1287.6px;top:495.8px;font-size:6.2px;line-height:6.2px;color:#7a7a7a;transform:scaleX(0.975);transform-origin:0 50%;">bibendum, enim ligula faucibus</div><div class="t" style="left:1287.6px;top:503.05px;font-size:6.2px;line-height:6.2px;color:#7a7a7a;transform:scaleX(0.975);transform-origin:0 50%;">ipsum, praesent tristique a lacus</div><div class="t" style="left:1287.6px;top:510.3px;font-size:6.2px;line-height:6.2px;color:#7a7a7a;transform:scaleX(0.975);transform-origin:0 50%;">a gravida.</div>
<div class="t" style="left:1287.6px;top:525.35px;font-size:6.2px;line-height:6.2px;color:#7a7a7a;transform:scaleX(0.975);transform-origin:0 50%;">Fusce blandit malesuada eros, ac</div><div class="t" style="left:1287.6px;top:532.6px;font-size:6.2px;line-height:6.2px;color:#7a7a7a;transform:scaleX(0.975);transform-origin:0 50%;">ultricies augue volutpat sit amet.</div><div class="t" style="left:1287.6px;top:539.85px;font-size:6.2px;line-height:6.2px;color:#7a7a7a;transform:scaleX(0.975);transform-origin:0 50%;">Nullam vitae auctor lorem, ac</div><div class="t" style="left:1287.6px;top:547.1px;font-size:6.2px;line-height:6.2px;color:#7a7a7a;transform:scaleX(0.975);transform-origin:0 50%;">molestie est. Morbi vel leo id velit</div><div class="t" style="left:1287.6px;top:554.35px;font-size:6.2px;line-height:6.2px;color:#7a7a7a;transform:scaleX(0.975);transform-origin:0 50%;">hendrerit porttitor in vitae arcu.</div><div class="t" style="left:1287.6px;top:561.6px;font-size:6.2px;line-height:6.2px;color:#7a7a7a;transform:scaleX(0.975);transform-origin:0 50%;">Nunc bibendum blandit enim, in</div><div class="t" style="left:1287.6px;top:568.85px;font-size:6.2px;line-height:6.2px;color:#7a7a7a;transform:scaleX(0.975);transform-origin:0 50%;">vullamcorper felis.</div>
</div></div>
<div class="pg p3" style="left:668px;top:25px;width:462px;height:597px;z-index:3;">
<div class="in" style="left:-668px;top:-25px;">
<svg width="1766" height="754" viewBox="0 0 1766 754"><line x1="743.31" y1="123.0" x2="743.31" y2="281.9" stroke="#d2d2d2" stroke-width="1.1"/><line x1="759.22" y1="123.0" x2="759.22" y2="281.9" stroke="#d2d2d2" stroke-width="1.1"/><line x1="775.13" y1="123.0" x2="775.13" y2="281.9" stroke="#d2d2d2" stroke-width="1.1"/><line x1="791.04" y1="123.0" x2="791.04" y2="281.9" stroke="#d2d2d2" stroke-width="1.1"/><line x1="806.95" y1="123.0" x2="806.95" y2="281.9" stroke="#d2d2d2" stroke-width="1.1"/><line x1="822.85" y1="123.0" x2="822.85" y2="281.9" stroke="#d2d2d2" stroke-width="1.1"/><line x1="838.76" y1="123.0" x2="838.76" y2="281.9" stroke="#d2d2d2" stroke-width="1.1"/><line x1="854.67" y1="123.0" x2="854.67" y2="281.9" stroke="#d2d2d2" stroke-width="1.1"/><line x1="870.58" y1="123.0" x2="870.58" y2="281.9" stroke="#d2d2d2" stroke-width="1.1"/><line x1="886.49" y1="123.0" x2="886.49" y2="281.9" stroke="#d2d2d2" stroke-width="1.1"/><line x1="902.4" y1="123.0" x2="902.4" y2="281.9" stroke="#d2d2d2" stroke-width="1.1"/><line x1="918.31" y1="123.0" x2="918.31" y2="281.9" stroke="#d2d2d2" stroke-width="1.1"/><line x1="934.22" y1="123.0" x2="934.22" y2="281.9" stroke="#d2d2d2" stroke-width="1.1"/><line x1="950.13" y1="123.0" x2="950.13" y2="281.9" stroke="#d2d2d2" stroke-width="1.1"/><line x1="966.04" y1="123.0" x2="966.04" y2="281.9" stroke="#d2d2d2" stroke-width="1.1"/><line x1="981.95" y1="123.0" x2="981.95" y2="281.9" stroke="#d2d2d2" stroke-width="1.1"/><line x1="997.85" y1="123.0" x2="997.85" y2="281.9" stroke="#d2d2d2" stroke-width="1.1"/><line x1="1013.76" y1="123.0" x2="1013.76" y2="281.9" stroke="#d2d2d2" stroke-width="1.1"/><line x1="1029.67" y1="123.0" x2="1029.67" y2="281.9" stroke="#d2d2d2" stroke-width="1.1"/><line x1="1045.58" y1="123.0" x2="1045.58" y2="281.9" stroke="#d2d2d2" stroke-width="1.1"/><line x1="1061.49" y1="123.0" x2="1061.49" y2="281.9" stroke="#d2d2d2" stroke-width="1.1"/><line x1="1077.4" y1="123.0" x2="1077.4" y2="281.9" stroke="#d2d2d2" stroke-width="1.1"/><line x1="727.4" y1="123" x2="1077.4" y2="123" stroke="#d2d2d2" stroke-width="1.1"/><line x1="727.4" y1="138.89" x2="1077.4" y2="138.89" stroke="#d2d2d2" stroke-width="1.1"/><line x1="727.4" y1="154.78" x2="1077.4" y2="154.78" stroke="#d2d2d2" stroke-width="1.1"/><line x1="727.4" y1="170.67" x2="1077.4" y2="170.67" stroke="#d2d2d2" stroke-width="1.1"/><line x1="727.4" y1="186.56" x2="1077.4" y2="186.56" stroke="#d2d2d2" stroke-width="1.1"/><line x1="727.4" y1="202.45" x2="1077.4" y2="202.45" stroke="#d2d2d2" stroke-width="1.1"/><line x1="727.4" y1="218.34" x2="1077.4" y2="218.34" stroke="#d2d2d2" stroke-width="1.1"/><line x1="727.4" y1="234.23" x2="1077.4" y2="234.23" stroke="#d2d2d2" stroke-width="1.1"/><line x1="727.4" y1="250.12" x2="1077.4" y2="250.12" stroke="#d2d2d2" stroke-width="1.1"/><line x1="727.4" y1="266.01" x2="1077.4" y2="266.01" stroke="#d2d2d2" stroke-width="1.1"/><text x="723.6" y="284.3" font-size="6.8" fill="#a8a8a8" text-anchor="end" font-family="Liberation Sans">0</text><text x="723.6" y="268.41" font-size="6.8" fill="#a8a8a8" text-anchor="end" font-family="Liberation Sans">10</text><text x="723.6" y="252.52" font-size="6.8" fill="#a8a8a8" text-anchor="end" font-family="Liberation Sans">20</text><text x="723.6" y="236.63" font-size="6.8" fill="#a8a8a8" text-anchor="end" font-family="Liberation Sans">30</text><text x="723.6" y="220.74" font-size="6.8" fill="#a8a8a8" text-anchor="end" font-family="Liberation Sans">40</text><text x="723.6" y="204.85" font-size="6.8" fill="#a8a8a8" text-anchor="end" font-family="Liberation Sans">50</text><text x="723.6" y="188.96" font-size="6.8" fill="#a8a8a8" text-anchor="end" font-family="Liberation Sans">60</text><text x="723.6" y="173.07" font-size="6.8" fill="#a8a8a8" text-anchor="end" font-family="Liberation Sans">70</text><text x="723.6" y="157.18" font-size="6.8" fill="#a8a8a8" text-anchor="end" font-family="Liberation Sans">80</text><text x="723.6" y="141.29" font-size="6.8" fill="#a8a8a8" text-anchor="end" font-family="Liberation Sans">90</text><text x="723.6" y="125.4" font-size="6.8" fill="#a8a8a8" text-anchor="end" font-family="Liberation Sans">100</text><text x="733.2" y="291.9" font-size="6.8" fill="#a8a8a8" text-anchor="middle" font-family="Liberation Sans">0</text><text x="747.3" y="291.9" font-size="6.8" fill="#a8a8a8" text-anchor="middle" font-family="Liberation Sans">10</text><text x="763.11" y="291.9" font-size="6.8" fill="#a8a8a8" text-anchor="middle" font-family="Liberation Sans">20</text><text x="778.92" y="291.9" font-size="6.8" fill="#a8a8a8" text-anchor="middle" font-family="Liberation Sans">30</text><text x="794.73" y="291.9" font-size="6.8" fill="#a8a8a8" text-anchor="middle" font-family="Liberation Sans">40</text><text x="810.54" y="291.9" font-size="6.8" fill="#a8a8a8" text-anchor="middle" font-family="Liberation Sans">50</text><text x="826.35" y="291.9" font-size="6.8" fill="#a8a8a8" text-anchor="middle" font-family="Liberation Sans">60</text><text x="842.16" y="291.9" font-size="6.8" fill="#a8a8a8" text-anchor="middle" font-family="Liberation Sans">70</text><text x="857.97" y="291.9" font-size="6.8" fill="#a8a8a8" text-anchor="middle" font-family="Liberation Sans">80</text><text x="873.78" y="291.9" font-size="6.8" fill="#a8a8a8" text-anchor="middle" font-family="Liberation Sans">90</text><text x="889.59" y="291.9" font-size="6.8" fill="#a8a8a8" text-anchor="middle" font-family="Liberation Sans">100</text><text x="905.4" y="291.9" font-size="6.8" fill="#a8a8a8" text-anchor="middle" font-family="Liberation Sans">110</text><text x="921.21" y="291.9" font-size="6.8" fill="#a8a8a8" text-anchor="middle" font-family="Liberation Sans">120</text><text x="937.02" y="291.9" font-size="6.8" fill="#a8a8a8" text-anchor="middle" font-family="Liberation Sans">130</text><text x="952.83" y="291.9" font-size="6.8" fill="#a8a8a8" text-anchor="middle" font-family="Liberation Sans">140</text><text x="968.64" y="291.9" font-size="6.8" fill="#a8a8a8" text-anchor="middle" font-family="Liberation Sans">150</text><text x="984.45" y="291.9" font-size="6.8" fill="#a8a8a8" text-anchor="middle" font-family="Liberation Sans">160</text><text x="1000.26" y="291.9" font-size="6.8" fill="#a8a8a8" text-anchor="middle" font-family="Liberation Sans">170</text><text x="1016.07" y="291.9" font-size="6.8" fill="#a8a8a8" text-anchor="middle" font-family="Liberation Sans">180</text><text x="1031.88" y="291.9" font-size="6.8" fill="#a8a8a8" text-anchor="middle" font-family="Liberation Sans">190</text><text x="1047.69" y="291.9" font-size="6.8" fill="#a8a8a8" text-anchor="middle" font-family="Liberation Sans">200</text><text x="1063.5" y="291.9" font-size="6.8" fill="#a8a8a8" text-anchor="middle" font-family="Liberation Sans">210</text><text x="1079.31" y="291.9" font-size="6.8" fill="#a8a8a8" text-anchor="middle" font-family="Liberation Sans">220</text><path d="M728.2 221.6 L728.7 221.25 L729.2 220.93 L729.7 220.65 L730.2 220.4 L730.7 220.18 L731.2 219.99 L731.7 219.83 L732.2 219.69 L732.7 219.59 L733.2 219.52 L733.7 219.47 L734.19 219.44 L734.69 219.45 L735.19 219.47 L735.69 219.52 L736.19 219.6 L736.69 219.69 L737.19 219.81 L737.69 219.94 L738.19 220.1 L738.69 220.28 L739.19 220.47 L739.69 220.69 L740.19 220.92 L740.69 221.16 L741.19 221.43 L741.69 221.7 L742.19 221.99 L742.69 222.3 L743.19 222.61 L743.69 222.94 L744.19 223.28 L744.69 223.63 L745.19 223.99 L745.68 224.36 L746.18 224.74 L746.68 225.12 L747.18 225.51 L747.68 225.91 L748.18 226.31 L748.68 226.72 L749.18 227.13 L749.68 227.54 L750.18 227.96 L750.68 228.38 L751.18 228.8 L751.68 229.23 L752.18 229.65 L752.68 230.08 L753.18 230.5 L753.68 230.93 L754.18 231.35 L754.68 231.77 L755.18 232.19 L755.68 232.61 L756.18 233.02 L756.68 233.43 L757.18 233.83 L757.67 234.23 L758.17 234.62 L758.67 235.01 L759.17 235.39 L759.67 235.76 L760.17 236.13 L760.67 236.48 L761.17 236.83 L761.67 237.17 L762.17 237.49 L762.67 237.81 L763.17 238.11 L763.67 238.41 L764.17 238.69 L764.67 238.95 L765.17 239.21 L765.67 239.45 L766.17 239.67 L766.67 239.88 L767.17 240.07 L767.67 240.25 L768.17 240.41 L768.67 240.56 L769.16 240.68 L769.66 240.8 L770.16 240.89 L770.66 240.98 L771.16 241.04 L771.66 241.1 L772.16 241.14 L772.66 241.16 L773.16 241.18 L773.66 241.18 L774.16 241.17 L774.66 241.15 L775.16 241.12 L775.66 241.08 L776.16 241.03 L776.66 240.97 L777.16 240.9 L777.66 240.82 L778.16 240.73 L778.66 240.64 L779.16 240.54 L779.66 240.43 L780.16 240.32 L780.65 240.2 L781.15 240.07 L781.65 239.94 L782.15 239.81 L782.65 239.67 L783.15 239.53 L783.65 239.38 L784.15 239.23 L784.65 239.08 L785.15 238.93 L785.65 238.77 L786.15 238.61 L786.65 238.44 L787.15 238.26 L787.65 238.08 L788.15 237.9 L788.65 237.7 L789.15 237.5 L789.65 237.29 L790.15 237.07 L790.65 236.84 L791.15 236.6 L791.65 236.35 L792.15 236.09 L792.64 235.82 L793.14 235.54 L793.64 235.25 L794.14 234.94 L794.64 234.62 L795.14 234.29 L795.64 233.95 L796.14 233.59 L796.64 233.22 L797.14 232.83 L797.64 232.43 L798.14 232.02 L798.64 231.59 L799.14 231.14 L799.64 230.68 L800.14 230.2 L800.64 229.7 L801.14 229.2 L801.64 228.67 L802.14 228.14 L802.64 227.6 L803.14 227.05 L803.64 226.48 L804.13 225.92 L804.63 225.34 L805.13 224.76 L805.63 224.18 L806.13 223.59 L806.63 223 L807.13 222.41 L807.63 221.82 L808.13 221.24 L808.63 220.65 L809.13 220.07 L809.63 219.49 L810.13 218.91 L810.63 218.33 L811.13 217.76 L811.63 217.19 L812.13 216.63 L812.63 216.07 L813.13 215.51 L813.63 214.96 L814.13 214.41 L814.63 213.87 L815.13 213.33 L815.62 212.8 L816.12 212.28 L816.62 211.76 L817.12 211.25 L817.62 210.75 L818.12 210.25 L818.62 209.77 L819.12 209.29 L819.62 208.81 L820.12 208.35 L820.62 207.9 L821.12 207.45 L821.62 207.02 L822.12 206.59 L822.62 206.18 L823.12 205.77 L823.62 205.38 L824.12 205 L824.62 204.62 L825.12 204.27 L825.62 203.92 L826.12 203.58 L826.62 203.26 L827.12 202.95 L827.61 202.65 L828.11 202.37 L828.61 202.1 L829.11 201.84 L829.61 201.6 L830.11 201.37 L830.61 201.16 L831.11 200.97 L831.61 200.78 L832.11 200.62 L832.61 200.47 L833.11 200.34 L833.61 200.22 L834.11 200.12 L834.61 200.04 L835.11 199.98 L835.61 199.93 L836.11 199.91 L836.61 199.9 L837.11 199.91 L837.61 199.94 L838.11 199.98 L838.61 200.05 L839.1 200.14 L839.6 200.25 L840.1 200.38 L840.6 200.53 L841.1 200.7 L841.6 200.9 L842.1 201.11 L842.6 201.35 L843.1 201.61 L843.6 201.89 L844.1 202.2 L844.6 202.53 L845.1 202.88 L845.6 203.25 L846.1 203.65 L846.6 204.06 L847.1 204.5 L847.6 204.95 L848.1 205.42 L848.6 205.91 L849.1 206.41 L849.6 206.93 L850.1 207.47 L850.59 208.02 L851.09 208.58 L851.59 209.15 L852.09 209.74 L852.59 210.33 L853.09 210.94 L853.59 211.55 L854.09 212.18 L854.59 212.81 L855.09 213.44 L855.59 214.09 L856.09 214.74 L856.59 215.39 L857.09 216.04 L857.59 216.7 L858.09 217.36 L858.59 218.02 L859.09 218.68 L859.59 219.35 L860.09 220.01 L860.59 220.66 L861.09 221.32 L861.59 221.97 L862.08 222.61 L862.58 223.26 L863.08 223.89 L863.58 224.52 L864.08 225.14 L864.58 225.75 L865.08 226.35 L865.58 226.94 L866.08 227.52 L866.58 228.09 L867.08 228.65 L867.58 229.19 L868.08 229.72 L868.58 230.23 L869.08 230.73 L869.58 231.22 L870.08 231.69 L870.58 232.15 L871.08 232.6 L871.58 233.03 L872.08 233.45 L872.58 233.86 L873.08 234.25 L873.58 234.64 L874.07 235.01 L874.57 235.38 L875.07 235.73 L875.57 236.08 L876.07 236.41 L876.57 236.74 L877.07 237.06 L877.57 237.37 L878.07 237.67 L878.57 237.96 L879.07 238.25 L879.57 238.53 L880.07 238.8 L880.57 239.07 L881.07 239.33 L881.57 239.59 L882.07 239.84 L882.57 240.09 L883.07 240.33 L883.57 240.57 L884.07 240.8 L884.57 241.03 L885.07 241.26 L885.56 241.48 L886.06 241.69 L886.56 241.9 L887.06 242.09 L887.56 242.27 L888.06 242.44 L888.56 242.59 L889.06 242.73 L889.56 242.85 L890.06 242.95 L890.56 243.03 L891.06 243.09 L891.56 243.13 L892.06 243.15 L892.56 243.14 L893.06 243.1 L893.56 243.03 L894.06 242.94 L894.56 242.82 L895.06 242.66 L895.56 242.48 L896.06 242.26 L896.56 242.01 L897.05 241.72 L897.55 241.4 L898.05 241.04 L898.55 240.65 L899.05 240.21 L899.55 239.74 L900.05 239.22 L900.55 238.67 L901.05 238.08 L901.55 237.45 L902.05 236.79 L902.55 236.1 L903.05 235.39 L903.55 234.66 L904.05 233.9 L904.55 233.13 L905.05 232.35 L905.55 231.56 L906.05 230.76 L906.55 229.95 L907.05 229.14 L907.55 228.34 L908.05 227.53 L908.55 226.73 L909.04 225.93 L909.54 225.12 L910.04 224.32 L910.54 223.51 L911.04 222.7 L911.54 221.88 L912.04 221.07 L912.54 220.24 L913.04 219.42 L913.54 218.58 L914.04 217.74 L914.54 216.9 L915.04 216.05 L915.54 215.18 L916.04 214.31 L916.54 213.44 L917.04 212.55 L917.54 211.65 L918.04 210.75 L918.54 209.83 L919.04 208.91 L919.54 207.99 L920.04 207.05 L920.53 206.11 L921.03 205.17 L921.53 204.22 L922.03 203.26 L922.53 202.3 L923.03 201.33 L923.53 200.36 L924.03 199.39 L924.53 198.42 L925.03 197.44 L925.53 196.46 L926.03 195.48 L926.53 194.49 L927.03 193.51 L927.53 192.53 L928.03 191.55 L928.53 190.58 L929.03 189.61 L929.53 188.64 L930.03 187.68 L930.53 186.73 L931.03 185.78 L931.53 184.84 L932.02 183.92 L932.52 183 L933.02 182.09 L933.52 181.2 L934.02 180.32 L934.52 179.45 L935.02 178.6 L935.52 177.77 L936.02 176.94 L936.52 176.13 L937.02 175.34 L937.52 174.56 L938.02 173.79 L938.52 173.04 L939.02 172.3 L939.52 171.57 L940.02 170.85 L940.52 170.15 L941.02 169.47 L941.52 168.79 L942.02 168.13 L942.52 167.49 L943.02 166.85 L943.52 166.23 L944.01 165.62 L944.51 165.02 L945.01 164.44 L945.51 163.86 L946.01 163.3 L946.51 162.76 L947.01 162.22 L947.51 161.7 L948.01 161.18 L948.51 160.68 L949.01 160.2 L949.51 159.72 L950.01 159.25 L950.51 158.8 L951.01 158.36 L951.51 157.93 L952.01 157.51 L952.51 157.1 L953.01 156.7 L953.51 156.31 L954.01 155.94 L954.51 155.57 L955.01 155.22 L955.5 154.87 L956 154.54 L956.5 154.21 L957 153.9 L957.5 153.6 L958 153.3 L958.5 153.02 L959 152.75 L959.5 152.48 L960 152.23 L960.5 151.98 L961 151.75 L961.5 151.52 L962 151.31 L962.5 151.1 L963 150.9 L963.5 150.71 L964 150.53 L964.5 150.36 L965 150.2 L965.5 150.04 L966 149.9 L966.5 149.76 L966.99 149.63 L967.49 149.51 L967.99 149.4 L968.49 149.3 L968.99 149.2 L969.49 149.11 L969.99 149.03 L970.49 148.96 L970.99 148.9 L971.49 148.84 L971.99 148.79 L972.49 148.75 L972.99 148.71 L973.49 148.68 L973.99 148.66 L974.49 148.65 L974.99 148.64 L975.49 148.64 L975.99 148.65 L976.49 148.66 L976.99 148.68 L977.49 148.71 L977.99 148.74 L978.48 148.78 L978.98 148.82 L979.48 148.87 L979.98 148.93 L980.48 148.99 L980.98 149.06 L981.48 149.14 L981.98 149.22 L982.48 149.3 L982.98 149.39 L983.48 149.49 L983.98 149.59 L984.48 149.69 L984.98 149.81 L985.48 149.92 L985.98 150.04 L986.48 150.17 L986.98 150.3 L987.48 150.43 L987.98 150.57 L988.48 150.72 L988.98 150.87 L989.48 151.02 L989.98 151.18 L990.47 151.34 L990.97 151.51 L991.47 151.69 L991.97 151.87 L992.47 152.06 L992.97 152.26 L993.47 152.46 L993.97 152.67 L994.47 152.9 L994.97 153.13 L995.47 153.36 L995.97 153.61 L996.47 153.87 L996.97 154.14 L997.47 154.42 L997.97 154.7 L998.47 155 L998.97 155.32 L999.47 155.64 L999.97 155.98 L1000.47 156.32 L1000.97 156.69 L1001.47 157.06 L1001.96 157.45 L1002.46 157.85 L1002.96 158.27 L1003.46 158.7 L1003.96 159.15 L1004.46 159.61 L1004.96 160.08 L1005.46 160.58 L1005.96 161.09 L1006.46 161.61 L1006.96 162.16 L1007.46 162.72 L1007.96 163.3 L1008.46 163.9 L1008.96 164.51 L1009.46 165.15 L1009.96 165.8 L1010.46 166.47 L1010.96 167.17 L1011.46 167.88 L1011.96 168.62 L1012.46 169.37 L1012.96 170.15 L1013.45 170.95 L1013.95 171.77 L1014.45 172.61 L1014.95 173.48 L1015.45 174.37 L1015.95 175.28 L1016.45 176.22 L1016.95 177.17 L1017.45 178.16 L1017.95 179.16 L1018.45 180.18 L1018.95 181.23 L1019.45 182.3 L1019.95 183.38 L1020.45 184.49 L1020.95 185.62 L1021.45 186.77 L1021.95 187.94 L1022.45 189.12 L1022.95 190.33 L1023.45 191.55 L1023.95 192.78 L1024.45 194.01 L1024.95 195.25 L1025.44 196.49 L1025.94 197.73 L1026.44 198.96 L1026.94 200.19 L1027.44 201.4 L1027.94 202.6 L1028.44 203.78 L1028.94 204.93 L1029.44 206.07 L1029.94 207.17 L1030.44 208.26 L1030.94 209.32 L1031.44 210.36 L1031.94 211.37 L1032.44 212.37 L1032.94 213.34 L1033.44 214.29 L1033.94 215.21 L1034.44 216.12 L1034.94 217 L1035.44 217.87 L1035.94 218.72 L1036.44 219.54 L1036.93 220.35 L1037.43 221.14 L1037.93 221.9 L1038.43 222.65 L1038.93 223.39 L1039.43 224.1 L1039.93 224.8 L1040.43 225.48 L1040.93 226.15 L1041.43 226.79 L1041.93 227.43 L1042.43 228.04 L1042.93 228.64 L1043.43 229.23 L1043.93 229.8 L1044.43 230.36 L1044.93 230.91 L1045.43 231.44 L1045.93 231.96 L1046.43 232.46 L1046.93 232.95 L1047.43 233.43 L1047.93 233.9 L1048.42 234.36 L1048.92 234.81 L1049.42 235.24 L1049.92 235.67 L1050.42 236.09 L1050.92 236.49 L1051.42 236.89 L1051.92 237.28 L1052.42 237.66 L1052.92 238.03 L1053.42 238.39 L1053.92 238.75 L1054.42 239.1 L1054.92 239.44 L1055.42 239.77 L1055.92 240.1 L1056.42 240.43 L1056.92 240.75 L1057.42 241.06 L1057.92 241.37 L1058.42 241.67 L1058.92 241.97 L1059.42 242.26 L1059.92 242.55 L1060.41 242.84 L1060.91 243.12 L1061.41 243.39 L1061.91 243.66 L1062.41 243.91 L1062.91 244.17 L1063.41 244.41 L1063.91 244.65 L1064.41 244.88 L1064.91 245.1 L1065.41 245.31 L1065.91 245.51 L1066.41 245.7 L1066.91 245.88 L1067.41 246.05 L1067.91 246.21 L1068.41 246.36 L1068.91 246.5 L1069.41 246.63 L1069.91 246.74 L1070.41 246.84 L1070.91 246.93 L1071.41 247.01 L1071.9 247.07 L1072.4 247.12 L1072.9 247.15 L1073.4 247.17 L1073.9 247.18 L1074.4 247.17 L1074.9 247.14 L1075.4 247.1 L1075.9 247.04 L1076.4 246.97 L1076.9 246.87 L1077.4 246.76" fill="none" stroke="#e0b54c" stroke-width="2.1" stroke-linecap="round"/><path d="M728.8 172.03 L729.29 171.99 L729.79 171.96 L730.28 171.97 L730.78 171.99 L731.27 172.04 L731.76 172.11 L732.26 172.2 L732.75 172.31 L733.24 172.44 L733.74 172.6 L734.23 172.77 L734.73 172.97 L735.22 173.18 L735.71 173.41 L736.21 173.67 L736.7 173.94 L737.2 174.22 L737.69 174.53 L738.18 174.85 L738.68 175.19 L739.17 175.54 L739.66 175.91 L740.16 176.3 L740.65 176.7 L741.15 177.11 L741.64 177.54 L742.13 177.99 L742.63 178.44 L743.12 178.91 L743.62 179.39 L744.11 179.89 L744.6 180.39 L745.1 180.91 L745.59 181.44 L746.08 181.98 L746.58 182.53 L747.07 183.09 L747.57 183.65 L748.06 184.23 L748.55 184.82 L749.05 185.41 L749.54 186.01 L750.04 186.62 L750.53 187.23 L751.02 187.84 L751.52 188.46 L752.01 189.08 L752.5 189.7 L753 190.32 L753.49 190.94 L753.99 191.55 L754.48 192.16 L754.97 192.76 L755.47 193.36 L755.96 193.95 L756.46 194.52 L756.95 195.09 L757.44 195.64 L757.94 196.18 L758.43 196.71 L758.92 197.22 L759.42 197.71 L759.91 198.18 L760.41 198.64 L760.9 199.07 L761.39 199.48 L761.89 199.87 L762.38 200.24 L762.88 200.58 L763.37 200.91 L763.86 201.2 L764.36 201.48 L764.85 201.73 L765.34 201.96 L765.84 202.17 L766.33 202.35 L766.83 202.51 L767.32 202.64 L767.81 202.76 L768.31 202.84 L768.8 202.91 L769.3 202.95 L769.79 202.97 L770.28 202.96 L770.78 202.93 L771.27 202.88 L771.76 202.8 L772.26 202.69 L772.75 202.57 L773.25 202.42 L773.74 202.24 L774.23 202.04 L774.73 201.81 L775.22 201.56 L775.72 201.29 L776.21 200.99 L776.7 200.66 L777.2 200.31 L777.69 199.94 L778.18 199.54 L778.68 199.11 L779.17 198.67 L779.67 198.2 L780.16 197.71 L780.65 197.2 L781.15 196.68 L781.64 196.14 L782.14 195.59 L782.63 195.02 L783.12 194.44 L783.62 193.84 L784.11 193.24 L784.6 192.63 L785.1 192.01 L785.59 191.39 L786.09 190.76 L786.58 190.13 L787.07 189.49 L787.57 188.86 L788.06 188.22 L788.56 187.59 L789.05 186.96 L789.54 186.33 L790.04 185.71 L790.53 185.09 L791.02 184.48 L791.52 183.88 L792.01 183.28 L792.51 182.7 L793 182.11 L793.49 181.54 L793.99 180.97 L794.48 180.41 L794.98 179.86 L795.47 179.32 L795.96 178.78 L796.46 178.25 L796.95 177.73 L797.44 177.21 L797.94 176.71 L798.43 176.21 L798.93 175.72 L799.42 175.24 L799.91 174.77 L800.41 174.31 L800.9 173.85 L801.4 173.41 L801.89 172.97 L802.38 172.55 L802.88 172.13 L803.37 171.72 L803.86 171.32 L804.36 170.93 L804.85 170.55 L805.35 170.18 L805.84 169.82 L806.33 169.47 L806.83 169.13 L807.32 168.8 L807.82 168.48 L808.31 168.17 L808.8 167.88 L809.3 167.59 L809.79 167.31 L810.28 167.05 L810.78 166.79 L811.27 166.55 L811.77 166.31 L812.26 166.09 L812.75 165.88 L813.25 165.68 L813.74 165.5 L814.24 165.32 L814.73 165.16 L815.22 165.01 L815.72 164.87 L816.21 164.74 L816.71 164.63 L817.2 164.52 L817.69 164.43 L818.19 164.36 L818.68 164.29 L819.17 164.24 L819.67 164.2 L820.16 164.18 L820.66 164.16 L821.15 164.16 L821.64 164.18 L822.14 164.21 L822.63 164.25 L823.13 164.3 L823.62 164.37 L824.11 164.45 L824.61 164.55 L825.1 164.66 L825.59 164.79 L826.09 164.93 L826.58 165.08 L827.08 165.25 L827.57 165.43 L828.06 165.62 L828.56 165.83 L829.05 166.05 L829.55 166.28 L830.04 166.52 L830.53 166.78 L831.03 167.04 L831.52 167.32 L832.01 167.61 L832.51 167.91 L833 168.22 L833.5 168.54 L833.99 168.87 L834.48 169.21 L834.98 169.56 L835.47 169.92 L835.97 170.28 L836.46 170.66 L836.95 171.04 L837.45 171.43 L837.94 171.83 L838.43 172.24 L838.93 172.65 L839.42 173.07 L839.92 173.5 L840.41 173.93 L840.9 174.37 L841.4 174.82 L841.89 175.27 L842.39 175.73 L842.88 176.19 L843.37 176.65 L843.87 177.12 L844.36 177.6 L844.85 178.08 L845.35 178.56 L845.84 179.05 L846.34 179.53 L846.83 180.03 L847.32 180.52 L847.82 181.02 L848.31 181.51 L848.81 182.01 L849.3 182.52 L849.79 183.02 L850.29 183.52 L850.78 184.03 L851.27 184.53 L851.77 185.04 L852.26 185.54 L852.76 186.04 L853.25 186.55 L853.74 187.05 L854.24 187.55 L854.73 188.05 L855.23 188.55 L855.72 189.05 L856.21 189.54 L856.71 190.03 L857.2 190.52 L857.69 191.01 L858.19 191.5 L858.68 191.98 L859.18 192.47 L859.67 192.95 L860.16 193.42 L860.66 193.9 L861.15 194.37 L861.65 194.84 L862.14 195.31 L862.63 195.78 L863.13 196.24 L863.62 196.7 L864.11 197.15 L864.61 197.61 L865.1 198.06 L865.6 198.51 L866.09 198.95 L866.58 199.39 L867.08 199.83 L867.57 200.27 L868.07 200.7 L868.56 201.12 L869.05 201.55 L869.55 201.97 L870.04 202.39 L870.53 202.8 L871.03 203.21 L871.52 203.62 L872.02 204.02 L872.51 204.42 L873 204.81 L873.5 205.2 L873.99 205.59 L874.49 205.97 L874.98 206.34 L875.47 206.72 L875.97 207.09 L876.46 207.45 L876.95 207.81 L877.45 208.16 L877.94 208.51 L878.44 208.86 L878.93 209.2 L879.42 209.53 L879.92 209.87 L880.41 210.19 L880.91 210.51 L881.4 210.83 L881.89 211.14 L882.39 211.44 L882.88 211.74 L883.37 212.03 L883.87 212.32 L884.36 212.61 L884.86 212.88 L885.35 213.15 L885.84 213.42 L886.34 213.68 L886.83 213.93 L887.33 214.18 L887.82 214.42 L888.31 214.66 L888.81 214.89 L889.3 215.11 L889.79 215.33 L890.29 215.54 L890.78 215.75 L891.28 215.95 L891.77 216.14 L892.26 216.33 L892.76 216.51 L893.25 216.68 L893.75 216.85 L894.24 217.01 L894.73 217.16 L895.23 217.31 L895.72 217.45 L896.21 217.59 L896.71 217.71 L897.2 217.84 L897.7 217.95 L898.19 218.06 L898.68 218.16 L899.18 218.26 L899.67 218.35 L900.17 218.43 L900.66 218.5 L901.15 218.57 L901.65 218.64 L902.14 218.69 L902.63 218.74 L903.13 218.78 L903.62 218.81 L904.12 218.84 L904.61 218.86 L905.1 218.88 L905.6 218.88 L906.09 218.88 L906.59 218.88 L907.08 218.86 L907.57 218.84 L908.07 218.81 L908.56 218.78 L909.05 218.74 L909.55 218.69 L910.04 218.63 L910.54 218.57 L911.03 218.5 L911.52 218.42 L912.02 218.33 L912.51 218.24 L913.01 218.14 L913.5 218.03 L913.99 217.92 L914.49 217.79 L914.98 217.66 L915.47 217.53 L915.97 217.38 L916.46 217.23 L916.96 217.07 L917.45 216.9 L917.94 216.73 L918.44 216.55 L918.93 216.36 L919.43 216.17 L919.92 215.97 L920.41 215.76 L920.91 215.55 L921.4 215.33 L921.89 215.11 L922.39 214.88 L922.88 214.64 L923.38 214.4 L923.87 214.16 L924.36 213.91 L924.86 213.65 L925.35 213.4 L925.85 213.13 L926.34 212.86 L926.83 212.59 L927.33 212.32 L927.82 212.04 L928.31 211.75 L928.81 211.47 L929.3 211.18 L929.8 210.89 L930.29 210.59 L930.78 210.29 L931.28 209.99 L931.77 209.69 L932.27 209.38 L932.76 209.08 L933.25 208.77 L933.75 208.46 L934.24 208.15 L934.73 207.83 L935.23 207.52 L935.72 207.2 L936.22 206.88 L936.71 206.57 L937.2 206.25 L937.7 205.93 L938.19 205.61 L938.69 205.29 L939.18 204.97 L939.67 204.66 L940.17 204.34 L940.66 204.02 L941.15 203.7 L941.65 203.39 L942.14 203.07 L942.64 202.76 L943.13 202.45 L943.62 202.14 L944.12 201.83 L944.61 201.53 L945.11 201.22 L945.6 200.92 L946.09 200.62 L946.59 200.32 L947.08 200.03 L947.57 199.74 L948.07 199.45 L948.56 199.16 L949.06 198.88 L949.55 198.61 L950.04 198.33 L950.54 198.06 L951.03 197.8 L951.53 197.53 L952.02 197.28 L952.51 197.03 L953.01 196.78 L953.5 196.54 L953.99 196.3 L954.49 196.07 L954.98 195.85 L955.48 195.63 L955.97 195.42 L956.46 195.22 L956.96 195.02 L957.45 194.83 L957.95 194.65 L958.44 194.47 L958.93 194.3 L959.43 194.14 L959.92 193.99 L960.41 193.85 L960.91 193.72 L961.4 193.59 L961.9 193.48 L962.39 193.37 L962.88 193.28 L963.38 193.19 L963.87 193.12 L964.37 193.05 L964.86 193 L965.35 192.95 L965.85 192.92 L966.34 192.9 L966.83 192.89 L967.33 192.9 L967.82 192.91 L968.32 192.94 L968.81 192.98 L969.3 193.03 L969.8 193.09 L970.29 193.17 L970.79 193.27 L971.28 193.37 L971.77 193.49 L972.27 193.62 L972.76 193.77 L973.25 193.94 L973.75 194.11 L974.24 194.3 L974.74 194.5 L975.23 194.71 L975.72 194.93 L976.22 195.15 L976.71 195.39 L977.21 195.63 L977.7 195.88 L978.19 196.13 L978.69 196.39 L979.18 196.65 L979.67 196.92 L980.17 197.18 L980.66 197.45 L981.16 197.72 L981.65 197.98 L982.14 198.24 L982.64 198.5 L983.13 198.76 L983.63 199.01 L984.12 199.26 L984.61 199.5 L985.11 199.73 L985.6 199.96 L986.09 200.19 L986.59 200.4 L987.08 200.61 L987.58 200.81 L988.07 201.01 L988.56 201.19 L989.06 201.37 L989.55 201.55 L990.05 201.71 L990.54 201.87 L991.03 202.02 L991.53 202.16 L992.02 202.29 L992.52 202.41 L993.01 202.53 L993.5 202.64 L994 202.73 L994.49 202.82 L994.98 202.9 L995.48 202.97 L995.97 203.02 L996.47 203.07 L996.96 203.11 L997.45 203.14 L997.95 203.16 L998.44 203.16 L998.94 203.16 L999.43 203.14 L999.92 203.12 L1000.42 203.08 L1000.91 203.03 L1001.4 202.97 L1001.9 202.9 L1002.39 202.81 L1002.89 202.71 L1003.38 202.6 L1003.87 202.48 L1004.37 202.35 L1004.86 202.2 L1005.36 202.04 L1005.85 201.86 L1006.34 201.67 L1006.84 201.47 L1007.33 201.26 L1007.82 201.03 L1008.32 200.79 L1008.81 200.54 L1009.31 200.28 L1009.8 200 L1010.29 199.72 L1010.79 199.42 L1011.28 199.12 L1011.78 198.81 L1012.27 198.49 L1012.76 198.16 L1013.26 197.82 L1013.75 197.47 L1014.24 197.12 L1014.74 196.76 L1015.23 196.4 L1015.73 196.02 L1016.22 195.65 L1016.71 195.27 L1017.21 194.88 L1017.7 194.49 L1018.2 194.1 L1018.69 193.7 L1019.18 193.3 L1019.68 192.89 L1020.17 192.48 L1020.66 192.07 L1021.16 191.66 L1021.65 191.24 L1022.15 190.82 L1022.64 190.4 L1023.13 189.98 L1023.63 189.55 L1024.12 189.13 L1024.62 188.7 L1025.11 188.28 L1025.6 187.85 L1026.1 187.42 L1026.59 186.99 L1027.08 186.57 L1027.58 186.14 L1028.07 185.72 L1028.57 185.3 L1029.06 184.87 L1029.55 184.45 L1030.05 184.04 L1030.54 183.62 L1031.04 183.21 L1031.53 182.8 L1032.02 182.39 L1032.52 181.99 L1033.01 181.59 L1033.5 181.19 L1034 180.8 L1034.49 180.41 L1034.99 180.03 L1035.48 179.65 L1035.97 179.28 L1036.47 178.91 L1036.96 178.55 L1037.46 178.19 L1037.95 177.84 L1038.44 177.5 L1038.94 177.16 L1039.43 176.83 L1039.92 176.51 L1040.42 176.19 L1040.91 175.89 L1041.41 175.59 L1041.9 175.3 L1042.39 175.02 L1042.89 174.74 L1043.38 174.48 L1043.88 174.23 L1044.37 173.98 L1044.86 173.74 L1045.36 173.51 L1045.85 173.28 L1046.34 173.07 L1046.84 172.86 L1047.33 172.66 L1047.83 172.46 L1048.32 172.28 L1048.81 172.1 L1049.31 171.92 L1049.8 171.75 L1050.3 171.59 L1050.79 171.44 L1051.28 171.29 L1051.78 171.14 L1052.27 171 L1052.76 170.87 L1053.26 170.74 L1053.75 170.61 L1054.25 170.49 L1054.74 170.38 L1055.23 170.27 L1055.73 170.16 L1056.22 170.06 L1056.72 169.96 L1057.21 169.86 L1057.7 169.77 L1058.2 169.68 L1058.69 169.59 L1059.18 169.51 L1059.68 169.42 L1060.17 169.34 L1060.67 169.27 L1061.16 169.19 L1061.65 169.12 L1062.15 169.05 L1062.64 168.98 L1063.14 168.91 L1063.63 168.84 L1064.12 168.77 L1064.62 168.71 L1065.11 168.64 L1065.6 168.58 L1066.1 168.51 L1066.59 168.44 L1067.09 168.38 L1067.58 168.31 L1068.07 168.25 L1068.57 168.18 L1069.06 168.11 L1069.56 168.04 L1070.05 167.97 L1070.54 167.9 L1071.04 167.82 L1071.53 167.74 L1072.02 167.67 L1072.52 167.59 L1073.01 167.5 L1073.51 167.42 L1074 167.33" fill="none" stroke="#d0505c" stroke-width="1.8" stroke-dasharray="0 5.3" stroke-linecap="round"/><circle cx="729.07" cy="225.47" r="1.85" fill="#2f9ca6"/><circle cx="737.03" cy="224.83" r="1.85" fill="#2f9ca6"/><circle cx="743.87" cy="229.13" r="1.85" fill="#2f9ca6"/><circle cx="749.29" cy="235.18" r="1.85" fill="#2f9ca6"/><circle cx="755.02" cy="241.38" r="1.85" fill="#2f9ca6"/><circle cx="762.02" cy="244.73" r="1.85" fill="#2f9ca6"/><circle cx="770.29" cy="244.25" r="1.85" fill="#2f9ca6"/><circle cx="777.62" cy="240.59" r="1.85" fill="#2f9ca6"/><circle cx="783.66" cy="235.18" r="1.85" fill="#2f9ca6"/><circle cx="788.12" cy="228.49" r="1.85" fill="#2f9ca6"/><circle cx="792.42" cy="221.33" r="1.85" fill="#2f9ca6"/><circle cx="796.87" cy="214.33" r="1.85" fill="#2f9ca6"/><circle cx="802.13" cy="208.12" r="1.85" fill="#2f9ca6"/><circle cx="809.29" cy="204.14" r="1.85" fill="#2f9ca6"/><circle cx="816.93" cy="205.73" r="1.85" fill="#2f9ca6"/><circle cx="822.66" cy="211.78" r="1.85" fill="#2f9ca6"/><circle cx="826.64" cy="218.78" r="1.85" fill="#2f9ca6"/><circle cx="830.62" cy="226.26" r="1.85" fill="#2f9ca6"/><circle cx="835.23" cy="232.95" r="1.85" fill="#2f9ca6"/><circle cx="840.64" cy="239" r="1.85" fill="#2f9ca6"/><circle cx="846.85" cy="244.25" r="1.85" fill="#2f9ca6"/><circle cx="854.65" cy="246.8" r="1.85" fill="#2f9ca6"/><circle cx="861.65" cy="242.98" r="1.85" fill="#2f9ca6"/><circle cx="865.95" cy="235.81" r="1.85" fill="#2f9ca6"/><circle cx="869.61" cy="228.49" r="1.85" fill="#2f9ca6"/><circle cx="872.79" cy="221.01" r="1.85" fill="#2f9ca6"/><circle cx="875.98" cy="213.37" r="1.85" fill="#2f9ca6"/><circle cx="878.68" cy="205.57" r="1.85" fill="#2f9ca6"/><circle cx="881.55" cy="197.93" r="1.85" fill="#2f9ca6"/><circle cx="884.73" cy="190.29" r="1.85" fill="#2f9ca6"/><circle cx="887.6" cy="182.81" r="1.85" fill="#2f9ca6"/><circle cx="891.41" cy="175.33" r="1.85" fill="#2f9ca6"/><circle cx="895.71" cy="168.49" r="1.85" fill="#2f9ca6"/><circle cx="900.01" cy="162.28" r="1.85" fill="#2f9ca6"/><circle cx="907.07" cy="156.77" r="1.85" fill="#2f9ca6"/><circle cx="914.97" cy="153.84" r="1.85" fill="#2f9ca6"/><circle cx="922.86" cy="153.84" r="1.85" fill="#2f9ca6"/><circle cx="930.76" cy="156.09" r="1.85" fill="#2f9ca6"/><circle cx="937.07" cy="161.06" r="1.85" fill="#2f9ca6"/><circle cx="942.71" cy="166.92" r="1.85" fill="#2f9ca6"/><circle cx="947" cy="174.14" r="1.85" fill="#2f9ca6"/><circle cx="950.16" cy="181.58" r="1.85" fill="#2f9ca6"/><circle cx="952.19" cy="189.48" r="1.85" fill="#2f9ca6"/><circle cx="954.44" cy="197.37" r="1.85" fill="#2f9ca6"/><circle cx="956.92" cy="205.27" r="1.85" fill="#2f9ca6"/><circle cx="959.63" cy="212.94" r="1.85" fill="#2f9ca6"/><circle cx="963.01" cy="220.61" r="1.85" fill="#2f9ca6"/><circle cx="967.07" cy="227.83" r="1.85" fill="#2f9ca6"/><circle cx="971.59" cy="234.6" r="1.85" fill="#2f9ca6"/><circle cx="976.55" cy="241.14" r="1.85" fill="#2f9ca6"/><circle cx="982.64" cy="247" r="1.85" fill="#2f9ca6"/><circle cx="989.86" cy="250.84" r="1.85" fill="#2f9ca6"/><circle cx="997.53" cy="250.84" r="1.85" fill="#2f9ca6"/><circle cx="1005.2" cy="247.9" r="1.85" fill="#2f9ca6"/><circle cx="1011.51" cy="242.94" r="1.85" fill="#2f9ca6"/><circle cx="1016.7" cy="236.4" r="1.85" fill="#2f9ca6"/><circle cx="1020.99" cy="229.63" r="1.85" fill="#2f9ca6"/><circle cx="1025.5" cy="222.64" r="1.85" fill="#2f9ca6"/><circle cx="1030.69" cy="216.1" r="1.85" fill="#2f9ca6"/><circle cx="1037.23" cy="211.13" r="1.85" fill="#2f9ca6"/><circle cx="1044.67" cy="207.98" r="1.85" fill="#2f9ca6"/><circle cx="1052.57" cy="206.17" r="1.85" fill="#2f9ca6"/><circle cx="1060.92" cy="205.95" r="1.85" fill="#2f9ca6"/><circle cx="1069.04" cy="206.4" r="1.85" fill="#2f9ca6"/><circle cx="1077.38" cy="207.3" r="1.85" fill="#2f9ca6"/><path d="M727.4 122.5 V281.9 H1077.4" fill="none" stroke="#5a5a5a" stroke-width="1.3"/><line x1="743.31" y1="370.8" x2="743.31" y2="528.8" stroke="#d2d2d2" stroke-width="1.1"/><line x1="759.22" y1="370.8" x2="759.22" y2="528.8" stroke="#d2d2d2" stroke-width="1.1"/><line x1="775.13" y1="370.8" x2="775.13" y2="528.8" stroke="#d2d2d2" stroke-width="1.1"/><line x1="791.04" y1="370.8" x2="791.04" y2="528.8" stroke="#d2d2d2" stroke-width="1.1"/><line x1="806.95" y1="370.8" x2="806.95" y2="528.8" stroke="#d2d2d2" stroke-width="1.1"/><line x1="822.85" y1="370.8" x2="822.85" y2="528.8" stroke="#d2d2d2" stroke-width="1.1"/><line x1="838.76" y1="370.8" x2="838.76" y2="528.8" stroke="#d2d2d2" stroke-width="1.1"/><line x1="854.67" y1="370.8" x2="854.67" y2="528.8" stroke="#d2d2d2" stroke-width="1.1"/><line x1="870.58" y1="370.8" x2="870.58" y2="528.8" stroke="#d2d2d2" stroke-width="1.1"/><line x1="886.49" y1="370.8" x2="886.49" y2="528.8" stroke="#d2d2d2" stroke-width="1.1"/><line x1="902.4" y1="370.8" x2="902.4" y2="528.8" stroke="#d2d2d2" stroke-width="1.1"/><line x1="918.31" y1="370.8" x2="918.31" y2="528.8" stroke="#d2d2d2" stroke-width="1.1"/><line x1="934.22" y1="370.8" x2="934.22" y2="528.8" stroke="#d2d2d2" stroke-width="1.1"/><line x1="950.13" y1="370.8" x2="950.13" y2="528.8" stroke="#d2d2d2" stroke-width="1.1"/><line x1="966.04" y1="370.8" x2="966.04" y2="528.8" stroke="#d2d2d2" stroke-width="1.1"/><line x1="981.95" y1="370.8" x2="981.95" y2="528.8" stroke="#d2d2d2" stroke-width="1.1"/><line x1="997.85" y1="370.8" x2="997.85" y2="528.8" stroke="#d2d2d2" stroke-width="1.1"/><line x1="1013.76" y1="370.8" x2="1013.76" y2="528.8" stroke="#d2d2d2" stroke-width="1.1"/><line x1="1029.67" y1="370.8" x2="1029.67" y2="528.8" stroke="#d2d2d2" stroke-width="1.1"/><line x1="1045.58" y1="370.8" x2="1045.58" y2="528.8" stroke="#d2d2d2" stroke-width="1.1"/><line x1="1061.49" y1="370.8" x2="1061.49" y2="528.8" stroke="#d2d2d2" stroke-width="1.1"/><line x1="1077.4" y1="370.8" x2="1077.4" y2="528.8" stroke="#d2d2d2" stroke-width="1.1"/><line x1="727.4" y1="370.8" x2="1077.4" y2="370.8" stroke="#d2d2d2" stroke-width="1.1"/><line x1="727.4" y1="386.6" x2="1077.4" y2="386.6" stroke="#d2d2d2" stroke-width="1.1"/><line x1="727.4" y1="402.4" x2="1077.4" y2="402.4" stroke="#d2d2d2" stroke-width="1.1"/><line x1="727.4" y1="418.2" x2="1077.4" y2="418.2" stroke="#d2d2d2" stroke-width="1.1"/><line x1="727.4" y1="434" x2="1077.4" y2="434" stroke="#d2d2d2" stroke-width="1.1"/><line x1="727.4" y1="449.8" x2="1077.4" y2="449.8" stroke="#d2d2d2" stroke-width="1.1"/><line x1="727.4" y1="465.6" x2="1077.4" y2="465.6" stroke="#d2d2d2" stroke-width="1.1"/><line x1="727.4" y1="481.4" x2="1077.4" y2="481.4" stroke="#d2d2d2" stroke-width="1.1"/><line x1="727.4" y1="497.2" x2="1077.4" y2="497.2" stroke="#d2d2d2" stroke-width="1.1"/><line x1="727.4" y1="513" x2="1077.4" y2="513" stroke="#d2d2d2" stroke-width="1.1"/><text x="723.6" y="531.2" font-size="6.8" fill="#a8a8a8" text-anchor="end" font-family="Liberation Sans">0</text><text x="723.6" y="515.4" font-size="6.8" fill="#a8a8a8" text-anchor="end" font-family="Liberation Sans">10</text><text x="723.6" y="499.6" font-size="6.8" fill="#a8a8a8" text-anchor="end" font-family="Liberation Sans">20</text><text x="723.6" y="483.8" font-size="6.8" fill="#a8a8a8" text-anchor="end" font-family="Liberation Sans">30</text><text x="723.6" y="468" font-size="6.8" fill="#a8a8a8" text-anchor="end" font-family="Liberation Sans">40</text><text x="723.6" y="452.2" font-size="6.8" fill="#a8a8a8" text-anchor="end" font-family="Liberation Sans">50</text><text x="723.6" y="436.4" font-size="6.8" fill="#a8a8a8" text-anchor="end" font-family="Liberation Sans">60</text><text x="723.6" y="420.6" font-size="6.8" fill="#a8a8a8" text-anchor="end" font-family="Liberation Sans">70</text><text x="723.6" y="404.8" font-size="6.8" fill="#a8a8a8" text-anchor="end" font-family="Liberation Sans">80</text><text x="723.6" y="389" font-size="6.8" fill="#a8a8a8" text-anchor="end" font-family="Liberation Sans">90</text><text x="723.6" y="373.2" font-size="6.8" fill="#a8a8a8" text-anchor="end" font-family="Liberation Sans">100</text><text x="733.2" y="538.8" font-size="6.8" fill="#a8a8a8" text-anchor="middle" font-family="Liberation Sans">0</text><text x="747.3" y="538.8" font-size="6.8" fill="#a8a8a8" text-anchor="middle" font-family="Liberation Sans">10</text><text x="763.11" y="538.8" font-size="6.8" fill="#a8a8a8" text-anchor="middle" font-family="Liberation Sans">20</text><text x="778.92" y="538.8" font-size="6.8" fill="#a8a8a8" text-anchor="middle" font-family="Liberation Sans">30</text><text x="794.73" y="538.8" font-size="6.8" fill="#a8a8a8" text-anchor="middle" font-family="Liberation Sans">40</text><text x="810.54" y="538.8" font-size="6.8" fill="#a8a8a8" text-anchor="middle" font-family="Liberation Sans">50</text><text x="826.35" y="538.8" font-size="6.8" fill="#a8a8a8" text-anchor="middle" font-family="Liberation Sans">60</text><text x="842.16" y="538.8" font-size="6.8" fill="#a8a8a8" text-anchor="middle" font-family="Liberation Sans">70</text><text x="857.97" y="538.8" font-size="6.8" fill="#a8a8a8" text-anchor="middle" font-family="Liberation Sans">80</text><text x="873.78" y="538.8" font-size="6.8" fill="#a8a8a8" text-anchor="middle" font-family="Liberation Sans">90</text><text x="889.59" y="538.8" font-size="6.8" fill="#a8a8a8" text-anchor="middle" font-family="Liberation Sans">100</text><text x="905.4" y="538.8" font-size="6.8" fill="#a8a8a8" text-anchor="middle" font-family="Liberation Sans">110</text><text x="921.21" y="538.8" font-size="6.8" fill="#a8a8a8" text-anchor="middle" font-family="Liberation Sans">120</text><text x="937.02" y="538.8" font-size="6.8" fill="#a8a8a8" text-anchor="middle" font-family="Liberation Sans">130</text><text x="952.83" y="538.8" font-size="6.8" fill="#a8a8a8" text-anchor="middle" font-family="Liberation Sans">140</text><text x="968.64" y="538.8" font-size="6.8" fill="#a8a8a8" text-anchor="middle" font-family="Liberation Sans">150</text><text x="984.45" y="538.8" font-size="6.8" fill="#a8a8a8" text-anchor="middle" font-family="Liberation Sans">160</text><text x="1000.26" y="538.8" font-size="6.8" fill="#a8a8a8" text-anchor="middle" font-family="Liberation Sans">170</text><text x="1016.07" y="538.8" font-size="6.8" fill="#a8a8a8" text-anchor="middle" font-family="Liberation Sans">180</text><text x="1031.88" y="538.8" font-size="6.8" fill="#a8a8a8" text-anchor="middle" font-family="Liberation Sans">190</text><text x="1047.69" y="538.8" font-size="6.8" fill="#a8a8a8" text-anchor="middle" font-family="Liberation Sans">200</text><text x="1063.5" y="538.8" font-size="6.8" fill="#a8a8a8" text-anchor="middle" font-family="Liberation Sans">210</text><text x="1079.31" y="538.8" font-size="6.8" fill="#a8a8a8" text-anchor="middle" font-family="Liberation Sans">220</text><path d="M727.4 428.15 L727.79 428.16 L728.18 428.18 L728.57 428.21 L728.96 428.26 L729.35 428.32 L729.74 428.39 L730.13 428.47 L730.51 428.57 L730.9 428.68 L731.29 428.81 L731.68 428.94 L732.07 429.09 L732.46 429.25 L732.85 429.43 L733.24 429.62 L733.63 429.82 L734.02 430.03 L734.41 430.25 L734.8 430.49 L735.19 430.74 L735.58 431 L735.97 431.27 L736.35 431.55 L736.74 431.85 L737.13 432.16 L737.52 432.47 L737.91 432.8 L738.3 433.15 L738.69 433.5 L739.08 433.86 L739.47 434.23 L739.86 434.62 L740.25 435.01 L740.64 435.41 L741.03 435.83 L741.42 436.25 L741.8 436.68 L742.19 437.13 L742.58 437.58 L742.97 438.04 L743.36 438.51 L743.75 438.98 L744.14 439.47 L744.53 439.96 L744.92 440.47 L745.31 440.98 L745.7 441.49 L746.09 442.02 L746.48 442.55 L746.87 443.09 L747.26 443.63 L747.64 444.18 L748.03 444.74 L748.42 445.3 L748.81 445.87 L749.2 446.45 L749.59 447.02 L749.98 447.61 L750.37 448.2 L750.76 448.79 L751.15 449.39 L751.54 449.99 L751.93 450.59 L752.32 451.2 L752.71 451.81 L753.1 452.42 L753.48 453.03 L753.87 453.65 L754.26 454.27 L754.65 454.89 L755.04 455.51 L755.43 456.14 L755.82 456.76 L756.21 457.39 L756.6 458.01 L756.99 458.64 L757.38 459.26 L757.77 459.88 L758.16 460.51 L758.55 461.13 L758.94 461.75 L759.32 462.37 L759.71 462.98 L760.1 463.6 L760.49 464.21 L760.88 464.82 L761.27 465.43 L761.66 466.03 L762.05 466.63 L762.44 467.22 L762.83 467.82 L763.22 468.4 L763.61 468.99 L764 469.56 L764.39 470.14 L764.77 470.7 L765.16 471.26 L765.55 471.82 L765.94 472.37 L766.33 472.91 L766.72 473.45 L767.11 473.98 L767.5 474.5 L767.89 475.02 L768.28 475.53 L768.67 476.03 L769.06 476.52 L769.45 477 L769.84 477.48 L770.23 477.95 L770.61 478.4 L771 478.85 L771.39 479.29 L771.78 479.72 L772.17 480.15 L772.56 480.56 L772.95 480.96 L773.34 481.35 L773.73 481.73 L774.12 482.1 L774.51 482.46 L774.9 482.81 L775.29 483.15 L775.68 483.47 L776.07 483.79 L776.45 484.1 L776.84 484.39 L777.23 484.67 L777.62 484.94 L778.01 485.2 L778.4 485.44 L778.79 485.68 L779.18 485.9 L779.57 486.11 L779.96 486.3 L780.35 486.49 L780.74 486.66 L781.13 486.82 L781.52 486.96 L781.91 487.1 L782.29 487.22 L782.68 487.33 L783.07 487.42 L783.46 487.5 L783.85 487.57 L784.24 487.63 L784.63 487.67 L785.02 487.7 L785.41 487.72 L785.8 487.72 L786.19 487.71 L786.58 487.69 L786.97 487.65 L787.36 487.6 L787.74 487.54 L788.13 487.47 L788.52 487.38 L788.91 487.28 L789.3 487.16 L789.69 487.04 L790.08 486.9 L790.47 486.74 L790.86 486.58 L791.25 486.4 L791.64 486.21 L792.03 486.01 L792.42 485.79 L792.81 485.57 L793.2 485.33 L793.58 485.08 L793.97 484.81 L794.36 484.54 L794.75 484.25 L795.14 483.95 L795.53 483.64 L795.92 483.32 L796.31 482.99 L796.7 482.65 L797.09 482.29 L797.48 481.93 L797.87 481.55 L798.26 481.17 L798.65 480.77 L799.04 480.36 L799.42 479.95 L799.81 479.52 L800.2 479.09 L800.59 478.64 L800.98 478.19 L801.37 477.73 L801.76 477.26 L802.15 476.78 L802.54 476.29 L802.93 475.79 L803.32 475.29 L803.71 474.78 L804.1 474.26 L804.49 473.73 L804.87 473.2 L805.26 472.66 L805.65 472.11 L806.04 471.56 L806.43 471 L806.82 470.44 L807.21 469.87 L807.6 469.29 L807.99 468.71 L808.38 468.13 L808.77 467.54 L809.16 466.94 L809.55 466.35 L809.94 465.75 L810.33 465.14 L810.71 464.53 L811.1 463.92 L811.49 463.31 L811.88 462.69 L812.27 462.08 L812.66 461.46 L813.05 460.84 L813.44 460.21 L813.83 459.59 L814.22 458.97 L814.61 458.34 L815 457.72 L815.39 457.09 L815.78 456.47 L816.17 455.84 L816.55 455.22 L816.94 454.6 L817.33 453.98 L817.72 453.36 L818.11 452.75 L818.5 452.13 L818.89 451.52 L819.28 450.91 L819.67 450.31 L820.06 449.7 L820.45 449.11 L820.84 448.51 L821.23 447.92 L821.62 447.33 L822.01 446.75 L822.39 446.18 L822.78 445.6 L823.17 445.04 L823.56 444.48 L823.95 443.92 L824.34 443.38 L824.73 442.83 L825.12 442.3 L825.51 441.77 L825.9 441.25 L826.29 440.74 L826.68 440.23 L827.07 439.73 L827.46 439.24 L827.84 438.76 L828.23 438.29 L828.62 437.82 L829.01 437.36 L829.4 436.92 L829.79 436.48 L830.18 436.05 L830.57 435.63 L830.96 435.22 L831.35 434.82 L831.74 434.43 L832.13 434.06 L832.52 433.69 L832.91 433.33 L833.3 432.98 L833.68 432.65 L834.07 432.32 L834.46 432.01 L834.85 431.71 L835.24 431.42 L835.63 431.14 L836.02 430.87 L836.41 430.62 L836.8 430.38 L837.19 430.15 L837.58 429.93 L837.97 429.72 L838.36 429.53 L838.75 429.35 L839.14 429.18 L839.52 429.02 L839.91 428.88 L840.3 428.75 L840.69 428.63 L841.08 428.52 L841.47 428.43 L841.86 428.35 L842.25 428.29 L842.64 428.24 L843.03 428.2 L843.42 428.17 L843.81 428.16 L844.2 428.16 L844.59 428.17 L844.98 428.19 L845.36 428.23 L845.75 428.28 L846.14 428.35 L846.53 428.43 L846.92 428.52 L847.31 428.62 L847.7 428.74 L848.09 428.87 L848.48 429.01 L848.87 429.17 L849.26 429.33 L849.65 429.52 L850.04 429.71 L850.43 429.91 L850.81 430.13 L851.2 430.36 L851.59 430.6 L851.98 430.86 L852.37 431.12 L852.76 431.4 L853.15 431.69 L853.54 431.99 L853.93 432.3 L854.32 432.63 L854.71 432.96 L855.1 433.31 L855.49 433.67 L855.88 434.03 L856.27 434.41 L856.65 434.8 L857.04 435.2 L857.43 435.61 L857.82 436.02 L858.21 436.45 L858.6 436.89 L858.99 437.34 L859.38 437.79 L859.77 438.26 L860.16 438.73 L860.55 439.21 L860.94 439.7 L861.33 440.2 L861.72 440.71 L862.11 441.22 L862.49 441.74 L862.88 442.27 L863.27 442.8 L863.66 443.34 L864.05 443.89 L864.44 444.44 L864.83 445 L865.22 445.57 L865.61 446.14 L866 446.72 L866.39 447.3 L866.78 447.88 L867.17 448.47 L867.56 449.07 L867.95 449.67 L868.33 450.27 L868.72 450.87 L869.11 451.48 L869.5 452.09 L869.89 452.71 L870.28 453.32 L870.67 453.94 L871.06 454.56 L871.45 455.18 L871.84 455.81 L872.23 456.43 L872.62 457.05 L873.01 457.68 L873.4 458.3 L873.78 458.93 L874.17 459.55 L874.56 460.18 L874.95 460.8 L875.34 461.42 L875.73 462.04 L876.12 462.66 L876.51 463.27 L876.9 463.89 L877.29 464.5 L877.68 465.1 L878.07 465.71 L878.46 466.31 L878.85 466.91 L879.24 467.5 L879.62 468.09 L880.01 468.68 L880.4 469.26 L880.79 469.83 L881.18 470.4 L881.57 470.97 L881.96 471.53 L882.35 472.08 L882.74 472.63 L883.13 473.17 L883.52 473.7 L883.91 474.23 L884.3 474.75 L884.69 475.26 L885.08 475.76 L885.46 476.26 L885.85 476.75 L886.24 477.23 L886.63 477.7 L887.02 478.16 L887.41 478.62 L887.8 479.06 L888.19 479.5 L888.58 479.92 L888.97 480.34 L889.36 480.75 L889.75 481.14 L890.14 481.53 L890.53 481.91 L890.92 482.27 L891.3 482.63 L891.69 482.97 L892.08 483.3 L892.47 483.62 L892.86 483.94 L893.25 484.23 L893.64 484.52 L894.03 484.8 L894.42 485.06 L894.81 485.31 L895.2 485.55 L895.59 485.78 L895.98 486 L896.37 486.2 L896.75 486.39 L897.14 486.57 L897.53 486.73 L897.92 486.89 L898.31 487.03 L898.7 487.16 L899.09 487.27 L899.48 487.37 L899.87 487.46 L900.26 487.54 L900.65 487.6 L901.04 487.65 L901.43 487.69 L901.82 487.71 L902.21 487.72 L902.59 487.72 L902.98 487.7 L903.37 487.67 L903.76 487.63 L904.15 487.58 L904.54 487.51 L904.93 487.43 L905.32 487.33 L905.71 487.22 L906.1 487.11 L906.49 486.97 L906.88 486.83 L907.27 486.67 L907.66 486.5 L908.05 486.31 L908.43 486.12 L908.82 485.91 L909.21 485.69 L909.6 485.46 L909.99 485.21 L910.38 484.95 L910.77 484.69 L911.16 484.41 L911.55 484.11 L911.94 483.81 L912.33 483.49 L912.72 483.17 L913.11 482.83 L913.5 482.48 L913.88 482.12 L914.27 481.75 L914.66 481.37 L915.05 480.98 L915.44 480.58 L915.83 480.17 L916.22 479.75 L916.61 479.32 L917 478.88 L917.39 478.43 L917.78 477.97 L918.17 477.51 L918.56 477.03 L918.95 476.55 L919.34 476.06 L919.72 475.56 L920.11 475.05 L920.5 474.53 L920.89 474.01 L921.28 473.48 L921.67 472.95 L922.06 472.4 L922.45 471.85 L922.84 471.3 L923.23 470.74 L923.62 470.17 L924.01 469.6 L924.4 469.02 L924.79 468.44 L925.18 467.85 L925.56 467.26 L925.95 466.66 L926.34 466.07 L926.73 465.46 L927.12 464.86 L927.51 464.25 L927.9 463.64 L928.29 463.02 L928.68 462.4 L929.07 461.79 L929.46 461.17 L929.85 460.54 L930.24 459.92 L930.63 459.3 L931.02 458.67 L931.4 458.05 L931.79 457.42 L932.18 456.8 L932.57 456.18 L932.96 455.55 L933.35 454.93 L933.74 454.31 L934.13 453.69 L934.52 453.07 L934.91 452.46 L935.3 451.84 L935.69 451.23 L936.08 450.63 L936.47 450.02 L936.85 449.42 L937.24 448.83 L937.63 448.23 L938.02 447.64 L938.41 447.06 L938.8 446.48 L939.19 445.91 L939.58 445.34 L939.97 444.77 L940.36 444.22 L940.75 443.67 L941.14 443.12 L941.53 442.58 L941.92 442.05 L942.31 441.53 L942.69 441.01 L943.08 440.5 L943.47 439.99 L943.86 439.5 L944.25 439.01 L944.64 438.54 L945.03 438.07 L945.42 437.6 L945.81 437.15 L946.2 436.71 L946.59 436.28 L946.98 435.85 L947.37 435.44 L947.76 435.03 L948.15 434.64 L948.53 434.26 L948.92 433.88 L949.31 433.52 L949.7 433.17 L950.09 432.82 L950.48 432.49 L950.87 432.18 L951.26 431.87 L951.65 431.57 L952.04 431.29 L952.43 431.01 L952.82 430.75 L953.21 430.5 L953.6 430.27 L953.99 430.04 L954.37 429.83 L954.76 429.63 L955.15 429.44 L955.54 429.26 L955.93 429.1 L956.32 428.95 L956.71 428.81 L957.1 428.69 L957.49 428.58 L957.88 428.48 L958.27 428.39 L958.66 428.32 L959.05 428.26 L959.44 428.22 L959.82 428.18 L960.21 428.16 L960.6 428.15 L960.99 428.16 L961.38 428.18 L961.77 428.21 L962.16 428.26 L962.55 428.31 L962.94 428.38 L963.33 428.47 L963.72 428.57 L964.11 428.68 L964.5 428.8 L964.89 428.93 L965.28 429.08 L965.66 429.24 L966.05 429.42 L966.44 429.6 L966.83 429.8 L967.22 430.01 L967.61 430.24 L968 430.47 L968.39 430.72 L968.78 430.98 L969.17 431.25 L969.56 431.54 L969.95 431.83 L970.34 432.14 L970.73 432.46 L971.12 432.78 L971.5 433.12 L971.89 433.48 L972.28 433.84 L972.67 434.21 L973.06 434.59 L973.45 434.99 L973.84 435.39 L974.23 435.8 L974.62 436.22 L975.01 436.66 L975.4 437.1 L975.79 437.55 L976.18 438.01 L976.57 438.48 L976.96 438.95 L977.34 439.44 L977.73 439.93 L978.12 440.44 L978.51 440.95 L978.9 441.46 L979.29 441.99 L979.68 442.52 L980.07 443.05 L980.46 443.6 L980.85 444.15 L981.24 444.71 L981.63 445.27 L982.02 445.84 L982.41 446.41 L982.79 446.99 L983.18 447.57 L983.57 448.16 L983.96 448.75 L984.35 449.35 L984.74 449.95 L985.13 450.55 L985.52 451.16 L985.91 451.77 L986.3 452.38 L986.69 453 L987.08 453.61 L987.47 454.23 L987.86 454.85 L988.25 455.48 L988.63 456.1 L989.02 456.72 L989.41 457.35 L989.8 457.97 L990.19 458.6 L990.58 459.22 L990.97 459.85 L991.36 460.47 L991.75 461.09 L992.14 461.71 L992.53 462.33 L992.92 462.95 L993.31 463.56 L993.7 464.17 L994.09 464.78 L994.47 465.39 L994.86 465.99 L995.25 466.59 L995.64 467.19 L996.03 467.78 L996.42 468.37 L996.81 468.95 L997.2 469.53 L997.59 470.1 L997.98 470.67 L998.37 471.23 L998.76 471.79 L999.15 472.34 L999.54 472.88 L999.93 473.42 L1000.31 473.95 L1000.7 474.47 L1001.09 474.99 L1001.48 475.5 L1001.87 476 L1002.26 476.49 L1002.65 476.97 L1003.04 477.45 L1003.43 477.92 L1003.82 478.38 L1004.21 478.83 L1004.6 479.27 L1004.99 479.7 L1005.38 480.12 L1005.76 480.53 L1006.15 480.93 L1006.54 481.33 L1006.93 481.71 L1007.32 482.08 L1007.71 482.44 L1008.1 482.79 L1008.49 483.13 L1008.88 483.46 L1009.27 483.77 L1009.66 484.08 L1010.05 484.37 L1010.44 484.65 L1010.83 484.92 L1011.22 485.18 L1011.6 485.43 L1011.99 485.66 L1012.38 485.88 L1012.77 486.09 L1013.16 486.29 L1013.55 486.48 L1013.94 486.65 L1014.33 486.81 L1014.72 486.96 L1015.11 487.09 L1015.5 487.21 L1015.89 487.32 L1016.28 487.42 L1016.67 487.5 L1017.06 487.57 L1017.44 487.62 L1017.83 487.67 L1018.22 487.7 L1018.61 487.72 L1019 487.72 L1019.39 487.71 L1019.78 487.69 L1020.17 487.65 L1020.56 487.61 L1020.95 487.54 L1021.34 487.47 L1021.73 487.38 L1022.12 487.28 L1022.51 487.17 L1022.89 487.04 L1023.28 486.91 L1023.67 486.75 L1024.06 486.59 L1024.45 486.41 L1024.84 486.22 L1025.23 486.02 L1025.62 485.81 L1026.01 485.58 L1026.4 485.34 L1026.79 485.09 L1027.18 484.83 L1027.57 484.56 L1027.96 484.27 L1028.35 483.97 L1028.73 483.66 L1029.12 483.34 L1029.51 483.01 L1029.9 482.67 L1030.29 482.31 L1030.68 481.95 L1031.07 481.58 L1031.46 481.19 L1031.85 480.8 L1032.24 480.39 L1032.63 479.97 L1033.02 479.55 L1033.41 479.11 L1033.8 478.67 L1034.19 478.22 L1034.57 477.76 L1034.96 477.29 L1035.35 476.81 L1035.74 476.32 L1036.13 475.82 L1036.52 475.32 L1036.91 474.81 L1037.3 474.29 L1037.69 473.76 L1038.08 473.23 L1038.47 472.69 L1038.86 472.15 L1039.25 471.59 L1039.64 471.04 L1040.03 470.47 L1040.41 469.9 L1040.8 469.33 L1041.19 468.75 L1041.58 468.16 L1041.97 467.57 L1042.36 466.98 L1042.75 466.38 L1043.14 465.78 L1043.53 465.18 L1043.92 464.57 L1044.31 463.96 L1044.7 463.35 L1045.09 462.73 L1045.48 462.11 L1045.86 461.5 L1046.25 460.87 L1046.64 460.25 L1047.03 459.63 L1047.42 459 L1047.81 458.38 L1048.2 457.76 L1048.59 457.13 L1048.98 456.51 L1049.37 455.88 L1049.76 455.26 L1050.15 454.64 L1050.54 454.02 L1050.93 453.4 L1051.32 452.78 L1051.7 452.17 L1052.09 451.56 L1052.48 450.95 L1052.87 450.34 L1053.26 449.74 L1053.65 449.14 L1054.04 448.55 L1054.43 447.96 L1054.82 447.37 L1055.21 446.79 L1055.6 446.21 L1055.99 445.64 L1056.38 445.07 L1056.77 444.51 L1057.16 443.96 L1057.54 443.41 L1057.93 442.87 L1058.32 442.33 L1058.71 441.8 L1059.1 441.28 L1059.49 440.77 L1059.88 440.26 L1060.27 439.76 L1060.66 439.27 L1061.05 438.79 L1061.44 438.31 L1061.83 437.85 L1062.22 437.39 L1062.61 436.94 L1063 436.51 L1063.38 436.08 L1063.77 435.66 L1064.16 435.25 L1064.55 434.85 L1064.94 434.46 L1065.33 434.08 L1065.72 433.71 L1066.11 433.35 L1066.5 433 L1066.89 432.67 L1067.28 432.34 L1067.67 432.03 L1068.06 431.73 L1068.45 431.44 L1068.83 431.16 L1069.22 430.89 L1069.61 430.63 L1070 430.39 L1070.39 430.16 L1070.78 429.94 L1071.17 429.73 L1071.56 429.54 L1071.95 429.36 L1072.34 429.19 L1072.73 429.03 L1073.12 428.89 L1073.51 428.75 L1073.9 428.64 L1074.29 428.53 L1074.67 428.44 L1075.06 428.36 L1075.45 428.29 L1075.84 428.24 L1076.23 428.2 L1076.62 428.17 L1077.01 428.16 L1077.4 428.16" fill="none" stroke="#a2c341" stroke-width="2.1"/><path d="M727.88 406.75 L728.27 406.75 L728.65 406.76 L729.04 406.8 L729.43 406.87 L729.82 406.96 L730.21 407.07 L730.6 407.2 L730.99 407.36 L731.38 407.55 L731.77 407.76 L732.15 407.99 L732.54 408.24 L732.93 408.52 L733.32 408.82 L733.71 409.14 L734.1 409.49 L734.49 409.86 L734.88 410.25 L735.26 410.66 L735.65 411.09 L736.04 411.55 L736.43 412.03 L736.82 412.52 L737.21 413.04 L737.6 413.58 L737.99 414.14 L738.37 414.72 L738.76 415.31 L739.15 415.93 L739.54 416.57 L739.93 417.22 L740.32 417.89 L740.71 418.58 L741.1 419.28 L741.48 420 L741.87 420.74 L742.26 421.5 L742.65 422.26 L743.04 423.05 L743.43 423.84 L743.82 424.66 L744.21 425.48 L744.6 426.32 L744.98 427.17 L745.37 428.03 L745.76 428.9 L746.15 429.78 L746.54 430.68 L746.93 431.58 L747.32 432.49 L747.71 433.41 L748.09 434.34 L748.48 435.28 L748.87 436.22 L749.26 437.17 L749.65 438.12 L750.04 439.08 L750.43 440.05 L750.82 441.02 L751.2 441.99 L751.59 442.96 L751.98 443.94 L752.37 444.92 L752.76 445.9 L753.15 446.88 L753.54 447.86 L753.93 448.84 L754.32 449.82 L754.7 450.79 L755.09 451.77 L755.48 452.74 L755.87 453.7 L756.26 454.67 L756.65 455.62 L757.04 456.58 L757.43 457.52 L757.81 458.46 L758.2 459.39 L758.59 460.32 L758.98 461.24 L759.37 462.14 L759.76 463.04 L760.15 463.93 L760.54 464.81 L760.92 465.67 L761.31 466.53 L761.7 467.37 L762.09 468.21 L762.48 469.02 L762.87 469.83 L763.26 470.62 L763.65 471.39 L764.03 472.16 L764.42 472.9 L764.81 473.63 L765.2 474.34 L765.59 475.04 L765.98 475.72 L766.37 476.38 L766.76 477.03 L767.15 477.65 L767.53 478.26 L767.92 478.85 L768.31 479.42 L768.7 479.97 L769.09 480.49 L769.48 481 L769.87 481.49 L770.26 481.96 L770.64 482.4 L771.03 482.83 L771.42 483.23 L771.81 483.61 L772.2 483.96 L772.59 484.3 L772.98 484.61 L773.37 484.9 L773.75 485.17 L774.14 485.41 L774.53 485.63 L774.92 485.82 L775.31 486 L775.7 486.15 L776.09 486.27 L776.48 486.37 L776.86 486.45 L777.25 486.5 L777.64 486.53 L778.03 486.53 L778.42 486.51 L778.81 486.47 L779.2 486.4 L779.59 486.31 L779.98 486.2 L780.36 486.06 L780.75 485.89 L781.14 485.71 L781.53 485.5 L781.92 485.26 L782.31 485.01 L782.7 484.72 L783.09 484.42 L783.47 484.1 L783.86 483.75 L784.25 483.38 L784.64 482.98 L785.03 482.57 L785.42 482.13 L785.81 481.67 L786.2 481.19 L786.58 480.69 L786.97 480.17 L787.36 479.63 L787.75 479.07 L788.14 478.49 L788.53 477.89 L788.92 477.27 L789.31 476.63 L789.69 475.98 L790.08 475.3 L790.47 474.61 L790.86 473.91 L791.25 473.18 L791.64 472.44 L792.03 471.69 L792.42 470.92 L792.81 470.13 L793.19 469.33 L793.58 468.52 L793.97 467.69 L794.36 466.86 L794.75 466 L795.14 465.14 L795.53 464.27 L795.92 463.38 L796.3 462.49 L796.69 461.58 L797.08 460.67 L797.47 459.75 L797.86 458.82 L798.25 457.88 L798.64 456.94 L799.03 455.99 L799.41 455.03 L799.8 454.07 L800.19 453.11 L800.58 452.14 L800.97 451.17 L801.36 450.19 L801.75 449.21 L802.14 448.24 L802.53 447.26 L802.91 446.28 L803.3 445.3 L803.69 444.32 L804.08 443.34 L804.47 442.36 L804.86 441.39 L805.25 440.42 L805.64 439.45 L806.02 438.49 L806.41 437.54 L806.8 436.58 L807.19 435.64 L807.58 434.7 L807.97 433.77 L808.36 432.84 L808.75 431.93 L809.13 431.02 L809.52 430.13 L809.91 429.24 L810.3 428.36 L810.69 427.5 L811.08 426.64 L811.47 425.8 L811.86 424.97 L812.24 424.15 L812.63 423.35 L813.02 422.56 L813.41 421.79 L813.8 421.03 L814.19 420.29 L814.58 419.56 L814.97 418.85 L815.36 418.15 L815.74 417.47 L816.13 416.81 L816.52 416.17 L816.91 415.55 L817.3 414.94 L817.69 414.36 L818.08 413.79 L818.47 413.25 L818.85 412.72 L819.24 412.21 L819.63 411.73 L820.02 411.27 L820.41 410.82 L820.8 410.4 L821.19 410 L821.58 409.63 L821.96 409.27 L822.35 408.94 L822.74 408.63 L823.13 408.34 L823.52 408.08 L823.91 407.84 L824.3 407.62 L824.69 407.43 L825.07 407.26 L825.46 407.12 L825.85 407 L826.24 406.9 L826.63 406.82 L827.02 406.77 L827.41 406.75 L827.8 406.75 L828.19 406.77 L828.57 406.82 L828.96 406.89 L829.35 406.98 L829.74 407.1 L830.13 407.24 L830.52 407.41 L830.91 407.6 L831.3 407.81 L831.68 408.05 L832.07 408.31 L832.46 408.59 L832.85 408.9 L833.24 409.23 L833.63 409.58 L834.02 409.95 L834.41 410.35 L834.79 410.77 L835.18 411.21 L835.57 411.67 L835.96 412.15 L836.35 412.65 L836.74 413.18 L837.13 413.72 L837.52 414.28 L837.91 414.87 L838.29 415.47 L838.68 416.09 L839.07 416.73 L839.46 417.39 L839.85 418.06 L840.24 418.76 L840.63 419.46 L841.02 420.19 L841.4 420.93 L841.79 421.69 L842.18 422.46 L842.57 423.25 L842.96 424.05 L843.35 424.86 L843.74 425.69 L844.13 426.53 L844.51 427.38 L844.9 428.25 L845.29 429.12 L845.68 430.01 L846.07 430.91 L846.46 431.81 L846.85 432.73 L847.24 433.65 L847.62 434.58 L848.01 435.52 L848.4 436.46 L848.79 437.41 L849.18 438.37 L849.57 439.33 L849.96 440.29 L850.35 441.26 L850.74 442.24 L851.12 443.21 L851.51 444.19 L851.9 445.17 L852.29 446.15 L852.68 447.13 L853.07 448.11 L853.46 449.09 L853.85 450.06 L854.23 451.04 L854.62 452.01 L855.01 452.98 L855.4 453.95 L855.79 454.91 L856.18 455.87 L856.57 456.82 L856.96 457.76 L857.34 458.7 L857.73 459.63 L858.12 460.55 L858.51 461.47 L858.9 462.37 L859.29 463.27 L859.68 464.15 L860.07 465.03 L860.45 465.89 L860.84 466.75 L861.23 467.59 L861.62 468.41 L862.01 469.23 L862.4 470.03 L862.79 470.82 L863.18 471.59 L863.57 472.35 L863.95 473.09 L864.34 473.81 L864.73 474.52 L865.12 475.22 L865.51 475.89 L865.9 476.55 L866.29 477.19 L866.68 477.81 L867.06 478.41 L867.45 478.99 L867.84 479.56 L868.23 480.1 L868.62 480.63 L869.01 481.13 L869.4 481.61 L869.79 482.07 L870.17 482.51 L870.56 482.93 L870.95 483.33 L871.34 483.7 L871.73 484.05 L872.12 484.38 L872.51 484.69 L872.9 484.97 L873.28 485.23 L873.67 485.47 L874.06 485.68 L874.45 485.87 L874.84 486.04 L875.23 486.18 L875.62 486.3 L876.01 486.39 L876.4 486.46 L876.78 486.51 L877.17 486.53 L877.56 486.53 L877.95 486.51 L878.34 486.46 L878.73 486.38 L879.12 486.28 L879.51 486.16 L879.89 486.02 L880.28 485.85 L880.67 485.66 L881.06 485.44 L881.45 485.2 L881.84 484.94 L882.23 484.65 L882.62 484.34 L883 484.01 L883.39 483.65 L883.78 483.28 L884.17 482.88 L884.56 482.46 L884.95 482.02 L885.34 481.55 L885.73 481.07 L886.12 480.56 L886.5 480.04 L886.89 479.49 L887.28 478.92 L887.67 478.34 L888.06 477.73 L888.45 477.11 L888.84 476.47 L889.23 475.81 L889.61 475.13 L890 474.44 L890.39 473.72 L890.78 473 L891.17 472.25 L891.56 471.49 L891.95 470.72 L892.34 469.93 L892.72 469.13 L893.11 468.31 L893.5 467.48 L893.89 466.64 L894.28 465.79 L894.67 464.92 L895.06 464.04 L895.45 463.16 L895.83 462.26 L896.22 461.35 L896.61 460.44 L897 459.51 L897.39 458.58 L897.78 457.64 L898.17 456.7 L898.56 455.75 L898.95 454.79 L899.33 453.83 L899.72 452.86 L900.11 451.89 L900.5 450.92 L900.89 449.94 L901.28 448.97 L901.67 447.99 L902.06 447.01 L902.44 446.03 L902.83 445.05 L903.22 444.07 L903.61 443.09 L904 442.12 L904.39 441.14 L904.78 440.17 L905.17 439.21 L905.55 438.25 L905.94 437.29 L906.33 436.34 L906.72 435.4 L907.11 434.46 L907.5 433.53 L907.89 432.61 L908.28 431.7 L908.66 430.79 L909.05 429.9 L909.44 429.02 L909.83 428.14 L910.22 427.28 L910.61 426.43 L911 425.59 L911.39 424.76 L911.78 423.95 L912.16 423.15 L912.55 422.37 L912.94 421.59 L913.33 420.84 L913.72 420.1 L914.11 419.38 L914.5 418.67 L914.89 417.98 L915.27 417.31 L915.66 416.65 L916.05 416.01 L916.44 415.39 L916.83 414.79 L917.22 414.21 L917.61 413.65 L918 413.11 L918.38 412.59 L918.77 412.09 L919.16 411.61 L919.55 411.15 L919.94 410.71 L920.33 410.3 L920.72 409.91 L921.11 409.53 L921.49 409.19 L921.88 408.86 L922.27 408.56 L922.66 408.28 L923.05 408.02 L923.44 407.78 L923.83 407.57 L924.22 407.39 L924.61 407.22 L924.99 407.08 L925.38 406.97 L925.77 406.88 L926.16 406.81 L926.55 406.77 L926.94 406.75 L927.33 406.75 L927.72 406.78 L928.1 406.83 L928.49 406.91 L928.88 407.01 L929.27 407.13 L929.66 407.28 L930.05 407.45 L930.44 407.65 L930.83 407.87 L931.21 408.11 L931.6 408.38 L931.99 408.67 L932.38 408.98 L932.77 409.31 L933.16 409.67 L933.55 410.05 L933.94 410.45 L934.33 410.88 L934.71 411.32 L935.1 411.79 L935.49 412.28 L935.88 412.78 L936.27 413.31 L936.66 413.86 L937.05 414.43 L937.44 415.02 L937.82 415.63 L938.21 416.25 L938.6 416.9 L938.99 417.56 L939.38 418.24 L939.77 418.93 L940.16 419.65 L940.55 420.38 L940.93 421.12 L941.32 421.88 L941.71 422.66 L942.1 423.45 L942.49 424.25 L942.88 425.07 L943.27 425.9 L943.66 426.75 L944.04 427.6 L944.43 428.47 L944.82 429.35 L945.21 430.24 L945.6 431.13 L945.99 432.04 L946.38 432.96 L946.77 433.88 L947.16 434.82 L947.54 435.76 L947.93 436.7 L948.32 437.65 L948.71 438.61 L949.1 439.57 L949.49 440.54 L949.88 441.51 L950.27 442.48 L950.65 443.46 L951.04 444.44 L951.43 445.42 L951.82 446.4 L952.21 447.38 L952.6 448.36 L952.99 449.34 L953.38 450.31 L953.76 451.29 L954.15 452.26 L954.54 453.23 L954.93 454.19 L955.32 455.15 L955.71 456.11 L956.1 457.06 L956.49 458 L956.87 458.94 L957.26 459.86 L957.65 460.78 L958.04 461.7 L958.43 462.6 L958.82 463.49 L959.21 464.38 L959.6 465.25 L959.99 466.11 L960.37 466.96 L960.76 467.8 L961.15 468.62 L961.54 469.43 L961.93 470.23 L962.32 471.01 L962.71 471.78 L963.1 472.54 L963.48 473.27 L963.87 473.99 L964.26 474.7 L964.65 475.39 L965.04 476.06 L965.43 476.71 L965.82 477.35 L966.21 477.96 L966.59 478.56 L966.98 479.14 L967.37 479.7 L967.76 480.24 L968.15 480.75 L968.54 481.25 L968.93 481.73 L969.32 482.19 L969.71 482.62 L970.09 483.03 L970.48 483.42 L970.87 483.79 L971.26 484.14 L971.65 484.46 L972.04 484.76 L972.43 485.04 L972.82 485.29 L973.2 485.52 L973.59 485.73 L973.98 485.92 L974.37 486.08 L974.76 486.21 L975.15 486.32 L975.54 486.41 L975.93 486.48 L976.31 486.52 L976.7 486.53 L977.09 486.53 L977.48 486.5 L977.87 486.44 L978.26 486.36 L978.65 486.26 L979.04 486.13 L979.42 485.98 L979.81 485.8 L980.2 485.6 L980.59 485.38 L980.98 485.13 L981.37 484.87 L981.76 484.57 L982.15 484.26 L982.54 483.92 L982.92 483.56 L983.31 483.18 L983.7 482.77 L984.09 482.35 L984.48 481.9 L984.87 481.43 L985.26 480.94 L985.65 480.43 L986.03 479.9 L986.42 479.35 L986.81 478.78 L987.2 478.19 L987.59 477.58 L987.98 476.95 L988.37 476.3 L988.76 475.64 L989.14 474.96 L989.53 474.26 L989.92 473.54 L990.31 472.81 L990.7 472.06 L991.09 471.3 L991.48 470.52 L991.87 469.73 L992.25 468.92 L992.64 468.1 L993.03 467.27 L993.42 466.43 L993.81 465.57 L994.2 464.7 L994.59 463.82 L994.98 462.93 L995.37 462.03 L995.75 461.12 L996.14 460.2 L996.53 459.28 L996.92 458.35 L997.31 457.41 L997.7 456.46 L998.09 455.51 L998.48 454.55 L998.86 453.58 L999.25 452.62 L999.64 451.65 L1000.03 450.67 L1000.42 449.7 L1000.81 448.72 L1001.2 447.74 L1001.59 446.76 L1001.97 445.78 L1002.36 444.8 L1002.75 443.82 L1003.14 442.84 L1003.53 441.87 L1003.92 440.9 L1004.31 439.93 L1004.7 438.97 L1005.08 438.01 L1005.47 437.05 L1005.86 436.1 L1006.25 435.16 L1006.64 434.23 L1007.03 433.3 L1007.42 432.38 L1007.81 431.47 L1008.2 430.57 L1008.58 429.67 L1008.97 428.79 L1009.36 427.92 L1009.75 427.06 L1010.14 426.21 L1010.53 425.38 L1010.92 424.55 L1011.31 423.75 L1011.69 422.95 L1012.08 422.17 L1012.47 421.4 L1012.86 420.65 L1013.25 419.91 L1013.64 419.2 L1014.03 418.49 L1014.42 417.81 L1014.8 417.14 L1015.19 416.49 L1015.58 415.85 L1015.97 415.24 L1016.36 414.64 L1016.75 414.07 L1017.14 413.51 L1017.53 412.98 L1017.92 412.46 L1018.3 411.97 L1018.69 411.49 L1019.08 411.04 L1019.47 410.61 L1019.86 410.2 L1020.25 409.81 L1020.64 409.44 L1021.03 409.1 L1021.41 408.78 L1021.8 408.48 L1022.19 408.21 L1022.58 407.96 L1022.97 407.73 L1023.36 407.52 L1023.75 407.34 L1024.14 407.19 L1024.52 407.05 L1024.91 406.94 L1025.3 406.86 L1025.69 406.8 L1026.08 406.76 L1026.47 406.75 L1026.86 406.76 L1027.25 406.79 L1027.63 406.85 L1028.02 406.93 L1028.41 407.04 L1028.8 407.17 L1029.19 407.32 L1029.58 407.5 L1029.97 407.7 L1030.36 407.93 L1030.75 408.18 L1031.13 408.45 L1031.52 408.74 L1031.91 409.06 L1032.3 409.4 L1032.69 409.77 L1033.08 410.15 L1033.47 410.56 L1033.86 410.99 L1034.24 411.44 L1034.63 411.91 L1035.02 412.4 L1035.41 412.92 L1035.8 413.45 L1036.19 414 L1036.58 414.58 L1036.97 415.17 L1037.35 415.78 L1037.74 416.41 L1038.13 417.06 L1038.52 417.73 L1038.91 418.41 L1039.3 419.11 L1039.69 419.83 L1040.08 420.56 L1040.46 421.31 L1040.85 422.08 L1041.24 422.86 L1041.63 423.65 L1042.02 424.46 L1042.41 425.28 L1042.8 426.12 L1043.19 426.96 L1043.58 427.82 L1043.96 428.69 L1044.35 429.57 L1044.74 430.46 L1045.13 431.36 L1045.52 432.27 L1045.91 433.19 L1046.3 434.12 L1046.69 435.05 L1047.07 435.99 L1047.46 436.94 L1047.85 437.9 L1048.24 438.85 L1048.63 439.82 L1049.02 440.79 L1049.41 441.76 L1049.8 442.73 L1050.18 443.71 L1050.57 444.69 L1050.96 445.67 L1051.35 446.65 L1051.74 447.63 L1052.13 448.6 L1052.52 449.58 L1052.91 450.56 L1053.29 451.53 L1053.68 452.5 L1054.07 453.47 L1054.46 454.44 L1054.85 455.39 L1055.24 456.35 L1055.63 457.3 L1056.02 458.24 L1056.41 459.17 L1056.79 460.1 L1057.18 461.02 L1057.57 461.93 L1057.96 462.83 L1058.35 463.72 L1058.74 464.6 L1059.13 465.47 L1059.52 466.33 L1059.9 467.17 L1060.29 468.01 L1060.68 468.83 L1061.07 469.64 L1061.46 470.43 L1061.85 471.21 L1062.24 471.97 L1062.63 472.72 L1063.01 473.46 L1063.4 474.17 L1063.79 474.88 L1064.18 475.56 L1064.57 476.23 L1064.96 476.87 L1065.35 477.5 L1065.74 478.12 L1066.13 478.71 L1066.51 479.28 L1066.9 479.84 L1067.29 480.37 L1067.68 480.88 L1068.07 481.38 L1068.46 481.85 L1068.85 482.3 L1069.24 482.73 L1069.62 483.13 L1070.01 483.52 L1070.4 483.88 L1070.79 484.22 L1071.18 484.54 L1071.57 484.83 L1071.96 485.1 L1072.35 485.35 L1072.73 485.58 L1073.12 485.78 L1073.51 485.96 L1073.9 486.11 L1074.29 486.24 L1074.68 486.35 L1075.07 486.43 L1075.46 486.49 L1075.84 486.52 L1076.23 486.53 L1076.62 486.52 L1077.01 486.48 L1077.4 486.42" fill="none" stroke="#2e3c49" stroke-width="1.9" stroke-dasharray="0 3.25" stroke-linecap="round"/><circle cx="727.29" cy="443.97" r="1.85" fill="#8cbfd1"/><circle cx="737.21" cy="446.01" r="1.85" fill="#8cbfd1"/><circle cx="745.09" cy="452.72" r="1.85" fill="#8cbfd1"/><circle cx="751.36" cy="460.74" r="1.85" fill="#8cbfd1"/><circle cx="758.8" cy="467.74" r="1.85" fill="#8cbfd1"/><circle cx="767.84" cy="471.68" r="1.85" fill="#8cbfd1"/><circle cx="777.91" cy="470.66" r="1.85" fill="#8cbfd1"/><circle cx="786.51" cy="465.26" r="1.85" fill="#8cbfd1"/><circle cx="793.07" cy="457.53" r="1.85" fill="#8cbfd1"/><circle cx="799.78" cy="449.8" r="1.85" fill="#8cbfd1"/><circle cx="808.39" cy="444.7" r="1.85" fill="#8cbfd1"/><circle cx="818.6" cy="444.26" r="1.85" fill="#8cbfd1"/><circle cx="827.64" cy="448.2" r="1.85" fill="#8cbfd1"/><circle cx="834.79" cy="455.64" r="1.85" fill="#8cbfd1"/><circle cx="841.06" cy="463.66" r="1.85" fill="#8cbfd1"/><circle cx="848.94" cy="469.78" r="1.85" fill="#8cbfd1"/><circle cx="859" cy="471.97" r="1.85" fill="#8cbfd1"/><circle cx="868.63" cy="469.2" r="1.85" fill="#8cbfd1"/><circle cx="876.21" cy="462.64" r="1.85" fill="#8cbfd1"/><circle cx="882.78" cy="454.61" r="1.85" fill="#8cbfd1"/><circle cx="889.92" cy="447.61" r="1.85" fill="#8cbfd1"/><circle cx="898.97" cy="444.11" r="1.85" fill="#8cbfd1"/><circle cx="909.55" cy="445.14" r="1.85" fill="#8cbfd1"/><circle cx="918.01" cy="450.69" r="1.85" fill="#8cbfd1"/><circle cx="924.43" cy="458.42" r="1.85" fill="#8cbfd1"/><circle cx="931.28" cy="465.86" r="1.85" fill="#8cbfd1"/><circle cx="940.04" cy="471.11" r="1.85" fill="#8cbfd1"/><circle cx="950.1" cy="471.4" r="1.85" fill="#8cbfd1"/><circle cx="959.15" cy="467.02" r="1.85" fill="#8cbfd1"/><circle cx="966" cy="459.88" r="1.85" fill="#8cbfd1"/><circle cx="972.57" cy="451.85" r="1.85" fill="#8cbfd1"/><circle cx="980.74" cy="445.73" r="1.85" fill="#8cbfd1"/><circle cx="990.51" cy="443.83" r="1.85" fill="#8cbfd1"/><circle cx="1000.14" cy="446.6" r="1.85" fill="#8cbfd1"/><circle cx="1007.87" cy="453.46" r="1.85" fill="#8cbfd1"/><circle cx="1014.14" cy="461.48" r="1.85" fill="#8cbfd1"/><circle cx="1021.58" cy="468.48" r="1.85" fill="#8cbfd1"/><circle cx="1030.92" cy="471.84" r="1.85" fill="#8cbfd1"/><circle cx="1040.98" cy="470.38" r="1.85" fill="#8cbfd1"/><circle cx="1049.15" cy="464.69" r="1.85" fill="#8cbfd1"/><circle cx="1055.86" cy="456.81" r="1.85" fill="#8cbfd1"/><circle cx="1062.72" cy="449.08" r="1.85" fill="#8cbfd1"/><circle cx="1071.62" cy="444.41" r="1.85" fill="#8cbfd1"/><path d="M727.4 370.3 V528.8 H1077.4" fill="none" stroke="#5a5a5a" stroke-width="1.3"/></svg>
<div class="t" style="left:715.6px;top:68.7px;font-size:17.6px;line-height:17.6px;color:#747578;font-weight:bold;transform:scaleX(0.99);transform-origin:0 50%;">Performance Report</div>
<div class="t" style="left:715.5px;top:89.84px;font-size:8.1px;line-height:8.1px;color:#505050;transform:scaleX(0.957);transform-origin:0 50%;">Sed ut perspiciatis unde omnis iste natus error sit voluptatem accusant</div>
<div class="t" style="left:728.2px;top:301.53px;font-size:5.75px;line-height:5.75px;color:#4a4a4a;font-weight:bold;transform:scaleX(0.905);transform-origin:0 50%;">&nbsp;Neque porro quisquam est, qui dolorem ipsum quia dolor sit</div><div class="t" style="left:728.2px;top:308.88px;font-size:5.75px;line-height:5.75px;color:#4a4a4a;font-weight:bold;transform:scaleX(0.905);transform-origin:0 50%;">amet, consectetur, adipisci velit, sed quia non numquam eius</div><div class="t" style="left:728.2px;top:316.23px;font-size:5.75px;line-height:5.75px;color:#4a4a4a;font-weight:bold;transform:scaleX(0.905);transform-origin:0 50%;">modi tempora incidunt ut labore et dolore magnam aliquam</div><div class="t" style="left:728.2px;top:323.58px;font-size:5.75px;line-height:5.75px;color:#4a4a4a;font-weight:bold;transform:scaleX(0.905);transform-origin:0 50%;">quaerat voluptatem.</div>
<div class="t" style="left:728.2px;top:551.33px;font-size:5.75px;line-height:5.75px;color:#4a4a4a;font-weight:bold;transform:scaleX(0.905);transform-origin:0 50%;">&nbsp;Neque porro quisquam est, qui dolorem ipsum quia dolor sit amet,</div><div class="t" style="left:728.2px;top:558.78px;font-size:5.75px;line-height:5.75px;color:#4a4a4a;font-weight:bold;transform:scaleX(0.905);transform-origin:0 50%;">consectetur, adipisci velit, sed quia non numquam eius modi tempora</div><div class="t" style="left:728.2px;top:566.23px;font-size:5.75px;line-height:5.75px;color:#4a4a4a;font-weight:bold;transform:scaleX(0.905);transform-origin:0 50%;">incidunt ut labore et dolore magnam aliquam quaerat voluptatem.</div>
</div></div>
</body></html>
